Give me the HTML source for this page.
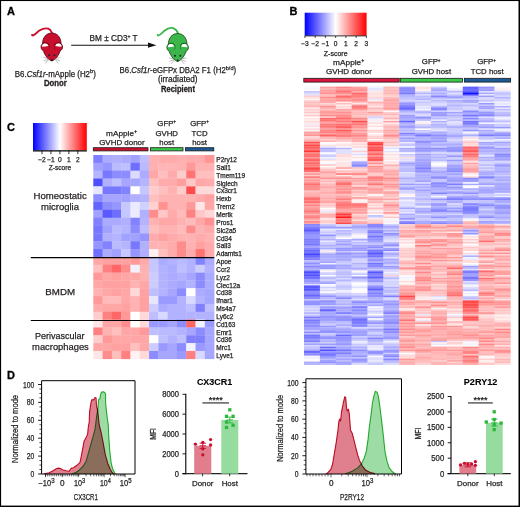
<!DOCTYPE html><html><head><meta charset="utf-8"><style>
html,body{margin:0;padding:0;background:#fff;}
svg{display:block;font-family:"Liberation Sans", sans-serif;}
</style></head><body>
<svg width="520" height="507" viewBox="0 0 520 507">
<rect width="520" height="507" fill="#fff"/>
<rect x="0" y="0" width="520" height="1.05" fill="#000"/><rect x="0" y="0" width="1.1" height="507" fill="#000"/><rect x="518.5" y="0" width="1.5" height="507" fill="#000"/><rect x="0" y="505.6" width="520" height="1.4" fill="#000"/>
<text x="7" y="15.2" font-size="11" text-anchor="start" font-weight="bold" fill="#000" stroke="#000" stroke-width="0.3" >A</text>
<text x="289.5" y="15.2" font-size="11" text-anchor="start" font-weight="bold" fill="#000" stroke="#000" stroke-width="0.3" >B</text>
<text x="7" y="130.6" font-size="11" text-anchor="start" font-weight="bold" fill="#000" stroke="#000" stroke-width="0.3" >C</text>
<text x="7" y="378.8" font-size="11" text-anchor="start" font-weight="bold" fill="#000" stroke="#000" stroke-width="0.3" >D</text>
<g transform="translate(51.8,33)"><path d="M0.3,0.3 C-0.5,-2 -1.5,-3.5 -3.5,-4.3 C-6,-5.3 -9,-4.5 -12.4,-2.4 C-15,-0.5 -17,1.8 -18.6,2.4 C-19.2,2.6 -19.6,2.2 -19.8,1.8" fill="none" stroke="#c8102e" stroke-width="1.8" stroke-linecap="round"/><path d="M0,0 C5.6,0 9.3,4.6 9.3,11 C9.3,14 8,16 6,17 L-6,17 C-8,16 -9.3,14 -9.3,11 C-9.3,4.6 -5.6,0 0,0 Z" fill="#c8102e" stroke="#4a000c" stroke-width="0.75"/><circle cx="-6.5" cy="14.0" r="4.3" fill="#c8102e" stroke="#4a000c" stroke-width="0.75"/><path d="M-9.75,13.80 A3.2,3.2 0 0 1 -3.45,12.90 Q-6.70,13.40 -9.75,13.80 Z" fill="#fff"/><circle cx="6.5" cy="14.0" r="4.3" fill="#c8102e" stroke="#4a000c" stroke-width="0.75"/><path d="M9.75,13.80 A3.2,3.2 0 0 0 3.45,12.90 Q6.70,13.40 9.75,13.80 Z" fill="#fff"/><path d="M-2.2,15.6 L-8.4,18.4 C-7.6,19.8 -7,21.2 -6.2,22.6 C-5.2,24.4 -4,25.6 -2.6,26.6 C-1.6,27.3 -0.8,27.9 0,27.9 C0.8,27.9 1.6,27.3 2.6,26.6 C4,25.6 5.2,24.4 6.2,22.6 C7,21.2 7.6,19.8 8.4,18.4 L2.2,15.6 Z" fill="#c8102e"/><rect x="-2.3" y="12" width="4.6" height="5" fill="#c8102e"/><path d="M-8.4,18.4 C-7.6,19.8 -7,21.2 -6.2,22.6 C-5.2,24.4 -4,25.6 -2.6,26.6 C-1.6,27.3 -0.8,27.9 0,27.9 C0.8,27.9 1.6,27.3 2.6,26.6 C4,25.6 5.2,24.4 6.2,22.6 C7,21.2 7.6,19.8 8.4,18.4" fill="none" stroke="#4a000c" stroke-width="0.75"/><circle cx="-2.7" cy="22.2" r="1.05" fill="#1c2a2a"/><circle cx="2.7" cy="22.2" r="1.05" fill="#1c2a2a"/><circle cx="0" cy="27" r="0.9" fill="#111"/><path d="M-3.4,25.6 L-8.6,24.4 M-3.5,26.3 L-8.2,27.8 M-3.6,26.9 L-6.6,30.4" stroke="#7a7a7a" stroke-width="0.5" fill="none"/><path d="M3.4,25.6 L8.6,24.4 M3.5,26.3 L8.2,27.8 M3.6,26.9 L6.6,30.4" stroke="#7a7a7a" stroke-width="0.5" fill="none"/></g>
<g transform="translate(177.65,33.5)"><path d="M0.4,0 C-0.3,-2.2 -1.8,-4.3 -4.5,-5.3 C-7.5,-6.2 -10.5,-5 -13.5,-2.5 C-15.5,-0.8 -17.5,1.5 -19.2,2 C-19.7,2.1 -20,1.8 -20.1,1.4" fill="none" stroke="#3cb54a" stroke-width="1.8" stroke-linecap="round"/><path d="M0,0 C5.6,0 9.3,4.6 9.3,11 C9.3,14 8,16 6,17 L-6,17 C-8,16 -9.3,14 -9.3,11 C-9.3,4.6 -5.6,0 0,0 Z" fill="#3cb54a" stroke="#0b3a10" stroke-width="0.75"/><circle cx="-6.5" cy="14.0" r="4.3" fill="#3cb54a" stroke="#0b3a10" stroke-width="0.75"/><path d="M-9.75,13.80 A3.2,3.2 0 0 1 -3.45,12.90 Q-6.70,13.40 -9.75,13.80 Z" fill="#fff"/><circle cx="6.5" cy="14.0" r="4.3" fill="#3cb54a" stroke="#0b3a10" stroke-width="0.75"/><path d="M9.75,13.80 A3.2,3.2 0 0 0 3.45,12.90 Q6.70,13.40 9.75,13.80 Z" fill="#fff"/><path d="M-2.2,15.6 L-8.4,18.4 C-7.6,19.8 -7,21.2 -6.2,22.6 C-5.2,24.4 -4,25.6 -2.6,26.6 C-1.6,27.3 -0.8,27.9 0,27.9 C0.8,27.9 1.6,27.3 2.6,26.6 C4,25.6 5.2,24.4 6.2,22.6 C7,21.2 7.6,19.8 8.4,18.4 L2.2,15.6 Z" fill="#3cb54a"/><rect x="-2.3" y="12" width="4.6" height="5" fill="#3cb54a"/><path d="M-8.4,18.4 C-7.6,19.8 -7,21.2 -6.2,22.6 C-5.2,24.4 -4,25.6 -2.6,26.6 C-1.6,27.3 -0.8,27.9 0,27.9 C0.8,27.9 1.6,27.3 2.6,26.6 C4,25.6 5.2,24.4 6.2,22.6 C7,21.2 7.6,19.8 8.4,18.4" fill="none" stroke="#0b3a10" stroke-width="0.75"/><circle cx="-2.7" cy="22.2" r="1.05" fill="#1c2a2a"/><circle cx="2.7" cy="22.2" r="1.05" fill="#1c2a2a"/><circle cx="0" cy="27" r="0.9" fill="#111"/><path d="M-3.4,25.6 L-8.6,24.4 M-3.5,26.3 L-8.2,27.8 M-3.6,26.9 L-6.6,30.4" stroke="#7a7a7a" stroke-width="0.5" fill="none"/><path d="M3.4,25.6 L8.6,24.4 M3.5,26.3 L8.2,27.8 M3.6,26.9 L6.6,30.4" stroke="#7a7a7a" stroke-width="0.5" fill="none"/></g>
<line x1="71.2" y1="45.2" x2="150" y2="45.2" stroke="#111" stroke-width="1.1"/>
<path d="M148,42.6 L156.4,45.2 L148,47.8 Z" fill="#111"/>
<text x="89.6" y="41" font-size="8.2" text-anchor="start" font-weight="normal" fill="#231f20" textLength="48" lengthAdjust="spacingAndGlyphs" stroke="#231f20" stroke-width="0.25" >BM ± CD3<tspan font-size="5" dy="-3">+</tspan><tspan dy="3"> T</tspan></text>
<text x="14.8" y="76.6" font-size="8.2" text-anchor="start" font-weight="normal" fill="#231f20" textLength="81" lengthAdjust="spacingAndGlyphs" stroke="#231f20" stroke-width="0.25" >B6.<tspan font-style="italic">Csf1r</tspan>-mApple (H2<tspan font-size="5.8" dy="-3.2">b</tspan><tspan dy="3.2">)</tspan></text>
<text x="43.9" y="85.9" font-size="8.2" text-anchor="start" font-weight="bold" fill="#231f20" textLength="22.9" lengthAdjust="spacingAndGlyphs" stroke="#231f20" stroke-width="0.3" >Donor</text>
<text x="119.6" y="73.2" font-size="8.2" text-anchor="start" font-weight="normal" fill="#231f20" textLength="116.5" lengthAdjust="spacingAndGlyphs" stroke="#231f20" stroke-width="0.25" >B6.<tspan font-style="italic">Csf1r</tspan>-eGFPx DBA2 F1 (H2<tspan font-size="5.8" dy="-3.2">b/d</tspan><tspan dy="3.2">)</tspan></text>
<text x="177.8" y="82.4" font-size="8.2" text-anchor="middle" font-weight="normal" fill="#231f20" stroke="#231f20" stroke-width="0.25" >(irradiated)</text>
<text x="161" y="91.8" font-size="8.2" text-anchor="start" font-weight="bold" fill="#231f20" textLength="34" lengthAdjust="spacingAndGlyphs" stroke="#231f20" stroke-width="0.3" >Recipient</text>
<defs><linearGradient id="cb" x1="0" x2="1" y1="0" y2="0"><stop offset="0" stop-color="#0000ff"/><stop offset="0.5" stop-color="#ffffff"/><stop offset="1" stop-color="#ff0000"/></linearGradient></defs>
<rect x="304.7" y="12.7" width="61.9" height="23" fill="url(#cb)"/>
<line x1="304.7" y1="35.9" x2="366.6" y2="35.9" stroke="#000" stroke-width="0.8"/>
<line x1="304.90" y1="35.9" x2="304.90" y2="38" stroke="#000" stroke-width="0.7"/>
<text x="304.90" y="45.6" font-size="6.6" text-anchor="middle" font-weight="normal" fill="#231f20" stroke="#231f20" stroke-width="0.25" >−3</text>
<line x1="315.15" y1="35.9" x2="315.15" y2="38" stroke="#000" stroke-width="0.7"/>
<text x="315.15" y="45.6" font-size="6.6" text-anchor="middle" font-weight="normal" fill="#231f20" stroke="#231f20" stroke-width="0.25" >−2</text>
<line x1="325.40" y1="35.9" x2="325.40" y2="38" stroke="#000" stroke-width="0.7"/>
<text x="325.40" y="45.6" font-size="6.6" text-anchor="middle" font-weight="normal" fill="#231f20" stroke="#231f20" stroke-width="0.25" >−1</text>
<line x1="335.65" y1="35.9" x2="335.65" y2="38" stroke="#000" stroke-width="0.7"/>
<text x="335.65" y="45.6" font-size="6.6" text-anchor="middle" font-weight="normal" fill="#231f20" stroke="#231f20" stroke-width="0.25" >0</text>
<line x1="345.90" y1="35.9" x2="345.90" y2="38" stroke="#000" stroke-width="0.7"/>
<text x="345.90" y="45.6" font-size="6.6" text-anchor="middle" font-weight="normal" fill="#231f20" stroke="#231f20" stroke-width="0.25" >1</text>
<line x1="356.15" y1="35.9" x2="356.15" y2="38" stroke="#000" stroke-width="0.7"/>
<text x="356.15" y="45.6" font-size="6.6" text-anchor="middle" font-weight="normal" fill="#231f20" stroke="#231f20" stroke-width="0.25" >2</text>
<line x1="366.40" y1="35.9" x2="366.40" y2="38" stroke="#000" stroke-width="0.7"/>
<text x="366.40" y="45.6" font-size="6.6" text-anchor="middle" font-weight="normal" fill="#231f20" stroke="#231f20" stroke-width="0.25" >3</text>
<text x="335.7" y="56" font-size="7" text-anchor="middle" font-weight="normal" fill="#231f20" stroke="#231f20" stroke-width="0.25" >Z-score</text>
<text x="333.1" y="65" font-size="7.8" text-anchor="start" font-weight="normal" fill="#231f20" textLength="31.2" lengthAdjust="spacingAndGlyphs" stroke="#231f20" stroke-width="0.25" >mApple<tspan font-size="5" dy="-2.8">+</tspan></text>
<text x="326" y="73.6" font-size="7.8" text-anchor="start" font-weight="normal" fill="#231f20" textLength="45.9" lengthAdjust="spacingAndGlyphs" stroke="#231f20" stroke-width="0.25" >GVHD donor</text>
<text x="431.2" y="64.4" font-size="7.8" text-anchor="middle" font-weight="normal" fill="#231f20" stroke="#231f20" stroke-width="0.25" >GFP<tspan font-size="4.6" dy="-2.8">+</tspan></text>
<text x="431.4" y="73.6" font-size="7.8" text-anchor="middle" font-weight="normal" fill="#231f20" stroke="#231f20" stroke-width="0.25" >GVHD host</text>
<text x="486.6" y="64.4" font-size="7.8" text-anchor="middle" font-weight="normal" fill="#231f20" stroke="#231f20" stroke-width="0.25" >GFP<tspan font-size="4.6" dy="-2.8">+</tspan></text>
<text x="487.2" y="73.6" font-size="7.8" text-anchor="middle" font-weight="normal" fill="#231f20" stroke="#231f20" stroke-width="0.25" >TCD host</text>
<rect x="303.8" y="78.3" width="95.40" height="3.8" fill="#dc1540" stroke="#1a1a1a" stroke-width="0.8"/>
<rect x="400.3" y="78.3" width="62.10" height="3.8" fill="#3cc84a" stroke="#1a1a1a" stroke-width="0.8"/>
<rect x="464.4" y="78.3" width="46.20" height="3.8" fill="#1b5a96" stroke="#1a1a1a" stroke-width="0.8"/>
<rect x="33" y="123" width="53.8" height="27.3" fill="url(#cb)"/>
<line x1="33" y1="150.9" x2="86.8" y2="150.9" stroke="#000" stroke-width="1.1"/>
<line x1="41.97" y1="150.5" x2="41.97" y2="154.2" stroke="#000" stroke-width="0.8"/>
<text x="41.97" y="161.6" font-size="6.6" text-anchor="middle" font-weight="normal" fill="#231f20" stroke="#231f20" stroke-width="0.25" >−2</text>
<line x1="50.93" y1="150.5" x2="50.93" y2="154.2" stroke="#000" stroke-width="0.8"/>
<text x="50.93" y="161.6" font-size="6.6" text-anchor="middle" font-weight="normal" fill="#231f20" stroke="#231f20" stroke-width="0.25" >−1</text>
<line x1="59.90" y1="150.5" x2="59.90" y2="154.2" stroke="#000" stroke-width="0.8"/>
<text x="59.90" y="161.6" font-size="6.6" text-anchor="middle" font-weight="normal" fill="#231f20" stroke="#231f20" stroke-width="0.25" >0</text>
<line x1="68.87" y1="150.5" x2="68.87" y2="154.2" stroke="#000" stroke-width="0.8"/>
<text x="68.87" y="161.6" font-size="6.6" text-anchor="middle" font-weight="normal" fill="#231f20" stroke="#231f20" stroke-width="0.25" >1</text>
<line x1="77.83" y1="150.5" x2="77.83" y2="154.2" stroke="#000" stroke-width="0.8"/>
<text x="77.83" y="161.6" font-size="6.6" text-anchor="middle" font-weight="normal" fill="#231f20" stroke="#231f20" stroke-width="0.25" >2</text>
<text x="59.9" y="170.2" font-size="6.6" text-anchor="middle" font-weight="normal" fill="#231f20" stroke="#231f20" stroke-width="0.25" >Z-score</text>
<text x="106.1" y="136.1" font-size="7.8" text-anchor="start" font-weight="normal" fill="#231f20" textLength="31" lengthAdjust="spacingAndGlyphs" stroke="#231f20" stroke-width="0.25" >mApple<tspan font-size="5" dy="-2.8">+</tspan></text>
<text x="99.2" y="144.8" font-size="7.8" text-anchor="start" font-weight="normal" fill="#231f20" textLength="45.5" lengthAdjust="spacingAndGlyphs" stroke="#231f20" stroke-width="0.25" >GVHD donor</text>
<text x="166.7" y="126" font-size="7.8" text-anchor="middle" font-weight="normal" fill="#231f20" stroke="#231f20" stroke-width="0.25" >GFP<tspan font-size="4.6" dy="-2.8">+</tspan></text>
<text x="166.7" y="135.8" font-size="7.8" text-anchor="middle" font-weight="normal" fill="#231f20" stroke="#231f20" stroke-width="0.25" >GVHD</text>
<text x="166.7" y="145.4" font-size="7.8" text-anchor="middle" font-weight="normal" fill="#231f20" stroke="#231f20" stroke-width="0.25" >host</text>
<text x="199.6" y="126" font-size="7.8" text-anchor="middle" font-weight="normal" fill="#231f20" stroke="#231f20" stroke-width="0.25" >GFP<tspan font-size="4.6" dy="-2.8">+</tspan></text>
<text x="199.6" y="135.8" font-size="7.8" text-anchor="middle" font-weight="normal" fill="#231f20" stroke="#231f20" stroke-width="0.25" >TCD</text>
<text x="199.6" y="145.4" font-size="7.8" text-anchor="middle" font-weight="normal" fill="#231f20" stroke="#231f20" stroke-width="0.25" >host</text>
<rect x="93.3" y="147.7" width="54.70" height="3.2" fill="#c8102e" stroke="#1a1a1a" stroke-width="0.8"/>
<rect x="150.5" y="147.7" width="32.50" height="3.2" fill="#3cc84a" stroke="#1a1a1a" stroke-width="0.8"/>
<rect x="185.5" y="147.7" width="28.30" height="3.2" fill="#1b5a96" stroke="#1a1a1a" stroke-width="0.8"/>
<g shape-rendering="auto"><rect x="93.30" y="155.00" width="9.59" height="8.14" fill="#8080ff"/><rect x="102.59" y="155.00" width="9.59" height="8.14" fill="#ababff"/><rect x="111.88" y="155.00" width="9.59" height="8.14" fill="#b0b0ff"/><rect x="121.18" y="155.00" width="9.59" height="8.14" fill="#ababff"/><rect x="130.47" y="155.00" width="9.59" height="8.14" fill="#a1a1ff"/><rect x="139.76" y="155.00" width="9.59" height="8.14" fill="#bfbfff"/><rect x="149.05" y="155.00" width="9.59" height="8.14" fill="#ffb0b0"/><rect x="158.35" y="155.00" width="9.59" height="8.14" fill="#ffabab"/><rect x="167.64" y="155.00" width="9.59" height="8.14" fill="#ffabab"/><rect x="176.93" y="155.00" width="9.59" height="8.14" fill="#ffb0b0"/><rect x="186.22" y="155.00" width="9.59" height="8.14" fill="#ffabab"/><rect x="195.52" y="155.00" width="9.59" height="8.14" fill="#ffabab"/><rect x="204.81" y="155.00" width="9.59" height="8.14" fill="#ff9696"/><rect x="93.30" y="162.84" width="9.59" height="8.14" fill="#a1a1ff"/><rect x="102.59" y="162.84" width="9.59" height="8.14" fill="#9696ff"/><rect x="111.88" y="162.84" width="9.59" height="8.14" fill="#babaff"/><rect x="121.18" y="162.84" width="9.59" height="8.14" fill="#bfbfff"/><rect x="130.47" y="162.84" width="9.59" height="8.14" fill="#6e6eff"/><rect x="139.76" y="162.84" width="9.59" height="8.14" fill="#babaff"/><rect x="149.05" y="162.84" width="9.59" height="8.14" fill="#ffb0b0"/><rect x="158.35" y="162.84" width="9.59" height="8.14" fill="#ffb5b5"/><rect x="167.64" y="162.84" width="9.59" height="8.14" fill="#ffb5b5"/><rect x="176.93" y="162.84" width="9.59" height="8.14" fill="#ffb2b2"/><rect x="186.22" y="162.84" width="9.59" height="8.14" fill="#ff9999"/><rect x="195.52" y="162.84" width="9.59" height="8.14" fill="#ffb2b2"/><rect x="204.81" y="162.84" width="9.59" height="8.14" fill="#ffb2b2"/><rect x="93.30" y="170.68" width="9.59" height="8.14" fill="#b5b5ff"/><rect x="102.59" y="170.68" width="9.59" height="8.14" fill="#7878ff"/><rect x="111.88" y="170.68" width="9.59" height="8.14" fill="#8c8cff"/><rect x="121.18" y="170.68" width="9.59" height="8.14" fill="#8c8cff"/><rect x="130.47" y="170.68" width="9.59" height="8.14" fill="#dbdbff"/><rect x="139.76" y="170.68" width="9.59" height="8.14" fill="#ababff"/><rect x="149.05" y="170.68" width="9.59" height="8.14" fill="#ffa6a6"/><rect x="158.35" y="170.68" width="9.59" height="8.14" fill="#ffbfbf"/><rect x="167.64" y="170.68" width="9.59" height="8.14" fill="#ffabab"/><rect x="176.93" y="170.68" width="9.59" height="8.14" fill="#ffcccc"/><rect x="186.22" y="170.68" width="9.59" height="8.14" fill="#ff7373"/><rect x="195.52" y="170.68" width="9.59" height="8.14" fill="#ffbfbf"/><rect x="204.81" y="170.68" width="9.59" height="8.14" fill="#ffbfbf"/><rect x="93.30" y="178.52" width="9.59" height="8.14" fill="#4f4fff"/><rect x="102.59" y="178.52" width="9.59" height="8.14" fill="#b0b0ff"/><rect x="111.88" y="178.52" width="9.59" height="8.14" fill="#bfbfff"/><rect x="121.18" y="178.52" width="9.59" height="8.14" fill="#a6a6ff"/><rect x="130.47" y="178.52" width="9.59" height="8.14" fill="#a6a6ff"/><rect x="139.76" y="178.52" width="9.59" height="8.14" fill="#b5b5ff"/><rect x="149.05" y="178.52" width="9.59" height="8.14" fill="#ffbfbf"/><rect x="158.35" y="178.52" width="9.59" height="8.14" fill="#ffabab"/><rect x="167.64" y="178.52" width="9.59" height="8.14" fill="#ffabab"/><rect x="176.93" y="178.52" width="9.59" height="8.14" fill="#ff9e9e"/><rect x="186.22" y="178.52" width="9.59" height="8.14" fill="#ffc7c7"/><rect x="195.52" y="178.52" width="9.59" height="8.14" fill="#ffa6a6"/><rect x="204.81" y="178.52" width="9.59" height="8.14" fill="#ffabab"/><rect x="93.30" y="186.35" width="9.59" height="8.14" fill="#e6e6ff"/><rect x="102.59" y="186.35" width="9.59" height="8.14" fill="#7878ff"/><rect x="111.88" y="186.35" width="9.59" height="8.14" fill="#7878ff"/><rect x="121.18" y="186.35" width="9.59" height="8.14" fill="#8282ff"/><rect x="130.47" y="186.35" width="9.59" height="8.14" fill="#ffffff"/><rect x="139.76" y="186.35" width="9.59" height="8.14" fill="#c7c7ff"/><rect x="149.05" y="186.35" width="9.59" height="8.14" fill="#ffcccc"/><rect x="158.35" y="186.35" width="9.59" height="8.14" fill="#ffbfbf"/><rect x="167.64" y="186.35" width="9.59" height="8.14" fill="#ffb2b2"/><rect x="176.93" y="186.35" width="9.59" height="8.14" fill="#ffcccc"/><rect x="186.22" y="186.35" width="9.59" height="8.14" fill="#ff4d4d"/><rect x="195.52" y="186.35" width="9.59" height="8.14" fill="#ffd9d9"/><rect x="204.81" y="186.35" width="9.59" height="8.14" fill="#ffd9d9"/><rect x="93.30" y="194.19" width="9.59" height="8.14" fill="#8c8cff"/><rect x="102.59" y="194.19" width="9.59" height="8.14" fill="#a6a6ff"/><rect x="111.88" y="194.19" width="9.59" height="8.14" fill="#a6a6ff"/><rect x="121.18" y="194.19" width="9.59" height="8.14" fill="#a1a1ff"/><rect x="130.47" y="194.19" width="9.59" height="8.14" fill="#b0b0ff"/><rect x="139.76" y="194.19" width="9.59" height="8.14" fill="#b5b5ff"/><rect x="149.05" y="194.19" width="9.59" height="8.14" fill="#ffbfbf"/><rect x="158.35" y="194.19" width="9.59" height="8.14" fill="#ffb2b2"/><rect x="167.64" y="194.19" width="9.59" height="8.14" fill="#ffb2b2"/><rect x="176.93" y="194.19" width="9.59" height="8.14" fill="#ffb2b2"/><rect x="186.22" y="194.19" width="9.59" height="8.14" fill="#ffb2b2"/><rect x="195.52" y="194.19" width="9.59" height="8.14" fill="#ffabab"/><rect x="204.81" y="194.19" width="9.59" height="8.14" fill="#ffa1a1"/><rect x="93.30" y="202.03" width="9.59" height="8.14" fill="#6363ff"/><rect x="102.59" y="202.03" width="9.59" height="8.14" fill="#8c8cff"/><rect x="111.88" y="202.03" width="9.59" height="8.14" fill="#9696ff"/><rect x="121.18" y="202.03" width="9.59" height="8.14" fill="#c7c7ff"/><rect x="130.47" y="202.03" width="9.59" height="8.14" fill="#ebebff"/><rect x="139.76" y="202.03" width="9.59" height="8.14" fill="#d1d1ff"/><rect x="149.05" y="202.03" width="9.59" height="8.14" fill="#ffd1d1"/><rect x="158.35" y="202.03" width="9.59" height="8.14" fill="#ff9191"/><rect x="167.64" y="202.03" width="9.59" height="8.14" fill="#ffb2b2"/><rect x="176.93" y="202.03" width="9.59" height="8.14" fill="#ffb2b2"/><rect x="186.22" y="202.03" width="9.59" height="8.14" fill="#ff9999"/><rect x="195.52" y="202.03" width="9.59" height="8.14" fill="#ffe6e6"/><rect x="204.81" y="202.03" width="9.59" height="8.14" fill="#ffa6a6"/><rect x="93.30" y="209.87" width="9.59" height="8.14" fill="#a1a1ff"/><rect x="102.59" y="209.87" width="9.59" height="8.14" fill="#5959ff"/><rect x="111.88" y="209.87" width="9.59" height="8.14" fill="#6e6eff"/><rect x="121.18" y="209.87" width="9.59" height="8.14" fill="#c7c7ff"/><rect x="130.47" y="209.87" width="9.59" height="8.14" fill="#ebebff"/><rect x="139.76" y="209.87" width="9.59" height="8.14" fill="#b0b0ff"/><rect x="149.05" y="209.87" width="9.59" height="8.14" fill="#ff8c8c"/><rect x="158.35" y="209.87" width="9.59" height="8.14" fill="#ffc7c7"/><rect x="167.64" y="209.87" width="9.59" height="8.14" fill="#ffabab"/><rect x="176.93" y="209.87" width="9.59" height="8.14" fill="#ffbaba"/><rect x="186.22" y="209.87" width="9.59" height="8.14" fill="#ff8282"/><rect x="195.52" y="209.87" width="9.59" height="8.14" fill="#ffc7c7"/><rect x="204.81" y="209.87" width="9.59" height="8.14" fill="#ffd6d6"/><rect x="93.30" y="217.71" width="9.59" height="8.14" fill="#8282ff"/><rect x="102.59" y="217.71" width="9.59" height="8.14" fill="#ababff"/><rect x="111.88" y="217.71" width="9.59" height="8.14" fill="#ababff"/><rect x="121.18" y="217.71" width="9.59" height="8.14" fill="#b0b0ff"/><rect x="130.47" y="217.71" width="9.59" height="8.14" fill="#8282ff"/><rect x="139.76" y="217.71" width="9.59" height="8.14" fill="#b5b5ff"/><rect x="149.05" y="217.71" width="9.59" height="8.14" fill="#ffb2b2"/><rect x="158.35" y="217.71" width="9.59" height="8.14" fill="#ffa6a6"/><rect x="167.64" y="217.71" width="9.59" height="8.14" fill="#ffa6a6"/><rect x="176.93" y="217.71" width="9.59" height="8.14" fill="#ffb2b2"/><rect x="186.22" y="217.71" width="9.59" height="8.14" fill="#ffbaba"/><rect x="195.52" y="217.71" width="9.59" height="8.14" fill="#ffa6a6"/><rect x="204.81" y="217.71" width="9.59" height="8.14" fill="#ff9191"/><rect x="93.30" y="225.55" width="9.59" height="8.14" fill="#7878ff"/><rect x="102.59" y="225.55" width="9.59" height="8.14" fill="#a1a1ff"/><rect x="111.88" y="225.55" width="9.59" height="8.14" fill="#babaff"/><rect x="121.18" y="225.55" width="9.59" height="8.14" fill="#b5b5ff"/><rect x="130.47" y="225.55" width="9.59" height="8.14" fill="#8c8cff"/><rect x="139.76" y="225.55" width="9.59" height="8.14" fill="#bfbfff"/><rect x="149.05" y="225.55" width="9.59" height="8.14" fill="#ffbfbf"/><rect x="158.35" y="225.55" width="9.59" height="8.14" fill="#ffb2b2"/><rect x="167.64" y="225.55" width="9.59" height="8.14" fill="#ffb2b2"/><rect x="176.93" y="225.55" width="9.59" height="8.14" fill="#ffbaba"/><rect x="186.22" y="225.55" width="9.59" height="8.14" fill="#ff8c8c"/><rect x="195.52" y="225.55" width="9.59" height="8.14" fill="#ffb2b2"/><rect x="204.81" y="225.55" width="9.59" height="8.14" fill="#ffabab"/><rect x="93.30" y="233.38" width="9.59" height="8.14" fill="#7878ff"/><rect x="102.59" y="233.38" width="9.59" height="8.14" fill="#b0b0ff"/><rect x="111.88" y="233.38" width="9.59" height="8.14" fill="#b5b5ff"/><rect x="121.18" y="233.38" width="9.59" height="8.14" fill="#a1a1ff"/><rect x="130.47" y="233.38" width="9.59" height="8.14" fill="#a1a1ff"/><rect x="139.76" y="233.38" width="9.59" height="8.14" fill="#9696ff"/><rect x="149.05" y="233.38" width="9.59" height="8.14" fill="#ffabab"/><rect x="158.35" y="233.38" width="9.59" height="8.14" fill="#ffa1a1"/><rect x="167.64" y="233.38" width="9.59" height="8.14" fill="#ffabab"/><rect x="176.93" y="233.38" width="9.59" height="8.14" fill="#ffb2b2"/><rect x="186.22" y="233.38" width="9.59" height="8.14" fill="#ffb2b2"/><rect x="195.52" y="233.38" width="9.59" height="8.14" fill="#ffabab"/><rect x="204.81" y="233.38" width="9.59" height="8.14" fill="#ffb2b2"/><rect x="93.30" y="241.22" width="9.59" height="8.14" fill="#9696ff"/><rect x="102.59" y="241.22" width="9.59" height="8.14" fill="#8282ff"/><rect x="111.88" y="241.22" width="9.59" height="8.14" fill="#babaff"/><rect x="121.18" y="241.22" width="9.59" height="8.14" fill="#b5b5ff"/><rect x="130.47" y="241.22" width="9.59" height="8.14" fill="#7878ff"/><rect x="139.76" y="241.22" width="9.59" height="8.14" fill="#b0b0ff"/><rect x="149.05" y="241.22" width="9.59" height="8.14" fill="#ffb2b2"/><rect x="158.35" y="241.22" width="9.59" height="8.14" fill="#ffb2b2"/><rect x="167.64" y="241.22" width="9.59" height="8.14" fill="#ffabab"/><rect x="176.93" y="241.22" width="9.59" height="8.14" fill="#ff8c8c"/><rect x="186.22" y="241.22" width="9.59" height="8.14" fill="#ffb2b2"/><rect x="195.52" y="241.22" width="9.59" height="8.14" fill="#ffa1a1"/><rect x="204.81" y="241.22" width="9.59" height="8.14" fill="#ffabab"/><rect x="93.30" y="249.06" width="9.59" height="8.14" fill="#6e6eff"/><rect x="102.59" y="249.06" width="9.59" height="8.14" fill="#ababff"/><rect x="111.88" y="249.06" width="9.59" height="8.14" fill="#a1a1ff"/><rect x="121.18" y="249.06" width="9.59" height="8.14" fill="#c7c7ff"/><rect x="130.47" y="249.06" width="9.59" height="8.14" fill="#9696ff"/><rect x="139.76" y="249.06" width="9.59" height="8.14" fill="#b0b0ff"/><rect x="149.05" y="249.06" width="9.59" height="8.14" fill="#fff0f0"/><rect x="158.35" y="249.06" width="9.59" height="8.14" fill="#ffbfbf"/><rect x="167.64" y="249.06" width="9.59" height="8.14" fill="#ffabab"/><rect x="176.93" y="249.06" width="9.59" height="8.14" fill="#ff8c8c"/><rect x="186.22" y="249.06" width="9.59" height="8.14" fill="#ffabab"/><rect x="195.52" y="249.06" width="9.59" height="8.14" fill="#ff7373"/><rect x="204.81" y="249.06" width="9.59" height="8.14" fill="#ffabab"/><rect x="93.30" y="256.90" width="9.59" height="8.14" fill="#ffa6a6"/><rect x="102.59" y="256.90" width="9.59" height="8.14" fill="#ffa1a1"/><rect x="111.88" y="256.90" width="9.59" height="8.14" fill="#ffa1a1"/><rect x="121.18" y="256.90" width="9.59" height="8.14" fill="#ffa1a1"/><rect x="130.47" y="256.90" width="9.59" height="8.14" fill="#ff9999"/><rect x="139.76" y="256.90" width="9.59" height="8.14" fill="#ffabab"/><rect x="149.05" y="256.90" width="9.59" height="8.14" fill="#c7c7ff"/><rect x="158.35" y="256.90" width="9.59" height="8.14" fill="#ababff"/><rect x="167.64" y="256.90" width="9.59" height="8.14" fill="#b2b2ff"/><rect x="176.93" y="256.90" width="9.59" height="8.14" fill="#babaff"/><rect x="186.22" y="256.90" width="9.59" height="8.14" fill="#b2b2ff"/><rect x="195.52" y="256.90" width="9.59" height="8.14" fill="#8282ff"/><rect x="204.81" y="256.90" width="9.59" height="8.14" fill="#ababff"/><rect x="93.30" y="264.74" width="9.59" height="8.14" fill="#ffbfbf"/><rect x="102.59" y="264.74" width="9.59" height="8.14" fill="#ff8080"/><rect x="111.88" y="264.74" width="9.59" height="8.14" fill="#ff6666"/><rect x="121.18" y="264.74" width="9.59" height="8.14" fill="#ff8c8c"/><rect x="130.47" y="264.74" width="9.59" height="8.14" fill="#f2f2ff"/><rect x="139.76" y="264.74" width="9.59" height="8.14" fill="#ffb2b2"/><rect x="149.05" y="264.74" width="9.59" height="8.14" fill="#c7c7ff"/><rect x="158.35" y="264.74" width="9.59" height="8.14" fill="#b2b2ff"/><rect x="167.64" y="264.74" width="9.59" height="8.14" fill="#ababff"/><rect x="176.93" y="264.74" width="9.59" height="8.14" fill="#bfbfff"/><rect x="186.22" y="264.74" width="9.59" height="8.14" fill="#b2b2ff"/><rect x="195.52" y="264.74" width="9.59" height="8.14" fill="#ccccff"/><rect x="204.81" y="264.74" width="9.59" height="8.14" fill="#b2b2ff"/><rect x="93.30" y="272.58" width="9.59" height="8.14" fill="#ff9999"/><rect x="102.59" y="272.58" width="9.59" height="8.14" fill="#ffa6a6"/><rect x="111.88" y="272.58" width="9.59" height="8.14" fill="#ffa1a1"/><rect x="121.18" y="272.58" width="9.59" height="8.14" fill="#ffa6a6"/><rect x="130.47" y="272.58" width="9.59" height="8.14" fill="#ffa6a6"/><rect x="139.76" y="272.58" width="9.59" height="8.14" fill="#ffb2b2"/><rect x="149.05" y="272.58" width="9.59" height="8.14" fill="#ccccff"/><rect x="158.35" y="272.58" width="9.59" height="8.14" fill="#b2b2ff"/><rect x="167.64" y="272.58" width="9.59" height="8.14" fill="#ababff"/><rect x="176.93" y="272.58" width="9.59" height="8.14" fill="#b2b2ff"/><rect x="186.22" y="272.58" width="9.59" height="8.14" fill="#a6a6ff"/><rect x="195.52" y="272.58" width="9.59" height="8.14" fill="#8c8cff"/><rect x="204.81" y="272.58" width="9.59" height="8.14" fill="#ababff"/><rect x="93.30" y="280.42" width="9.59" height="8.14" fill="#ffa6a6"/><rect x="102.59" y="280.42" width="9.59" height="8.14" fill="#ffa1a1"/><rect x="111.88" y="280.42" width="9.59" height="8.14" fill="#ffa1a1"/><rect x="121.18" y="280.42" width="9.59" height="8.14" fill="#ffa1a1"/><rect x="130.47" y="280.42" width="9.59" height="8.14" fill="#ffb2b2"/><rect x="139.76" y="280.42" width="9.59" height="8.14" fill="#ffa6a6"/><rect x="149.05" y="280.42" width="9.59" height="8.14" fill="#ccccff"/><rect x="158.35" y="280.42" width="9.59" height="8.14" fill="#b2b2ff"/><rect x="167.64" y="280.42" width="9.59" height="8.14" fill="#ababff"/><rect x="176.93" y="280.42" width="9.59" height="8.14" fill="#a6a6ff"/><rect x="186.22" y="280.42" width="9.59" height="8.14" fill="#b2b2ff"/><rect x="195.52" y="280.42" width="9.59" height="8.14" fill="#8c8cff"/><rect x="204.81" y="280.42" width="9.59" height="8.14" fill="#ababff"/><rect x="93.30" y="288.25" width="9.59" height="8.14" fill="#ffb2b2"/><rect x="102.59" y="288.25" width="9.59" height="8.14" fill="#ffa6a6"/><rect x="111.88" y="288.25" width="9.59" height="8.14" fill="#ffa1a1"/><rect x="121.18" y="288.25" width="9.59" height="8.14" fill="#ffa6a6"/><rect x="130.47" y="288.25" width="9.59" height="8.14" fill="#ffd9d9"/><rect x="139.76" y="288.25" width="9.59" height="8.14" fill="#ffa1a1"/><rect x="149.05" y="288.25" width="9.59" height="8.14" fill="#bfbfff"/><rect x="158.35" y="288.25" width="9.59" height="8.14" fill="#b2b2ff"/><rect x="167.64" y="288.25" width="9.59" height="8.14" fill="#a6a6ff"/><rect x="176.93" y="288.25" width="9.59" height="8.14" fill="#8c8cff"/><rect x="186.22" y="288.25" width="9.59" height="8.14" fill="#ffffff"/><rect x="195.52" y="288.25" width="9.59" height="8.14" fill="#ababff"/><rect x="204.81" y="288.25" width="9.59" height="8.14" fill="#a6a6ff"/><rect x="93.30" y="296.09" width="9.59" height="8.14" fill="#ff9999"/><rect x="102.59" y="296.09" width="9.59" height="8.14" fill="#ffbaba"/><rect x="111.88" y="296.09" width="9.59" height="8.14" fill="#ffbaba"/><rect x="121.18" y="296.09" width="9.59" height="8.14" fill="#ffa6a6"/><rect x="130.47" y="296.09" width="9.59" height="8.14" fill="#ffb2b2"/><rect x="139.76" y="296.09" width="9.59" height="8.14" fill="#ffa1a1"/><rect x="149.05" y="296.09" width="9.59" height="8.14" fill="#e6e6ff"/><rect x="158.35" y="296.09" width="9.59" height="8.14" fill="#9999ff"/><rect x="167.64" y="296.09" width="9.59" height="8.14" fill="#9999ff"/><rect x="176.93" y="296.09" width="9.59" height="8.14" fill="#b2b2ff"/><rect x="186.22" y="296.09" width="9.59" height="8.14" fill="#d9d9ff"/><rect x="195.52" y="296.09" width="9.59" height="8.14" fill="#b2b2ff"/><rect x="204.81" y="296.09" width="9.59" height="8.14" fill="#a6a6ff"/><rect x="93.30" y="303.93" width="9.59" height="8.14" fill="#ffabab"/><rect x="102.59" y="303.93" width="9.59" height="8.14" fill="#ffa6a6"/><rect x="111.88" y="303.93" width="9.59" height="8.14" fill="#ffa6a6"/><rect x="121.18" y="303.93" width="9.59" height="8.14" fill="#ffa1a1"/><rect x="130.47" y="303.93" width="9.59" height="8.14" fill="#ffb2b2"/><rect x="139.76" y="303.93" width="9.59" height="8.14" fill="#ffa1a1"/><rect x="149.05" y="303.93" width="9.59" height="8.14" fill="#ccccff"/><rect x="158.35" y="303.93" width="9.59" height="8.14" fill="#ababff"/><rect x="167.64" y="303.93" width="9.59" height="8.14" fill="#b2b2ff"/><rect x="176.93" y="303.93" width="9.59" height="8.14" fill="#b2b2ff"/><rect x="186.22" y="303.93" width="9.59" height="8.14" fill="#bfbfff"/><rect x="195.52" y="303.93" width="9.59" height="8.14" fill="#8080ff"/><rect x="204.81" y="303.93" width="9.59" height="8.14" fill="#bfbfff"/><rect x="93.30" y="311.77" width="9.59" height="8.14" fill="#ffcccc"/><rect x="102.59" y="311.77" width="9.59" height="8.14" fill="#ff8080"/><rect x="111.88" y="311.77" width="9.59" height="8.14" fill="#ff6666"/><rect x="121.18" y="311.77" width="9.59" height="8.14" fill="#ff9999"/><rect x="130.47" y="311.77" width="9.59" height="8.14" fill="#ffffff"/><rect x="139.76" y="311.77" width="9.59" height="8.14" fill="#ffd9d9"/><rect x="149.05" y="311.77" width="9.59" height="8.14" fill="#bfbfff"/><rect x="158.35" y="311.77" width="9.59" height="8.14" fill="#d9d9ff"/><rect x="167.64" y="311.77" width="9.59" height="8.14" fill="#b2b2ff"/><rect x="176.93" y="311.77" width="9.59" height="8.14" fill="#b2b2ff"/><rect x="186.22" y="311.77" width="9.59" height="8.14" fill="#b2b2ff"/><rect x="195.52" y="311.77" width="9.59" height="8.14" fill="#b2b2ff"/><rect x="204.81" y="311.77" width="9.59" height="8.14" fill="#b2b2ff"/><rect x="93.30" y="319.61" width="9.59" height="8.14" fill="#ffe6e6"/><rect x="102.59" y="319.61" width="9.59" height="8.14" fill="#ffa6a6"/><rect x="111.88" y="319.61" width="9.59" height="8.14" fill="#ffa6a6"/><rect x="121.18" y="319.61" width="9.59" height="8.14" fill="#ff8c8c"/><rect x="130.47" y="319.61" width="9.59" height="8.14" fill="#ffffff"/><rect x="139.76" y="319.61" width="9.59" height="8.14" fill="#ffd9d9"/><rect x="149.05" y="319.61" width="9.59" height="8.14" fill="#9999ff"/><rect x="158.35" y="319.61" width="9.59" height="8.14" fill="#9999ff"/><rect x="167.64" y="319.61" width="9.59" height="8.14" fill="#a6a6ff"/><rect x="176.93" y="319.61" width="9.59" height="8.14" fill="#8c8cff"/><rect x="186.22" y="319.61" width="9.59" height="8.14" fill="#ff6666"/><rect x="195.52" y="319.61" width="9.59" height="8.14" fill="#f2f2ff"/><rect x="204.81" y="319.61" width="9.59" height="8.14" fill="#9999ff"/><rect x="93.30" y="327.45" width="9.59" height="8.14" fill="#ff8080"/><rect x="102.59" y="327.45" width="9.59" height="8.14" fill="#ffb2b2"/><rect x="111.88" y="327.45" width="9.59" height="8.14" fill="#ffbfbf"/><rect x="121.18" y="327.45" width="9.59" height="8.14" fill="#ffa6a6"/><rect x="130.47" y="327.45" width="9.59" height="8.14" fill="#ffa6a6"/><rect x="139.76" y="327.45" width="9.59" height="8.14" fill="#ff9999"/><rect x="149.05" y="327.45" width="9.59" height="8.14" fill="#bfbfff"/><rect x="158.35" y="327.45" width="9.59" height="8.14" fill="#babaff"/><rect x="167.64" y="327.45" width="9.59" height="8.14" fill="#babaff"/><rect x="176.93" y="327.45" width="9.59" height="8.14" fill="#b2b2ff"/><rect x="186.22" y="327.45" width="9.59" height="8.14" fill="#a6a6ff"/><rect x="195.52" y="327.45" width="9.59" height="8.14" fill="#8c8cff"/><rect x="204.81" y="327.45" width="9.59" height="8.14" fill="#a6a6ff"/><rect x="93.30" y="335.28" width="9.59" height="8.14" fill="#ffcccc"/><rect x="102.59" y="335.28" width="9.59" height="8.14" fill="#ff9999"/><rect x="111.88" y="335.28" width="9.59" height="8.14" fill="#ffa6a6"/><rect x="121.18" y="335.28" width="9.59" height="8.14" fill="#ffa6a6"/><rect x="130.47" y="335.28" width="9.59" height="8.14" fill="#ffa6a6"/><rect x="139.76" y="335.28" width="9.59" height="8.14" fill="#ffa6a6"/><rect x="149.05" y="335.28" width="9.59" height="8.14" fill="#ffffff"/><rect x="158.35" y="335.28" width="9.59" height="8.14" fill="#bfbfff"/><rect x="167.64" y="335.28" width="9.59" height="8.14" fill="#b2b2ff"/><rect x="176.93" y="335.28" width="9.59" height="8.14" fill="#bfbfff"/><rect x="186.22" y="335.28" width="9.59" height="8.14" fill="#8080ff"/><rect x="195.52" y="335.28" width="9.59" height="8.14" fill="#8080ff"/><rect x="204.81" y="335.28" width="9.59" height="8.14" fill="#a6a6ff"/><rect x="93.30" y="343.12" width="9.59" height="8.14" fill="#ffa6a6"/><rect x="102.59" y="343.12" width="9.59" height="8.14" fill="#ffa6a6"/><rect x="111.88" y="343.12" width="9.59" height="8.14" fill="#ffa1a1"/><rect x="121.18" y="343.12" width="9.59" height="8.14" fill="#ffa1a1"/><rect x="130.47" y="343.12" width="9.59" height="8.14" fill="#ffbfbf"/><rect x="139.76" y="343.12" width="9.59" height="8.14" fill="#ffa6a6"/><rect x="149.05" y="343.12" width="9.59" height="8.14" fill="#ccccff"/><rect x="158.35" y="343.12" width="9.59" height="8.14" fill="#9999ff"/><rect x="167.64" y="343.12" width="9.59" height="8.14" fill="#a6a6ff"/><rect x="176.93" y="343.12" width="9.59" height="8.14" fill="#8c8cff"/><rect x="186.22" y="343.12" width="9.59" height="8.14" fill="#f2f2ff"/><rect x="195.52" y="343.12" width="9.59" height="8.14" fill="#9999ff"/><rect x="204.81" y="343.12" width="9.59" height="8.14" fill="#a6a6ff"/><rect x="93.30" y="350.96" width="9.59" height="8.14" fill="#ffe6e6"/><rect x="102.59" y="350.96" width="9.59" height="8.14" fill="#ff8c8c"/><rect x="111.88" y="350.96" width="9.59" height="8.14" fill="#ffbfbf"/><rect x="121.18" y="350.96" width="9.59" height="8.14" fill="#ff8080"/><rect x="130.47" y="350.96" width="9.59" height="8.14" fill="#fff2f2"/><rect x="139.76" y="350.96" width="9.59" height="8.14" fill="#ffd9d9"/><rect x="149.05" y="350.96" width="9.59" height="8.14" fill="#8c8cff"/><rect x="158.35" y="350.96" width="9.59" height="8.14" fill="#a6a6ff"/><rect x="167.64" y="350.96" width="9.59" height="8.14" fill="#a6a6ff"/><rect x="176.93" y="350.96" width="9.59" height="8.14" fill="#9999ff"/><rect x="186.22" y="350.96" width="9.59" height="8.14" fill="#ff8080"/><rect x="195.52" y="350.96" width="9.59" height="8.14" fill="#d9d9ff"/><rect x="204.81" y="350.96" width="9.59" height="8.14" fill="#a6a6ff"/><rect x="304.00" y="86.60" width="16.08" height="1.79" fill="#fffefe"/><rect x="319.88" y="86.60" width="16.08" height="1.79" fill="#ffa1a1"/><rect x="335.75" y="86.60" width="16.08" height="1.79" fill="#ff8989"/><rect x="351.63" y="86.60" width="16.08" height="1.79" fill="#ffa2a2"/><rect x="367.51" y="86.60" width="16.08" height="1.79" fill="#f1f1ff"/><rect x="383.38" y="86.60" width="16.08" height="1.79" fill="#ffb9b9"/><rect x="399.26" y="86.60" width="16.08" height="1.79" fill="#9898ff"/><rect x="415.14" y="86.60" width="16.08" height="1.79" fill="#ffe0e0"/><rect x="431.02" y="86.60" width="16.08" height="1.79" fill="#c8c8ff"/><rect x="446.89" y="86.60" width="16.08" height="1.79" fill="#fefeff"/><rect x="462.77" y="86.60" width="16.08" height="1.79" fill="#6060ff"/><rect x="478.65" y="86.60" width="16.08" height="1.79" fill="#9494ff"/><rect x="494.52" y="86.60" width="16.08" height="1.79" fill="#fff7f7"/><rect x="304.00" y="88.09" width="16.08" height="1.79" fill="#f6f6ff"/><rect x="319.88" y="88.09" width="16.08" height="1.79" fill="#ffb5b5"/><rect x="335.75" y="88.09" width="16.08" height="1.79" fill="#ff9d9d"/><rect x="351.63" y="88.09" width="16.08" height="1.79" fill="#ff9898"/><rect x="367.51" y="88.09" width="16.08" height="1.79" fill="#e2e2ff"/><rect x="383.38" y="88.09" width="16.08" height="1.79" fill="#ffbfbf"/><rect x="399.26" y="88.09" width="16.08" height="1.79" fill="#8585ff"/><rect x="415.14" y="88.09" width="16.08" height="1.79" fill="#ffe1e1"/><rect x="431.02" y="88.09" width="16.08" height="1.79" fill="#acacff"/><rect x="446.89" y="88.09" width="16.08" height="1.79" fill="#f2f2ff"/><rect x="462.77" y="88.09" width="16.08" height="1.79" fill="#5b5bff"/><rect x="478.65" y="88.09" width="16.08" height="1.79" fill="#9f9fff"/><rect x="494.52" y="88.09" width="16.08" height="1.79" fill="#ffefef"/><rect x="304.00" y="89.59" width="16.08" height="1.79" fill="#fffafa"/><rect x="319.88" y="89.59" width="16.08" height="1.79" fill="#ff9f9f"/><rect x="335.75" y="89.59" width="16.08" height="1.79" fill="#ff8787"/><rect x="351.63" y="89.59" width="16.08" height="1.79" fill="#ff8c8c"/><rect x="367.51" y="89.59" width="16.08" height="1.79" fill="#e9e9ff"/><rect x="383.38" y="89.59" width="16.08" height="1.79" fill="#ffb8b8"/><rect x="399.26" y="89.59" width="16.08" height="1.79" fill="#8a8aff"/><rect x="415.14" y="89.59" width="16.08" height="1.79" fill="#fff4f4"/><rect x="431.02" y="89.59" width="16.08" height="1.79" fill="#a5a5ff"/><rect x="446.89" y="89.59" width="16.08" height="1.79" fill="#e1e1ff"/><rect x="462.77" y="89.59" width="16.08" height="1.79" fill="#6b6bff"/><rect x="478.65" y="89.59" width="16.08" height="1.79" fill="#9b9bff"/><rect x="494.52" y="89.59" width="16.08" height="1.79" fill="#f0f0ff"/><rect x="304.00" y="91.08" width="16.08" height="1.79" fill="#c2c2ff"/><rect x="319.88" y="91.08" width="16.08" height="1.79" fill="#ff9f9f"/><rect x="335.75" y="91.08" width="16.08" height="1.79" fill="#ff6c6c"/><rect x="351.63" y="91.08" width="16.08" height="1.79" fill="#ffb0b0"/><rect x="367.51" y="91.08" width="16.08" height="1.79" fill="#ffe7e7"/><rect x="383.38" y="91.08" width="16.08" height="1.79" fill="#ffbcbc"/><rect x="399.26" y="91.08" width="16.08" height="1.79" fill="#9090ff"/><rect x="415.14" y="91.08" width="16.08" height="1.79" fill="#ddddff"/><rect x="431.02" y="91.08" width="16.08" height="1.79" fill="#c5c5ff"/><rect x="446.89" y="91.08" width="16.08" height="1.79" fill="#b5b5ff"/><rect x="462.77" y="91.08" width="16.08" height="1.79" fill="#5858ff"/><rect x="478.65" y="91.08" width="16.08" height="1.79" fill="#e1e1ff"/><rect x="494.52" y="91.08" width="16.08" height="1.79" fill="#dadaff"/><rect x="304.00" y="92.58" width="16.08" height="1.79" fill="#dbdbff"/><rect x="319.88" y="92.58" width="16.08" height="1.79" fill="#ff9191"/><rect x="335.75" y="92.58" width="16.08" height="1.79" fill="#ff9494"/><rect x="351.63" y="92.58" width="16.08" height="1.79" fill="#ff6d6d"/><rect x="367.51" y="92.58" width="16.08" height="1.79" fill="#ffe0e0"/><rect x="383.38" y="92.58" width="16.08" height="1.79" fill="#ffb6b6"/><rect x="399.26" y="92.58" width="16.08" height="1.79" fill="#7a7aff"/><rect x="415.14" y="92.58" width="16.08" height="1.79" fill="#b3b3ff"/><rect x="431.02" y="92.58" width="16.08" height="1.79" fill="#afafff"/><rect x="446.89" y="92.58" width="16.08" height="1.79" fill="#e1e1ff"/><rect x="462.77" y="92.58" width="16.08" height="1.79" fill="#1111ff"/><rect x="478.65" y="92.58" width="16.08" height="1.79" fill="#a9a9ff"/><rect x="494.52" y="92.58" width="16.08" height="1.79" fill="#bfbfff"/><rect x="304.00" y="94.07" width="16.08" height="1.79" fill="#dfdfff"/><rect x="319.88" y="94.07" width="16.08" height="1.79" fill="#ffbaba"/><rect x="335.75" y="94.07" width="16.08" height="1.79" fill="#ffadad"/><rect x="351.63" y="94.07" width="16.08" height="1.79" fill="#ff7373"/><rect x="367.51" y="94.07" width="16.08" height="1.79" fill="#ffe2e2"/><rect x="383.38" y="94.07" width="16.08" height="1.79" fill="#ffc4c4"/><rect x="399.26" y="94.07" width="16.08" height="1.79" fill="#a7a7ff"/><rect x="415.14" y="94.07" width="16.08" height="1.79" fill="#ddddff"/><rect x="431.02" y="94.07" width="16.08" height="1.79" fill="#bdbdff"/><rect x="446.89" y="94.07" width="16.08" height="1.79" fill="#cbcbff"/><rect x="462.77" y="94.07" width="16.08" height="1.79" fill="#4343ff"/><rect x="478.65" y="94.07" width="16.08" height="1.79" fill="#e7e7ff"/><rect x="494.52" y="94.07" width="16.08" height="1.79" fill="#c6c6ff"/><rect x="304.00" y="95.57" width="16.08" height="1.79" fill="#ffcfcf"/><rect x="319.88" y="95.57" width="16.08" height="1.79" fill="#ffb2b2"/><rect x="335.75" y="95.57" width="16.08" height="1.79" fill="#ff6b6b"/><rect x="351.63" y="95.57" width="16.08" height="1.79" fill="#ff7f7f"/><rect x="367.51" y="95.57" width="16.08" height="1.79" fill="#ffe1e1"/><rect x="383.38" y="95.57" width="16.08" height="1.79" fill="#ffd4d4"/><rect x="399.26" y="95.57" width="16.08" height="1.79" fill="#b8b8ff"/><rect x="415.14" y="95.57" width="16.08" height="1.79" fill="#bdbdff"/><rect x="431.02" y="95.57" width="16.08" height="1.79" fill="#8787ff"/><rect x="446.89" y="95.57" width="16.08" height="1.79" fill="#a8a8ff"/><rect x="462.77" y="95.57" width="16.08" height="1.79" fill="#b4b4ff"/><rect x="478.65" y="95.57" width="16.08" height="1.79" fill="#9e9eff"/><rect x="494.52" y="95.57" width="16.08" height="1.79" fill="#d9d9ff"/><rect x="304.00" y="97.06" width="16.08" height="1.79" fill="#ffdcdc"/><rect x="319.88" y="97.06" width="16.08" height="1.79" fill="#ff8b8b"/><rect x="335.75" y="97.06" width="16.08" height="1.79" fill="#ff7878"/><rect x="351.63" y="97.06" width="16.08" height="1.79" fill="#ff9090"/><rect x="367.51" y="97.06" width="16.08" height="1.79" fill="#ffd4d4"/><rect x="383.38" y="97.06" width="16.08" height="1.79" fill="#ffb9b9"/><rect x="399.26" y="97.06" width="16.08" height="1.79" fill="#bdbdff"/><rect x="415.14" y="97.06" width="16.08" height="1.79" fill="#c1c1ff"/><rect x="431.02" y="97.06" width="16.08" height="1.79" fill="#acacff"/><rect x="446.89" y="97.06" width="16.08" height="1.79" fill="#9a9aff"/><rect x="462.77" y="97.06" width="16.08" height="1.79" fill="#b2b2ff"/><rect x="478.65" y="97.06" width="16.08" height="1.79" fill="#d6d6ff"/><rect x="494.52" y="97.06" width="16.08" height="1.79" fill="#afafff"/><rect x="304.00" y="98.56" width="16.08" height="1.79" fill="#fff5f5"/><rect x="319.88" y="98.56" width="16.08" height="1.79" fill="#ffaeae"/><rect x="335.75" y="98.56" width="16.08" height="1.79" fill="#ffa4a4"/><rect x="351.63" y="98.56" width="16.08" height="1.79" fill="#ff8e8e"/><rect x="367.51" y="98.56" width="16.08" height="1.79" fill="#e5e5ff"/><rect x="383.38" y="98.56" width="16.08" height="1.79" fill="#ffaaaa"/><rect x="399.26" y="98.56" width="16.08" height="1.79" fill="#c4c4ff"/><rect x="415.14" y="98.56" width="16.08" height="1.79" fill="#b4b4ff"/><rect x="431.02" y="98.56" width="16.08" height="1.79" fill="#d1d1ff"/><rect x="446.89" y="98.56" width="16.08" height="1.79" fill="#dbdbff"/><rect x="462.77" y="98.56" width="16.08" height="1.79" fill="#c9c9ff"/><rect x="478.65" y="98.56" width="16.08" height="1.79" fill="#d8d8ff"/><rect x="494.52" y="98.56" width="16.08" height="1.79" fill="#d4d4ff"/><rect x="304.00" y="100.05" width="16.08" height="1.79" fill="#ffd3d3"/><rect x="319.88" y="100.05" width="16.08" height="1.79" fill="#ff9b9b"/><rect x="335.75" y="100.05" width="16.08" height="1.79" fill="#ff8585"/><rect x="351.63" y="100.05" width="16.08" height="1.79" fill="#ff8b8b"/><rect x="367.51" y="100.05" width="16.08" height="1.79" fill="#fff0f0"/><rect x="383.38" y="100.05" width="16.08" height="1.79" fill="#ffa1a1"/><rect x="399.26" y="100.05" width="16.08" height="1.79" fill="#d6d6ff"/><rect x="415.14" y="100.05" width="16.08" height="1.79" fill="#dadaff"/><rect x="431.02" y="100.05" width="16.08" height="1.79" fill="#b7b7ff"/><rect x="446.89" y="100.05" width="16.08" height="1.79" fill="#a8a8ff"/><rect x="462.77" y="100.05" width="16.08" height="1.79" fill="#9c9cff"/><rect x="478.65" y="100.05" width="16.08" height="1.79" fill="#bdbdff"/><rect x="494.52" y="100.05" width="16.08" height="1.79" fill="#d0d0ff"/><rect x="304.00" y="101.55" width="16.08" height="1.79" fill="#ffbcbc"/><rect x="319.88" y="101.55" width="16.08" height="1.79" fill="#ffabab"/><rect x="335.75" y="101.55" width="16.08" height="1.79" fill="#ffebeb"/><rect x="351.63" y="101.55" width="16.08" height="1.79" fill="#ffc1c1"/><rect x="367.51" y="101.55" width="16.08" height="1.79" fill="#ffb2b2"/><rect x="383.38" y="101.55" width="16.08" height="1.79" fill="#ffafaf"/><rect x="399.26" y="101.55" width="16.08" height="1.79" fill="#afafff"/><rect x="415.14" y="101.55" width="16.08" height="1.79" fill="#c7c7ff"/><rect x="431.02" y="101.55" width="16.08" height="1.79" fill="#d1d1ff"/><rect x="446.89" y="101.55" width="16.08" height="1.79" fill="#bdbdff"/><rect x="462.77" y="101.55" width="16.08" height="1.79" fill="#acacff"/><rect x="478.65" y="101.55" width="16.08" height="1.79" fill="#e8e8ff"/><rect x="494.52" y="101.55" width="16.08" height="1.79" fill="#f1f1ff"/><rect x="304.00" y="103.04" width="16.08" height="1.79" fill="#ffc8c8"/><rect x="319.88" y="103.04" width="16.08" height="1.79" fill="#ffd8d8"/><rect x="335.75" y="103.04" width="16.08" height="1.79" fill="#ffbbbb"/><rect x="351.63" y="103.04" width="16.08" height="1.79" fill="#ffe4e4"/><rect x="367.51" y="103.04" width="16.08" height="1.79" fill="#ffc3c3"/><rect x="383.38" y="103.04" width="16.08" height="1.79" fill="#ffa5a5"/><rect x="399.26" y="103.04" width="16.08" height="1.79" fill="#9595ff"/><rect x="415.14" y="103.04" width="16.08" height="1.79" fill="#d2d2ff"/><rect x="431.02" y="103.04" width="16.08" height="1.79" fill="#dadaff"/><rect x="446.89" y="103.04" width="16.08" height="1.79" fill="#cbcbff"/><rect x="462.77" y="103.04" width="16.08" height="1.79" fill="#d8d8ff"/><rect x="478.65" y="103.04" width="16.08" height="1.79" fill="#9797ff"/><rect x="494.52" y="103.04" width="16.08" height="1.79" fill="#e5e5ff"/><rect x="304.00" y="104.54" width="16.08" height="1.79" fill="#ffb7b7"/><rect x="319.88" y="104.54" width="16.08" height="1.79" fill="#ffbaba"/><rect x="335.75" y="104.54" width="16.08" height="1.79" fill="#ffeeee"/><rect x="351.63" y="104.54" width="16.08" height="1.79" fill="#ff9494"/><rect x="367.51" y="104.54" width="16.08" height="1.79" fill="#ffd4d4"/><rect x="383.38" y="104.54" width="16.08" height="1.79" fill="#ffa9a9"/><rect x="399.26" y="104.54" width="16.08" height="1.79" fill="#8c8cff"/><rect x="415.14" y="104.54" width="16.08" height="1.79" fill="#d4d4ff"/><rect x="431.02" y="104.54" width="16.08" height="1.79" fill="#dcdcff"/><rect x="446.89" y="104.54" width="16.08" height="1.79" fill="#b4b4ff"/><rect x="462.77" y="104.54" width="16.08" height="1.79" fill="#bbbbff"/><rect x="478.65" y="104.54" width="16.08" height="1.79" fill="#c7c7ff"/><rect x="494.52" y="104.54" width="16.08" height="1.79" fill="#ededff"/><rect x="304.00" y="106.03" width="16.08" height="1.79" fill="#ffbbbb"/><rect x="319.88" y="106.03" width="16.08" height="1.79" fill="#ff9191"/><rect x="335.75" y="106.03" width="16.08" height="1.79" fill="#ffd3d3"/><rect x="351.63" y="106.03" width="16.08" height="1.79" fill="#ff6f6f"/><rect x="367.51" y="106.03" width="16.08" height="1.79" fill="#ffe5e5"/><rect x="383.38" y="106.03" width="16.08" height="1.79" fill="#ffaeae"/><rect x="399.26" y="106.03" width="16.08" height="1.79" fill="#7b7bff"/><rect x="415.14" y="106.03" width="16.08" height="1.79" fill="#e9e9ff"/><rect x="431.02" y="106.03" width="16.08" height="1.79" fill="#b5b5ff"/><rect x="446.89" y="106.03" width="16.08" height="1.79" fill="#c5c5ff"/><rect x="462.77" y="106.03" width="16.08" height="1.79" fill="#cdcdff"/><rect x="478.65" y="106.03" width="16.08" height="1.79" fill="#a1a1ff"/><rect x="494.52" y="106.03" width="16.08" height="1.79" fill="#aeaeff"/><rect x="304.00" y="107.52" width="16.08" height="1.79" fill="#ffe5e5"/><rect x="319.88" y="107.52" width="16.08" height="1.79" fill="#ffb3b3"/><rect x="335.75" y="107.52" width="16.08" height="1.79" fill="#ffe2e2"/><rect x="351.63" y="107.52" width="16.08" height="1.79" fill="#ff8484"/><rect x="367.51" y="107.52" width="16.08" height="1.79" fill="#ffb5b5"/><rect x="383.38" y="107.52" width="16.08" height="1.79" fill="#ff9999"/><rect x="399.26" y="107.52" width="16.08" height="1.79" fill="#6565ff"/><rect x="415.14" y="107.52" width="16.08" height="1.79" fill="#dedeff"/><rect x="431.02" y="107.52" width="16.08" height="1.79" fill="#8787ff"/><rect x="446.89" y="107.52" width="16.08" height="1.79" fill="#c7c7ff"/><rect x="462.77" y="107.52" width="16.08" height="1.79" fill="#d8d8ff"/><rect x="478.65" y="107.52" width="16.08" height="1.79" fill="#a5a5ff"/><rect x="494.52" y="107.52" width="16.08" height="1.79" fill="#e4e4ff"/><rect x="304.00" y="109.02" width="16.08" height="1.79" fill="#ffd0d0"/><rect x="319.88" y="109.02" width="16.08" height="1.79" fill="#ffc1c1"/><rect x="335.75" y="109.02" width="16.08" height="1.79" fill="#ffa3a3"/><rect x="351.63" y="109.02" width="16.08" height="1.79" fill="#ff9b9b"/><rect x="367.51" y="109.02" width="16.08" height="1.79" fill="#ffcccc"/><rect x="383.38" y="109.02" width="16.08" height="1.79" fill="#ffabab"/><rect x="399.26" y="109.02" width="16.08" height="1.79" fill="#7b7bff"/><rect x="415.14" y="109.02" width="16.08" height="1.79" fill="#f7f7ff"/><rect x="431.02" y="109.02" width="16.08" height="1.79" fill="#8484ff"/><rect x="446.89" y="109.02" width="16.08" height="1.79" fill="#cacaff"/><rect x="462.77" y="109.02" width="16.08" height="1.79" fill="#d1d1ff"/><rect x="478.65" y="109.02" width="16.08" height="1.79" fill="#d0d0ff"/><rect x="494.52" y="109.02" width="16.08" height="1.79" fill="#bcbcff"/><rect x="304.00" y="110.51" width="16.08" height="1.79" fill="#ffdada"/><rect x="319.88" y="110.51" width="16.08" height="1.79" fill="#ffa0a0"/><rect x="335.75" y="110.51" width="16.08" height="1.79" fill="#ffadad"/><rect x="351.63" y="110.51" width="16.08" height="1.79" fill="#ffc5c5"/><rect x="367.51" y="110.51" width="16.08" height="1.79" fill="#ffcece"/><rect x="383.38" y="110.51" width="16.08" height="1.79" fill="#fff8f8"/><rect x="399.26" y="110.51" width="16.08" height="1.79" fill="#b4b4ff"/><rect x="415.14" y="110.51" width="16.08" height="1.79" fill="#bcbcff"/><rect x="431.02" y="110.51" width="16.08" height="1.79" fill="#cdcdff"/><rect x="446.89" y="110.51" width="16.08" height="1.79" fill="#dcdcff"/><rect x="462.77" y="110.51" width="16.08" height="1.79" fill="#8989ff"/><rect x="478.65" y="110.51" width="16.08" height="1.79" fill="#bcbcff"/><rect x="494.52" y="110.51" width="16.08" height="1.79" fill="#dadaff"/><rect x="304.00" y="112.01" width="16.08" height="1.79" fill="#ffc9c9"/><rect x="319.88" y="112.01" width="16.08" height="1.79" fill="#ff9999"/><rect x="335.75" y="112.01" width="16.08" height="1.79" fill="#ff9090"/><rect x="351.63" y="112.01" width="16.08" height="1.79" fill="#ffb9b9"/><rect x="367.51" y="112.01" width="16.08" height="1.79" fill="#ff9d9d"/><rect x="383.38" y="112.01" width="16.08" height="1.79" fill="#ffcccc"/><rect x="399.26" y="112.01" width="16.08" height="1.79" fill="#c3c3ff"/><rect x="415.14" y="112.01" width="16.08" height="1.79" fill="#b1b1ff"/><rect x="431.02" y="112.01" width="16.08" height="1.79" fill="#9b9bff"/><rect x="446.89" y="112.01" width="16.08" height="1.79" fill="#a3a3ff"/><rect x="462.77" y="112.01" width="16.08" height="1.79" fill="#a1a1ff"/><rect x="478.65" y="112.01" width="16.08" height="1.79" fill="#9898ff"/><rect x="494.52" y="112.01" width="16.08" height="1.79" fill="#bebeff"/><rect x="304.00" y="113.50" width="16.08" height="1.79" fill="#ffe9e9"/><rect x="319.88" y="113.50" width="16.08" height="1.79" fill="#ffa8a8"/><rect x="335.75" y="113.50" width="16.08" height="1.79" fill="#ffa3a3"/><rect x="351.63" y="113.50" width="16.08" height="1.79" fill="#ffb7b7"/><rect x="367.51" y="113.50" width="16.08" height="1.79" fill="#ffc1c1"/><rect x="383.38" y="113.50" width="16.08" height="1.79" fill="#ffb7b7"/><rect x="399.26" y="113.50" width="16.08" height="1.79" fill="#c9c9ff"/><rect x="415.14" y="113.50" width="16.08" height="1.79" fill="#d7d7ff"/><rect x="431.02" y="113.50" width="16.08" height="1.79" fill="#9b9bff"/><rect x="446.89" y="113.50" width="16.08" height="1.79" fill="#c3c3ff"/><rect x="462.77" y="113.50" width="16.08" height="1.79" fill="#a5a5ff"/><rect x="478.65" y="113.50" width="16.08" height="1.79" fill="#9393ff"/><rect x="494.52" y="113.50" width="16.08" height="1.79" fill="#b6b6ff"/><rect x="304.00" y="115.00" width="16.08" height="1.79" fill="#ffc8c8"/><rect x="319.88" y="115.00" width="16.08" height="1.79" fill="#ff8c8c"/><rect x="335.75" y="115.00" width="16.08" height="1.79" fill="#ff8888"/><rect x="351.63" y="115.00" width="16.08" height="1.79" fill="#ffc9c9"/><rect x="367.51" y="115.00" width="16.08" height="1.79" fill="#ffcaca"/><rect x="383.38" y="115.00" width="16.08" height="1.79" fill="#ffd2d2"/><rect x="399.26" y="115.00" width="16.08" height="1.79" fill="#9999ff"/><rect x="415.14" y="115.00" width="16.08" height="1.79" fill="#dfdfff"/><rect x="431.02" y="115.00" width="16.08" height="1.79" fill="#9a9aff"/><rect x="446.89" y="115.00" width="16.08" height="1.79" fill="#adadff"/><rect x="462.77" y="115.00" width="16.08" height="1.79" fill="#7070ff"/><rect x="478.65" y="115.00" width="16.08" height="1.79" fill="#8686ff"/><rect x="494.52" y="115.00" width="16.08" height="1.79" fill="#b0b0ff"/><rect x="304.00" y="116.49" width="16.08" height="1.79" fill="#fffafa"/><rect x="319.88" y="116.49" width="16.08" height="1.79" fill="#ffcbcb"/><rect x="335.75" y="116.49" width="16.08" height="1.79" fill="#ff8888"/><rect x="351.63" y="116.49" width="16.08" height="1.79" fill="#ffb5b5"/><rect x="367.51" y="116.49" width="16.08" height="1.79" fill="#d5d5ff"/><rect x="383.38" y="116.49" width="16.08" height="1.79" fill="#ffcccc"/><rect x="399.26" y="116.49" width="16.08" height="1.79" fill="#a2a2ff"/><rect x="415.14" y="116.49" width="16.08" height="1.79" fill="#9494ff"/><rect x="431.02" y="116.49" width="16.08" height="1.79" fill="#c9c9ff"/><rect x="446.89" y="116.49" width="16.08" height="1.79" fill="#c7c7ff"/><rect x="462.77" y="116.49" width="16.08" height="1.79" fill="#b8b8ff"/><rect x="478.65" y="116.49" width="16.08" height="1.79" fill="#dedeff"/><rect x="494.52" y="116.49" width="16.08" height="1.79" fill="#eaeaff"/><rect x="304.00" y="117.99" width="16.08" height="1.79" fill="#ffe3e3"/><rect x="319.88" y="117.99" width="16.08" height="1.79" fill="#ff6969"/><rect x="335.75" y="117.99" width="16.08" height="1.79" fill="#ff6a6a"/><rect x="351.63" y="117.99" width="16.08" height="1.79" fill="#ff8787"/><rect x="367.51" y="117.99" width="16.08" height="1.79" fill="#eaeaff"/><rect x="383.38" y="117.99" width="16.08" height="1.79" fill="#ffb1b1"/><rect x="399.26" y="117.99" width="16.08" height="1.79" fill="#ababff"/><rect x="415.14" y="117.99" width="16.08" height="1.79" fill="#a4a4ff"/><rect x="431.02" y="117.99" width="16.08" height="1.79" fill="#babaff"/><rect x="446.89" y="117.99" width="16.08" height="1.79" fill="#d2d2ff"/><rect x="462.77" y="117.99" width="16.08" height="1.79" fill="#8686ff"/><rect x="478.65" y="117.99" width="16.08" height="1.79" fill="#c0c0ff"/><rect x="494.52" y="117.99" width="16.08" height="1.79" fill="#f5f5ff"/><rect x="304.00" y="119.48" width="16.08" height="1.79" fill="#fff0f0"/><rect x="319.88" y="119.48" width="16.08" height="1.79" fill="#ff7272"/><rect x="335.75" y="119.48" width="16.08" height="1.79" fill="#ff8e8e"/><rect x="351.63" y="119.48" width="16.08" height="1.79" fill="#ff9999"/><rect x="367.51" y="119.48" width="16.08" height="1.79" fill="#ffecec"/><rect x="383.38" y="119.48" width="16.08" height="1.79" fill="#ffeaea"/><rect x="399.26" y="119.48" width="16.08" height="1.79" fill="#a3a3ff"/><rect x="415.14" y="119.48" width="16.08" height="1.79" fill="#c4c4ff"/><rect x="431.02" y="119.48" width="16.08" height="1.79" fill="#e9e9ff"/><rect x="446.89" y="119.48" width="16.08" height="1.79" fill="#bebeff"/><rect x="462.77" y="119.48" width="16.08" height="1.79" fill="#babaff"/><rect x="478.65" y="119.48" width="16.08" height="1.79" fill="#b6b6ff"/><rect x="494.52" y="119.48" width="16.08" height="1.79" fill="#d1d1ff"/><rect x="304.00" y="120.98" width="16.08" height="1.79" fill="#ffd8d8"/><rect x="319.88" y="120.98" width="16.08" height="1.79" fill="#ff9292"/><rect x="335.75" y="120.98" width="16.08" height="1.79" fill="#ff7979"/><rect x="351.63" y="120.98" width="16.08" height="1.79" fill="#ff4a4a"/><rect x="367.51" y="120.98" width="16.08" height="1.79" fill="#f1f1ff"/><rect x="383.38" y="120.98" width="16.08" height="1.79" fill="#ff9a9a"/><rect x="399.26" y="120.98" width="16.08" height="1.79" fill="#6565ff"/><rect x="415.14" y="120.98" width="16.08" height="1.79" fill="#f4f4ff"/><rect x="431.02" y="120.98" width="16.08" height="1.79" fill="#b1b1ff"/><rect x="446.89" y="120.98" width="16.08" height="1.79" fill="#e3e3ff"/><rect x="462.77" y="120.98" width="16.08" height="1.79" fill="#7070ff"/><rect x="478.65" y="120.98" width="16.08" height="1.79" fill="#a6a6ff"/><rect x="494.52" y="120.98" width="16.08" height="1.79" fill="#bfbfff"/><rect x="304.00" y="122.47" width="16.08" height="1.79" fill="#ffe9e9"/><rect x="319.88" y="122.47" width="16.08" height="1.79" fill="#ff9e9e"/><rect x="335.75" y="122.47" width="16.08" height="1.79" fill="#ff9a9a"/><rect x="351.63" y="122.47" width="16.08" height="1.79" fill="#ff8a8a"/><rect x="367.51" y="122.47" width="16.08" height="1.79" fill="#ffdbdb"/><rect x="383.38" y="122.47" width="16.08" height="1.79" fill="#ffe8e8"/><rect x="399.26" y="122.47" width="16.08" height="1.79" fill="#b1b1ff"/><rect x="415.14" y="122.47" width="16.08" height="1.79" fill="#ffeded"/><rect x="431.02" y="122.47" width="16.08" height="1.79" fill="#cfcfff"/><rect x="446.89" y="122.47" width="16.08" height="1.79" fill="#ddddff"/><rect x="462.77" y="122.47" width="16.08" height="1.79" fill="#7878ff"/><rect x="478.65" y="122.47" width="16.08" height="1.79" fill="#f7f7ff"/><rect x="494.52" y="122.47" width="16.08" height="1.79" fill="#ededff"/><rect x="304.00" y="123.97" width="16.08" height="1.79" fill="#eeeeff"/><rect x="319.88" y="123.97" width="16.08" height="1.79" fill="#ff7979"/><rect x="335.75" y="123.97" width="16.08" height="1.79" fill="#ff6e6e"/><rect x="351.63" y="123.97" width="16.08" height="1.79" fill="#ff7676"/><rect x="367.51" y="123.97" width="16.08" height="1.79" fill="#fff9f9"/><rect x="383.38" y="123.97" width="16.08" height="1.79" fill="#ffd4d4"/><rect x="399.26" y="123.97" width="16.08" height="1.79" fill="#babaff"/><rect x="415.14" y="123.97" width="16.08" height="1.79" fill="#d5d5ff"/><rect x="431.02" y="123.97" width="16.08" height="1.79" fill="#b2b2ff"/><rect x="446.89" y="123.97" width="16.08" height="1.79" fill="#dadaff"/><rect x="462.77" y="123.97" width="16.08" height="1.79" fill="#8d8dff"/><rect x="478.65" y="123.97" width="16.08" height="1.79" fill="#b3b3ff"/><rect x="494.52" y="123.97" width="16.08" height="1.79" fill="#ccccff"/><rect x="304.00" y="125.46" width="16.08" height="1.79" fill="#ffdddd"/><rect x="319.88" y="125.46" width="16.08" height="1.79" fill="#ff7979"/><rect x="335.75" y="125.46" width="16.08" height="1.79" fill="#ff6969"/><rect x="351.63" y="125.46" width="16.08" height="1.79" fill="#ff9a9a"/><rect x="367.51" y="125.46" width="16.08" height="1.79" fill="#ffdcdc"/><rect x="383.38" y="125.46" width="16.08" height="1.79" fill="#ffb8b8"/><rect x="399.26" y="125.46" width="16.08" height="1.79" fill="#9c9cff"/><rect x="415.14" y="125.46" width="16.08" height="1.79" fill="#c6c6ff"/><rect x="431.02" y="125.46" width="16.08" height="1.79" fill="#b9b9ff"/><rect x="446.89" y="125.46" width="16.08" height="1.79" fill="#b7b7ff"/><rect x="462.77" y="125.46" width="16.08" height="1.79" fill="#a3a3ff"/><rect x="478.65" y="125.46" width="16.08" height="1.79" fill="#adadff"/><rect x="494.52" y="125.46" width="16.08" height="1.79" fill="#cacaff"/><rect x="304.00" y="126.95" width="16.08" height="1.79" fill="#f8f8ff"/><rect x="319.88" y="126.95" width="16.08" height="1.79" fill="#ff8585"/><rect x="335.75" y="126.95" width="16.08" height="1.79" fill="#ff5f5f"/><rect x="351.63" y="126.95" width="16.08" height="1.79" fill="#ff9292"/><rect x="367.51" y="126.95" width="16.08" height="1.79" fill="#fff8f8"/><rect x="383.38" y="126.95" width="16.08" height="1.79" fill="#ffb8b8"/><rect x="399.26" y="126.95" width="16.08" height="1.79" fill="#a1a1ff"/><rect x="415.14" y="126.95" width="16.08" height="1.79" fill="#b4b4ff"/><rect x="431.02" y="126.95" width="16.08" height="1.79" fill="#c2c2ff"/><rect x="446.89" y="126.95" width="16.08" height="1.79" fill="#aeaeff"/><rect x="462.77" y="126.95" width="16.08" height="1.79" fill="#b7b7ff"/><rect x="478.65" y="126.95" width="16.08" height="1.79" fill="#9e9eff"/><rect x="494.52" y="126.95" width="16.08" height="1.79" fill="#9898ff"/><rect x="304.00" y="128.45" width="16.08" height="1.79" fill="#ffd8d8"/><rect x="319.88" y="128.45" width="16.08" height="1.79" fill="#ffa1a1"/><rect x="335.75" y="128.45" width="16.08" height="1.79" fill="#ff9c9c"/><rect x="351.63" y="128.45" width="16.08" height="1.79" fill="#ffb6b6"/><rect x="367.51" y="128.45" width="16.08" height="1.79" fill="#fff5f5"/><rect x="383.38" y="128.45" width="16.08" height="1.79" fill="#ffc2c2"/><rect x="399.26" y="128.45" width="16.08" height="1.79" fill="#c3c3ff"/><rect x="415.14" y="128.45" width="16.08" height="1.79" fill="#fffafa"/><rect x="431.02" y="128.45" width="16.08" height="1.79" fill="#dbdbff"/><rect x="446.89" y="128.45" width="16.08" height="1.79" fill="#ccccff"/><rect x="462.77" y="128.45" width="16.08" height="1.79" fill="#bfbfff"/><rect x="478.65" y="128.45" width="16.08" height="1.79" fill="#e2e2ff"/><rect x="494.52" y="128.45" width="16.08" height="1.79" fill="#ededff"/><rect x="304.00" y="129.94" width="16.08" height="1.79" fill="#fff4f4"/><rect x="319.88" y="129.94" width="16.08" height="1.79" fill="#ff8282"/><rect x="335.75" y="129.94" width="16.08" height="1.79" fill="#ff5757"/><rect x="351.63" y="129.94" width="16.08" height="1.79" fill="#ff9292"/><rect x="367.51" y="129.94" width="16.08" height="1.79" fill="#ffcfcf"/><rect x="383.38" y="129.94" width="16.08" height="1.79" fill="#ffa6a6"/><rect x="399.26" y="129.94" width="16.08" height="1.79" fill="#b8b8ff"/><rect x="415.14" y="129.94" width="16.08" height="1.79" fill="#c7c7ff"/><rect x="431.02" y="129.94" width="16.08" height="1.79" fill="#e6e6ff"/><rect x="446.89" y="129.94" width="16.08" height="1.79" fill="#cbcbff"/><rect x="462.77" y="129.94" width="16.08" height="1.79" fill="#9494ff"/><rect x="478.65" y="129.94" width="16.08" height="1.79" fill="#a7a7ff"/><rect x="494.52" y="129.94" width="16.08" height="1.79" fill="#f4f4ff"/><rect x="304.00" y="131.44" width="16.08" height="1.79" fill="#ffa5a5"/><rect x="319.88" y="131.44" width="16.08" height="1.79" fill="#ff7d7d"/><rect x="335.75" y="131.44" width="16.08" height="1.79" fill="#ff8484"/><rect x="351.63" y="131.44" width="16.08" height="1.79" fill="#ffb5b5"/><rect x="367.51" y="131.44" width="16.08" height="1.79" fill="#ffd9d9"/><rect x="383.38" y="131.44" width="16.08" height="1.79" fill="#ffb0b0"/><rect x="399.26" y="131.44" width="16.08" height="1.79" fill="#c1c1ff"/><rect x="415.14" y="131.44" width="16.08" height="1.79" fill="#c7c7ff"/><rect x="431.02" y="131.44" width="16.08" height="1.79" fill="#ababff"/><rect x="446.89" y="131.44" width="16.08" height="1.79" fill="#c8c8ff"/><rect x="462.77" y="131.44" width="16.08" height="1.79" fill="#f5f5ff"/><rect x="478.65" y="131.44" width="16.08" height="1.79" fill="#bbbbff"/><rect x="494.52" y="131.44" width="16.08" height="1.79" fill="#b8b8ff"/><rect x="304.00" y="132.93" width="16.08" height="1.79" fill="#ffa8a8"/><rect x="319.88" y="132.93" width="16.08" height="1.79" fill="#ffa5a5"/><rect x="335.75" y="132.93" width="16.08" height="1.79" fill="#ff8f8f"/><rect x="351.63" y="132.93" width="16.08" height="1.79" fill="#ff9c9c"/><rect x="367.51" y="132.93" width="16.08" height="1.79" fill="#fffafa"/><rect x="383.38" y="132.93" width="16.08" height="1.79" fill="#ffbebe"/><rect x="399.26" y="132.93" width="16.08" height="1.79" fill="#8080ff"/><rect x="415.14" y="132.93" width="16.08" height="1.79" fill="#a8a8ff"/><rect x="431.02" y="132.93" width="16.08" height="1.79" fill="#b4b4ff"/><rect x="446.89" y="132.93" width="16.08" height="1.79" fill="#c1c1ff"/><rect x="462.77" y="132.93" width="16.08" height="1.79" fill="#e7e7ff"/><rect x="478.65" y="132.93" width="16.08" height="1.79" fill="#b1b1ff"/><rect x="494.52" y="132.93" width="16.08" height="1.79" fill="#9999ff"/><rect x="304.00" y="134.43" width="16.08" height="1.79" fill="#ff9191"/><rect x="319.88" y="134.43" width="16.08" height="1.79" fill="#ff5f5f"/><rect x="335.75" y="134.43" width="16.08" height="1.79" fill="#ff7a7a"/><rect x="351.63" y="134.43" width="16.08" height="1.79" fill="#ff8585"/><rect x="367.51" y="134.43" width="16.08" height="1.79" fill="#ffe7e7"/><rect x="383.38" y="134.43" width="16.08" height="1.79" fill="#ff8b8b"/><rect x="399.26" y="134.43" width="16.08" height="1.79" fill="#a2a2ff"/><rect x="415.14" y="134.43" width="16.08" height="1.79" fill="#7474ff"/><rect x="431.02" y="134.43" width="16.08" height="1.79" fill="#8d8dff"/><rect x="446.89" y="134.43" width="16.08" height="1.79" fill="#a8a8ff"/><rect x="462.77" y="134.43" width="16.08" height="1.79" fill="#aaaaff"/><rect x="478.65" y="134.43" width="16.08" height="1.79" fill="#7676ff"/><rect x="494.52" y="134.43" width="16.08" height="1.79" fill="#8585ff"/><rect x="304.00" y="135.92" width="16.08" height="1.79" fill="#ffd7d7"/><rect x="319.88" y="135.92" width="16.08" height="1.79" fill="#ff9494"/><rect x="335.75" y="135.92" width="16.08" height="1.79" fill="#ff8282"/><rect x="351.63" y="135.92" width="16.08" height="1.79" fill="#ff9494"/><rect x="367.51" y="135.92" width="16.08" height="1.79" fill="#ffd2d2"/><rect x="383.38" y="135.92" width="16.08" height="1.79" fill="#ff9c9c"/><rect x="399.26" y="135.92" width="16.08" height="1.79" fill="#c6c6ff"/><rect x="415.14" y="135.92" width="16.08" height="1.79" fill="#a0a0ff"/><rect x="431.02" y="135.92" width="16.08" height="1.79" fill="#a3a3ff"/><rect x="446.89" y="135.92" width="16.08" height="1.79" fill="#a5a5ff"/><rect x="462.77" y="135.92" width="16.08" height="1.79" fill="#d8d8ff"/><rect x="478.65" y="135.92" width="16.08" height="1.79" fill="#b9b9ff"/><rect x="494.52" y="135.92" width="16.08" height="1.79" fill="#bbbbff"/><rect x="304.00" y="137.42" width="16.08" height="1.79" fill="#ffcdcd"/><rect x="319.88" y="137.42" width="16.08" height="1.79" fill="#ffb9b9"/><rect x="335.75" y="137.42" width="16.08" height="1.79" fill="#ffadad"/><rect x="351.63" y="137.42" width="16.08" height="1.79" fill="#ffa4a4"/><rect x="367.51" y="137.42" width="16.08" height="1.79" fill="#ffcccc"/><rect x="383.38" y="137.42" width="16.08" height="1.79" fill="#ffbaba"/><rect x="399.26" y="137.42" width="16.08" height="1.79" fill="#9d9dff"/><rect x="415.14" y="137.42" width="16.08" height="1.79" fill="#aeaeff"/><rect x="431.02" y="137.42" width="16.08" height="1.79" fill="#9a9aff"/><rect x="446.89" y="137.42" width="16.08" height="1.79" fill="#c4c4ff"/><rect x="462.77" y="137.42" width="16.08" height="1.79" fill="#ffe0e0"/><rect x="478.65" y="137.42" width="16.08" height="1.79" fill="#c2c2ff"/><rect x="494.52" y="137.42" width="16.08" height="1.79" fill="#a8a8ff"/><rect x="304.00" y="138.91" width="16.08" height="1.79" fill="#ffbebe"/><rect x="319.88" y="138.91" width="16.08" height="1.79" fill="#ffd1d1"/><rect x="335.75" y="138.91" width="16.08" height="1.79" fill="#ffbbbb"/><rect x="351.63" y="138.91" width="16.08" height="1.79" fill="#ffafaf"/><rect x="367.51" y="138.91" width="16.08" height="1.79" fill="#fff5f5"/><rect x="383.38" y="138.91" width="16.08" height="1.79" fill="#ffd1d1"/><rect x="399.26" y="138.91" width="16.08" height="1.79" fill="#b9b9ff"/><rect x="415.14" y="138.91" width="16.08" height="1.79" fill="#bcbcff"/><rect x="431.02" y="138.91" width="16.08" height="1.79" fill="#b2b2ff"/><rect x="446.89" y="138.91" width="16.08" height="1.79" fill="#d8d8ff"/><rect x="462.77" y="138.91" width="16.08" height="1.79" fill="#fff7f7"/><rect x="478.65" y="138.91" width="16.08" height="1.79" fill="#d6d6ff"/><rect x="494.52" y="138.91" width="16.08" height="1.79" fill="#f1f1ff"/><rect x="304.00" y="140.41" width="16.08" height="1.79" fill="#ffa3a3"/><rect x="319.88" y="140.41" width="16.08" height="1.79" fill="#ffabab"/><rect x="335.75" y="140.41" width="16.08" height="1.79" fill="#ffc5c5"/><rect x="351.63" y="140.41" width="16.08" height="1.79" fill="#ffa4a4"/><rect x="367.51" y="140.41" width="16.08" height="1.79" fill="#ffd2d2"/><rect x="383.38" y="140.41" width="16.08" height="1.79" fill="#ffcdcd"/><rect x="399.26" y="140.41" width="16.08" height="1.79" fill="#a7a7ff"/><rect x="415.14" y="140.41" width="16.08" height="1.79" fill="#9292ff"/><rect x="431.02" y="140.41" width="16.08" height="1.79" fill="#9292ff"/><rect x="446.89" y="140.41" width="16.08" height="1.79" fill="#cdcdff"/><rect x="462.77" y="140.41" width="16.08" height="1.79" fill="#ffd8d8"/><rect x="478.65" y="140.41" width="16.08" height="1.79" fill="#f2f2ff"/><rect x="494.52" y="140.41" width="16.08" height="1.79" fill="#d6d6ff"/><rect x="304.00" y="141.90" width="16.08" height="1.79" fill="#ff5555"/><rect x="319.88" y="141.90" width="16.08" height="1.79" fill="#fbfbff"/><rect x="335.75" y="141.90" width="16.08" height="1.79" fill="#fffbfb"/><rect x="351.63" y="141.90" width="16.08" height="1.79" fill="#ffe7e7"/><rect x="367.51" y="141.90" width="16.08" height="1.79" fill="#ff5353"/><rect x="383.38" y="141.90" width="16.08" height="1.79" fill="#ffbebe"/><rect x="399.26" y="141.90" width="16.08" height="1.79" fill="#eeeeff"/><rect x="415.14" y="141.90" width="16.08" height="1.79" fill="#9292ff"/><rect x="431.02" y="141.90" width="16.08" height="1.79" fill="#bfbfff"/><rect x="446.89" y="141.90" width="16.08" height="1.79" fill="#c1c1ff"/><rect x="462.77" y="141.90" width="16.08" height="1.79" fill="#ffc4c4"/><rect x="478.65" y="141.90" width="16.08" height="1.79" fill="#a2a2ff"/><rect x="494.52" y="141.90" width="16.08" height="1.79" fill="#a1a1ff"/><rect x="304.00" y="143.40" width="16.08" height="1.79" fill="#ff7676"/><rect x="319.88" y="143.40" width="16.08" height="1.79" fill="#fffafa"/><rect x="335.75" y="143.40" width="16.08" height="1.79" fill="#ffe7e7"/><rect x="351.63" y="143.40" width="16.08" height="1.79" fill="#ffdada"/><rect x="367.51" y="143.40" width="16.08" height="1.79" fill="#ff3434"/><rect x="383.38" y="143.40" width="16.08" height="1.79" fill="#ffd7d7"/><rect x="399.26" y="143.40" width="16.08" height="1.79" fill="#c6c6ff"/><rect x="415.14" y="143.40" width="16.08" height="1.79" fill="#aaaaff"/><rect x="431.02" y="143.40" width="16.08" height="1.79" fill="#adadff"/><rect x="446.89" y="143.40" width="16.08" height="1.79" fill="#a8a8ff"/><rect x="462.77" y="143.40" width="16.08" height="1.79" fill="#ffdada"/><rect x="478.65" y="143.40" width="16.08" height="1.79" fill="#ababff"/><rect x="494.52" y="143.40" width="16.08" height="1.79" fill="#babaff"/><rect x="304.00" y="144.89" width="16.08" height="1.79" fill="#ff4c4c"/><rect x="319.88" y="144.89" width="16.08" height="1.79" fill="#ffe0e0"/><rect x="335.75" y="144.89" width="16.08" height="1.79" fill="#ffe2e2"/><rect x="351.63" y="144.89" width="16.08" height="1.79" fill="#ffeaea"/><rect x="367.51" y="144.89" width="16.08" height="1.79" fill="#ff7979"/><rect x="383.38" y="144.89" width="16.08" height="1.79" fill="#ffc6c6"/><rect x="399.26" y="144.89" width="16.08" height="1.79" fill="#c7c7ff"/><rect x="415.14" y="144.89" width="16.08" height="1.79" fill="#b1b1ff"/><rect x="431.02" y="144.89" width="16.08" height="1.79" fill="#b3b3ff"/><rect x="446.89" y="144.89" width="16.08" height="1.79" fill="#bbbbff"/><rect x="462.77" y="144.89" width="16.08" height="1.79" fill="#ffe1e1"/><rect x="478.65" y="144.89" width="16.08" height="1.79" fill="#cbcbff"/><rect x="494.52" y="144.89" width="16.08" height="1.79" fill="#bcbcff"/><rect x="304.00" y="146.38" width="16.08" height="1.79" fill="#ff5e5e"/><rect x="319.88" y="146.38" width="16.08" height="1.79" fill="#e0e0ff"/><rect x="335.75" y="146.38" width="16.08" height="1.79" fill="#f4f4ff"/><rect x="351.63" y="146.38" width="16.08" height="1.79" fill="#ffd7d7"/><rect x="367.51" y="146.38" width="16.08" height="1.79" fill="#ff5858"/><rect x="383.38" y="146.38" width="16.08" height="1.79" fill="#f0f0ff"/><rect x="399.26" y="146.38" width="16.08" height="1.79" fill="#f6f6ff"/><rect x="415.14" y="146.38" width="16.08" height="1.79" fill="#aeaeff"/><rect x="431.02" y="146.38" width="16.08" height="1.79" fill="#cbcbff"/><rect x="446.89" y="146.38" width="16.08" height="1.79" fill="#a1a1ff"/><rect x="462.77" y="146.38" width="16.08" height="1.79" fill="#ff7070"/><rect x="478.65" y="146.38" width="16.08" height="1.79" fill="#9797ff"/><rect x="494.52" y="146.38" width="16.08" height="1.79" fill="#d3d3ff"/><rect x="304.00" y="147.88" width="16.08" height="1.79" fill="#ff6d6d"/><rect x="319.88" y="147.88" width="16.08" height="1.79" fill="#a9a9ff"/><rect x="335.75" y="147.88" width="16.08" height="1.79" fill="#b3b3ff"/><rect x="351.63" y="147.88" width="16.08" height="1.79" fill="#fff8f8"/><rect x="367.51" y="147.88" width="16.08" height="1.79" fill="#ff5e5e"/><rect x="383.38" y="147.88" width="16.08" height="1.79" fill="#e0e0ff"/><rect x="399.26" y="147.88" width="16.08" height="1.79" fill="#a7a7ff"/><rect x="415.14" y="147.88" width="16.08" height="1.79" fill="#9292ff"/><rect x="431.02" y="147.88" width="16.08" height="1.79" fill="#8b8bff"/><rect x="446.89" y="147.88" width="16.08" height="1.79" fill="#9595ff"/><rect x="462.77" y="147.88" width="16.08" height="1.79" fill="#ff7272"/><rect x="478.65" y="147.88" width="16.08" height="1.79" fill="#a0a0ff"/><rect x="494.52" y="147.88" width="16.08" height="1.79" fill="#9b9bff"/><rect x="304.00" y="149.37" width="16.08" height="1.79" fill="#ff6565"/><rect x="319.88" y="149.37" width="16.08" height="1.79" fill="#c0c0ff"/><rect x="335.75" y="149.37" width="16.08" height="1.79" fill="#e3e3ff"/><rect x="351.63" y="149.37" width="16.08" height="1.79" fill="#efefff"/><rect x="367.51" y="149.37" width="16.08" height="1.79" fill="#ff4040"/><rect x="383.38" y="149.37" width="16.08" height="1.79" fill="#fcfcff"/><rect x="399.26" y="149.37" width="16.08" height="1.79" fill="#b7b7ff"/><rect x="415.14" y="149.37" width="16.08" height="1.79" fill="#9696ff"/><rect x="431.02" y="149.37" width="16.08" height="1.79" fill="#9e9eff"/><rect x="446.89" y="149.37" width="16.08" height="1.79" fill="#8d8dff"/><rect x="462.77" y="149.37" width="16.08" height="1.79" fill="#ff6767"/><rect x="478.65" y="149.37" width="16.08" height="1.79" fill="#b3b3ff"/><rect x="494.52" y="149.37" width="16.08" height="1.79" fill="#aaaaff"/><rect x="304.00" y="150.87" width="16.08" height="1.79" fill="#ff3434"/><rect x="319.88" y="150.87" width="16.08" height="1.79" fill="#c3c3ff"/><rect x="335.75" y="150.87" width="16.08" height="1.79" fill="#dfdfff"/><rect x="351.63" y="150.87" width="16.08" height="1.79" fill="#ffcdcd"/><rect x="367.51" y="150.87" width="16.08" height="1.79" fill="#ff8585"/><rect x="383.38" y="150.87" width="16.08" height="1.79" fill="#e0e0ff"/><rect x="399.26" y="150.87" width="16.08" height="1.79" fill="#bbbbff"/><rect x="415.14" y="150.87" width="16.08" height="1.79" fill="#a2a2ff"/><rect x="431.02" y="150.87" width="16.08" height="1.79" fill="#b4b4ff"/><rect x="446.89" y="150.87" width="16.08" height="1.79" fill="#9a9aff"/><rect x="462.77" y="150.87" width="16.08" height="1.79" fill="#ff5757"/><rect x="478.65" y="150.87" width="16.08" height="1.79" fill="#acacff"/><rect x="494.52" y="150.87" width="16.08" height="1.79" fill="#aeaeff"/><rect x="304.00" y="152.36" width="16.08" height="1.79" fill="#ff9090"/><rect x="319.88" y="152.36" width="16.08" height="1.79" fill="#fefeff"/><rect x="335.75" y="152.36" width="16.08" height="1.79" fill="#dfdfff"/><rect x="351.63" y="152.36" width="16.08" height="1.79" fill="#f5f5ff"/><rect x="367.51" y="152.36" width="16.08" height="1.79" fill="#ff7e7e"/><rect x="383.38" y="152.36" width="16.08" height="1.79" fill="#fff4f4"/><rect x="399.26" y="152.36" width="16.08" height="1.79" fill="#fefeff"/><rect x="415.14" y="152.36" width="16.08" height="1.79" fill="#cdcdff"/><rect x="431.02" y="152.36" width="16.08" height="1.79" fill="#dedeff"/><rect x="446.89" y="152.36" width="16.08" height="1.79" fill="#d5d5ff"/><rect x="462.77" y="152.36" width="16.08" height="1.79" fill="#ff8d8d"/><rect x="478.65" y="152.36" width="16.08" height="1.79" fill="#bbbbff"/><rect x="494.52" y="152.36" width="16.08" height="1.79" fill="#b1b1ff"/><rect x="304.00" y="153.86" width="16.08" height="1.79" fill="#ff6b6b"/><rect x="319.88" y="153.86" width="16.08" height="1.79" fill="#dedeff"/><rect x="335.75" y="153.86" width="16.08" height="1.79" fill="#ffdddd"/><rect x="351.63" y="153.86" width="16.08" height="1.79" fill="#dbdbff"/><rect x="367.51" y="153.86" width="16.08" height="1.79" fill="#ff6060"/><rect x="383.38" y="153.86" width="16.08" height="1.79" fill="#ffdfdf"/><rect x="399.26" y="153.86" width="16.08" height="1.79" fill="#c8c8ff"/><rect x="415.14" y="153.86" width="16.08" height="1.79" fill="#a3a3ff"/><rect x="431.02" y="153.86" width="16.08" height="1.79" fill="#b6b6ff"/><rect x="446.89" y="153.86" width="16.08" height="1.79" fill="#ccccff"/><rect x="462.77" y="153.86" width="16.08" height="1.79" fill="#ff6767"/><rect x="478.65" y="153.86" width="16.08" height="1.79" fill="#ccccff"/><rect x="494.52" y="153.86" width="16.08" height="1.79" fill="#8585ff"/><rect x="304.00" y="155.35" width="16.08" height="1.79" fill="#ff6666"/><rect x="319.88" y="155.35" width="16.08" height="1.79" fill="#c1c1ff"/><rect x="335.75" y="155.35" width="16.08" height="1.79" fill="#ffd5d5"/><rect x="351.63" y="155.35" width="16.08" height="1.79" fill="#fff9f9"/><rect x="367.51" y="155.35" width="16.08" height="1.79" fill="#ff9797"/><rect x="383.38" y="155.35" width="16.08" height="1.79" fill="#fff0f0"/><rect x="399.26" y="155.35" width="16.08" height="1.79" fill="#d6d6ff"/><rect x="415.14" y="155.35" width="16.08" height="1.79" fill="#afafff"/><rect x="431.02" y="155.35" width="16.08" height="1.79" fill="#c7c7ff"/><rect x="446.89" y="155.35" width="16.08" height="1.79" fill="#9494ff"/><rect x="462.77" y="155.35" width="16.08" height="1.79" fill="#ff7777"/><rect x="478.65" y="155.35" width="16.08" height="1.79" fill="#dedeff"/><rect x="494.52" y="155.35" width="16.08" height="1.79" fill="#8d8dff"/><rect x="304.00" y="156.85" width="16.08" height="1.79" fill="#ff9c9c"/><rect x="319.88" y="156.85" width="16.08" height="1.79" fill="#f3f3ff"/><rect x="335.75" y="156.85" width="16.08" height="1.79" fill="#ffecec"/><rect x="351.63" y="156.85" width="16.08" height="1.79" fill="#ffdddd"/><rect x="367.51" y="156.85" width="16.08" height="1.79" fill="#ff6a6a"/><rect x="383.38" y="156.85" width="16.08" height="1.79" fill="#ffeeee"/><rect x="399.26" y="156.85" width="16.08" height="1.79" fill="#ffdede"/><rect x="415.14" y="156.85" width="16.08" height="1.79" fill="#b5b5ff"/><rect x="431.02" y="156.85" width="16.08" height="1.79" fill="#b2b2ff"/><rect x="446.89" y="156.85" width="16.08" height="1.79" fill="#cacaff"/><rect x="462.77" y="156.85" width="16.08" height="1.79" fill="#ff9b9b"/><rect x="478.65" y="156.85" width="16.08" height="1.79" fill="#ababff"/><rect x="494.52" y="156.85" width="16.08" height="1.79" fill="#a8a8ff"/><rect x="304.00" y="158.34" width="16.08" height="1.79" fill="#ff6a6a"/><rect x="319.88" y="158.34" width="16.08" height="1.79" fill="#e1e1ff"/><rect x="335.75" y="158.34" width="16.08" height="1.79" fill="#ffe6e6"/><rect x="351.63" y="158.34" width="16.08" height="1.79" fill="#fffafa"/><rect x="367.51" y="158.34" width="16.08" height="1.79" fill="#ff5959"/><rect x="383.38" y="158.34" width="16.08" height="1.79" fill="#ffe4e4"/><rect x="399.26" y="158.34" width="16.08" height="1.79" fill="#e0e0ff"/><rect x="415.14" y="158.34" width="16.08" height="1.79" fill="#a8a8ff"/><rect x="431.02" y="158.34" width="16.08" height="1.79" fill="#c4c4ff"/><rect x="446.89" y="158.34" width="16.08" height="1.79" fill="#cbcbff"/><rect x="462.77" y="158.34" width="16.08" height="1.79" fill="#ff9d9d"/><rect x="478.65" y="158.34" width="16.08" height="1.79" fill="#c0c0ff"/><rect x="494.52" y="158.34" width="16.08" height="1.79" fill="#9f9fff"/><rect x="304.00" y="159.84" width="16.08" height="1.79" fill="#ff6363"/><rect x="319.88" y="159.84" width="16.08" height="1.79" fill="#ffe1e1"/><rect x="335.75" y="159.84" width="16.08" height="1.79" fill="#ffecec"/><rect x="351.63" y="159.84" width="16.08" height="1.79" fill="#fff3f3"/><rect x="367.51" y="159.84" width="16.08" height="1.79" fill="#ff6161"/><rect x="383.38" y="159.84" width="16.08" height="1.79" fill="#fbfbff"/><rect x="399.26" y="159.84" width="16.08" height="1.79" fill="#e5e5ff"/><rect x="415.14" y="159.84" width="16.08" height="1.79" fill="#a4a4ff"/><rect x="431.02" y="159.84" width="16.08" height="1.79" fill="#b9b9ff"/><rect x="446.89" y="159.84" width="16.08" height="1.79" fill="#9b9bff"/><rect x="462.77" y="159.84" width="16.08" height="1.79" fill="#ffc0c0"/><rect x="478.65" y="159.84" width="16.08" height="1.79" fill="#b2b2ff"/><rect x="494.52" y="159.84" width="16.08" height="1.79" fill="#b7b7ff"/><rect x="304.00" y="161.33" width="16.08" height="1.79" fill="#ff8181"/><rect x="319.88" y="161.33" width="16.08" height="1.79" fill="#ffffff"/><rect x="335.75" y="161.33" width="16.08" height="1.79" fill="#ffecec"/><rect x="351.63" y="161.33" width="16.08" height="1.79" fill="#aaaaff"/><rect x="367.51" y="161.33" width="16.08" height="1.79" fill="#ffc0c0"/><rect x="383.38" y="161.33" width="16.08" height="1.79" fill="#ffe1e1"/><rect x="399.26" y="161.33" width="16.08" height="1.79" fill="#c6c6ff"/><rect x="415.14" y="161.33" width="16.08" height="1.79" fill="#a5a5ff"/><rect x="431.02" y="161.33" width="16.08" height="1.79" fill="#e9e9ff"/><rect x="446.89" y="161.33" width="16.08" height="1.79" fill="#c0c0ff"/><rect x="462.77" y="161.33" width="16.08" height="1.79" fill="#ffe0e0"/><rect x="478.65" y="161.33" width="16.08" height="1.79" fill="#d9d9ff"/><rect x="494.52" y="161.33" width="16.08" height="1.79" fill="#dbdbff"/><rect x="304.00" y="162.83" width="16.08" height="1.79" fill="#ff6565"/><rect x="319.88" y="162.83" width="16.08" height="1.79" fill="#f6f6ff"/><rect x="335.75" y="162.83" width="16.08" height="1.79" fill="#ffe1e1"/><rect x="351.63" y="162.83" width="16.08" height="1.79" fill="#a5a5ff"/><rect x="367.51" y="162.83" width="16.08" height="1.79" fill="#ff8d8d"/><rect x="383.38" y="162.83" width="16.08" height="1.79" fill="#ffeeee"/><rect x="399.26" y="162.83" width="16.08" height="1.79" fill="#9d9dff"/><rect x="415.14" y="162.83" width="16.08" height="1.79" fill="#a1a1ff"/><rect x="431.02" y="162.83" width="16.08" height="1.79" fill="#fefeff"/><rect x="446.89" y="162.83" width="16.08" height="1.79" fill="#c8c8ff"/><rect x="462.77" y="162.83" width="16.08" height="1.79" fill="#ff9f9f"/><rect x="478.65" y="162.83" width="16.08" height="1.79" fill="#d9d9ff"/><rect x="494.52" y="162.83" width="16.08" height="1.79" fill="#c0c0ff"/><rect x="304.00" y="164.32" width="16.08" height="1.79" fill="#ff7979"/><rect x="319.88" y="164.32" width="16.08" height="1.79" fill="#ffc4c4"/><rect x="335.75" y="164.32" width="16.08" height="1.79" fill="#ffe6e6"/><rect x="351.63" y="164.32" width="16.08" height="1.79" fill="#8585ff"/><rect x="367.51" y="164.32" width="16.08" height="1.79" fill="#ffd3d3"/><rect x="383.38" y="164.32" width="16.08" height="1.79" fill="#ffb0b0"/><rect x="399.26" y="164.32" width="16.08" height="1.79" fill="#acacff"/><rect x="415.14" y="164.32" width="16.08" height="1.79" fill="#9393ff"/><rect x="431.02" y="164.32" width="16.08" height="1.79" fill="#fff8f8"/><rect x="446.89" y="164.32" width="16.08" height="1.79" fill="#a7a7ff"/><rect x="462.77" y="164.32" width="16.08" height="1.79" fill="#ffc5c5"/><rect x="478.65" y="164.32" width="16.08" height="1.79" fill="#b6b6ff"/><rect x="494.52" y="164.32" width="16.08" height="1.79" fill="#9696ff"/><rect x="304.00" y="165.82" width="16.08" height="1.79" fill="#ff8787"/><rect x="319.88" y="165.82" width="16.08" height="1.79" fill="#fffafa"/><rect x="335.75" y="165.82" width="16.08" height="1.79" fill="#ffdfdf"/><rect x="351.63" y="165.82" width="16.08" height="1.79" fill="#9e9eff"/><rect x="367.51" y="165.82" width="16.08" height="1.79" fill="#ff8e8e"/><rect x="383.38" y="165.82" width="16.08" height="1.79" fill="#ffcaca"/><rect x="399.26" y="165.82" width="16.08" height="1.79" fill="#c4c4ff"/><rect x="415.14" y="165.82" width="16.08" height="1.79" fill="#a2a2ff"/><rect x="431.02" y="165.82" width="16.08" height="1.79" fill="#eaeaff"/><rect x="446.89" y="165.82" width="16.08" height="1.79" fill="#a3a3ff"/><rect x="462.77" y="165.82" width="16.08" height="1.79" fill="#ffb6b6"/><rect x="478.65" y="165.82" width="16.08" height="1.79" fill="#dedeff"/><rect x="494.52" y="165.82" width="16.08" height="1.79" fill="#a7a7ff"/><rect x="304.00" y="167.31" width="16.08" height="1.79" fill="#ff4444"/><rect x="319.88" y="167.31" width="16.08" height="1.79" fill="#ffdede"/><rect x="335.75" y="167.31" width="16.08" height="1.79" fill="#ff9d9d"/><rect x="351.63" y="167.31" width="16.08" height="1.79" fill="#ffc4c4"/><rect x="367.51" y="167.31" width="16.08" height="1.79" fill="#ff9f9f"/><rect x="383.38" y="167.31" width="16.08" height="1.79" fill="#ffd4d4"/><rect x="399.26" y="167.31" width="16.08" height="1.79" fill="#bbbbff"/><rect x="415.14" y="167.31" width="16.08" height="1.79" fill="#7878ff"/><rect x="431.02" y="167.31" width="16.08" height="1.79" fill="#b9b9ff"/><rect x="446.89" y="167.31" width="16.08" height="1.79" fill="#9999ff"/><rect x="462.77" y="167.31" width="16.08" height="1.79" fill="#ffabab"/><rect x="478.65" y="167.31" width="16.08" height="1.79" fill="#b9b9ff"/><rect x="494.52" y="167.31" width="16.08" height="1.79" fill="#b3b3ff"/><rect x="304.00" y="168.80" width="16.08" height="1.79" fill="#ff5858"/><rect x="319.88" y="168.80" width="16.08" height="1.79" fill="#ffc4c4"/><rect x="335.75" y="168.80" width="16.08" height="1.79" fill="#ffefef"/><rect x="351.63" y="168.80" width="16.08" height="1.79" fill="#ffd9d9"/><rect x="367.51" y="168.80" width="16.08" height="1.79" fill="#ffa9a9"/><rect x="383.38" y="168.80" width="16.08" height="1.79" fill="#ffc2c2"/><rect x="399.26" y="168.80" width="16.08" height="1.79" fill="#bcbcff"/><rect x="415.14" y="168.80" width="16.08" height="1.79" fill="#9b9bff"/><rect x="431.02" y="168.80" width="16.08" height="1.79" fill="#cacaff"/><rect x="446.89" y="168.80" width="16.08" height="1.79" fill="#9696ff"/><rect x="462.77" y="168.80" width="16.08" height="1.79" fill="#ff9b9b"/><rect x="478.65" y="168.80" width="16.08" height="1.79" fill="#d9d9ff"/><rect x="494.52" y="168.80" width="16.08" height="1.79" fill="#b7b7ff"/><rect x="304.00" y="170.30" width="16.08" height="1.79" fill="#ff5858"/><rect x="319.88" y="170.30" width="16.08" height="1.79" fill="#ffb8b8"/><rect x="335.75" y="170.30" width="16.08" height="1.79" fill="#ffbebe"/><rect x="351.63" y="170.30" width="16.08" height="1.79" fill="#ffc7c7"/><rect x="367.51" y="170.30" width="16.08" height="1.79" fill="#ff9999"/><rect x="383.38" y="170.30" width="16.08" height="1.79" fill="#ffa5a5"/><rect x="399.26" y="170.30" width="16.08" height="1.79" fill="#afafff"/><rect x="415.14" y="170.30" width="16.08" height="1.79" fill="#8a8aff"/><rect x="431.02" y="170.30" width="16.08" height="1.79" fill="#adadff"/><rect x="446.89" y="170.30" width="16.08" height="1.79" fill="#8181ff"/><rect x="462.77" y="170.30" width="16.08" height="1.79" fill="#ff9999"/><rect x="478.65" y="170.30" width="16.08" height="1.79" fill="#bbbbff"/><rect x="494.52" y="170.30" width="16.08" height="1.79" fill="#aaaaff"/><rect x="304.00" y="171.79" width="16.08" height="1.79" fill="#ffbfbf"/><rect x="319.88" y="171.79" width="16.08" height="1.79" fill="#ff9c9c"/><rect x="335.75" y="171.79" width="16.08" height="1.79" fill="#ffcbcb"/><rect x="351.63" y="171.79" width="16.08" height="1.79" fill="#ffbaba"/><rect x="367.51" y="171.79" width="16.08" height="1.79" fill="#ffb7b7"/><rect x="383.38" y="171.79" width="16.08" height="1.79" fill="#ffb4b4"/><rect x="399.26" y="171.79" width="16.08" height="1.79" fill="#e3e3ff"/><rect x="415.14" y="171.79" width="16.08" height="1.79" fill="#adadff"/><rect x="431.02" y="171.79" width="16.08" height="1.79" fill="#a4a4ff"/><rect x="446.89" y="171.79" width="16.08" height="1.79" fill="#b7b7ff"/><rect x="462.77" y="171.79" width="16.08" height="1.79" fill="#ffbebe"/><rect x="478.65" y="171.79" width="16.08" height="1.79" fill="#acacff"/><rect x="494.52" y="171.79" width="16.08" height="1.79" fill="#b3b3ff"/><rect x="304.00" y="173.29" width="16.08" height="1.79" fill="#ff9090"/><rect x="319.88" y="173.29" width="16.08" height="1.79" fill="#ffbdbd"/><rect x="335.75" y="173.29" width="16.08" height="1.79" fill="#ff7070"/><rect x="351.63" y="173.29" width="16.08" height="1.79" fill="#ff7676"/><rect x="367.51" y="173.29" width="16.08" height="1.79" fill="#ffcbcb"/><rect x="383.38" y="173.29" width="16.08" height="1.79" fill="#ffa3a3"/><rect x="399.26" y="173.29" width="16.08" height="1.79" fill="#d1d1ff"/><rect x="415.14" y="173.29" width="16.08" height="1.79" fill="#b6b6ff"/><rect x="431.02" y="173.29" width="16.08" height="1.79" fill="#b0b0ff"/><rect x="446.89" y="173.29" width="16.08" height="1.79" fill="#9d9dff"/><rect x="462.77" y="173.29" width="16.08" height="1.79" fill="#ffebeb"/><rect x="478.65" y="173.29" width="16.08" height="1.79" fill="#a5a5ff"/><rect x="494.52" y="173.29" width="16.08" height="1.79" fill="#b8b8ff"/><rect x="304.00" y="174.78" width="16.08" height="1.79" fill="#ffc9c9"/><rect x="319.88" y="174.78" width="16.08" height="1.79" fill="#ffc1c1"/><rect x="335.75" y="174.78" width="16.08" height="1.79" fill="#ffe8e8"/><rect x="351.63" y="174.78" width="16.08" height="1.79" fill="#ffc6c6"/><rect x="367.51" y="174.78" width="16.08" height="1.79" fill="#ffc9c9"/><rect x="383.38" y="174.78" width="16.08" height="1.79" fill="#ffb7b7"/><rect x="399.26" y="174.78" width="16.08" height="1.79" fill="#d8d8ff"/><rect x="415.14" y="174.78" width="16.08" height="1.79" fill="#aeaeff"/><rect x="431.02" y="174.78" width="16.08" height="1.79" fill="#b8b8ff"/><rect x="446.89" y="174.78" width="16.08" height="1.79" fill="#bfbfff"/><rect x="462.77" y="174.78" width="16.08" height="1.79" fill="#fdfdff"/><rect x="478.65" y="174.78" width="16.08" height="1.79" fill="#c1c1ff"/><rect x="494.52" y="174.78" width="16.08" height="1.79" fill="#d0d0ff"/><rect x="304.00" y="176.28" width="16.08" height="1.79" fill="#ff7474"/><rect x="319.88" y="176.28" width="16.08" height="1.79" fill="#ffb3b3"/><rect x="335.75" y="176.28" width="16.08" height="1.79" fill="#ffacac"/><rect x="351.63" y="176.28" width="16.08" height="1.79" fill="#ffd6d6"/><rect x="367.51" y="176.28" width="16.08" height="1.79" fill="#ff7d7d"/><rect x="383.38" y="176.28" width="16.08" height="1.79" fill="#ffb2b2"/><rect x="399.26" y="176.28" width="16.08" height="1.79" fill="#c9c9ff"/><rect x="415.14" y="176.28" width="16.08" height="1.79" fill="#aeaeff"/><rect x="431.02" y="176.28" width="16.08" height="1.79" fill="#8888ff"/><rect x="446.89" y="176.28" width="16.08" height="1.79" fill="#adadff"/><rect x="462.77" y="176.28" width="16.08" height="1.79" fill="#ffd7d7"/><rect x="478.65" y="176.28" width="16.08" height="1.79" fill="#7e7eff"/><rect x="494.52" y="176.28" width="16.08" height="1.79" fill="#a9a9ff"/><rect x="304.00" y="177.77" width="16.08" height="1.79" fill="#ffb0b0"/><rect x="319.88" y="177.77" width="16.08" height="1.79" fill="#ff9393"/><rect x="335.75" y="177.77" width="16.08" height="1.79" fill="#ff9292"/><rect x="351.63" y="177.77" width="16.08" height="1.79" fill="#ff9a9a"/><rect x="367.51" y="177.77" width="16.08" height="1.79" fill="#ff8181"/><rect x="383.38" y="177.77" width="16.08" height="1.79" fill="#ff8989"/><rect x="399.26" y="177.77" width="16.08" height="1.79" fill="#ababff"/><rect x="415.14" y="177.77" width="16.08" height="1.79" fill="#b5b5ff"/><rect x="431.02" y="177.77" width="16.08" height="1.79" fill="#9b9bff"/><rect x="446.89" y="177.77" width="16.08" height="1.79" fill="#a5a5ff"/><rect x="462.77" y="177.77" width="16.08" height="1.79" fill="#8686ff"/><rect x="478.65" y="177.77" width="16.08" height="1.79" fill="#a1a1ff"/><rect x="494.52" y="177.77" width="16.08" height="1.79" fill="#babaff"/><rect x="304.00" y="179.27" width="16.08" height="1.79" fill="#ff9797"/><rect x="319.88" y="179.27" width="16.08" height="1.79" fill="#ffc4c4"/><rect x="335.75" y="179.27" width="16.08" height="1.79" fill="#ffb0b0"/><rect x="351.63" y="179.27" width="16.08" height="1.79" fill="#ffa9a9"/><rect x="367.51" y="179.27" width="16.08" height="1.79" fill="#ff8080"/><rect x="383.38" y="179.27" width="16.08" height="1.79" fill="#ffa4a4"/><rect x="399.26" y="179.27" width="16.08" height="1.79" fill="#c4c4ff"/><rect x="415.14" y="179.27" width="16.08" height="1.79" fill="#acacff"/><rect x="431.02" y="179.27" width="16.08" height="1.79" fill="#c8c8ff"/><rect x="446.89" y="179.27" width="16.08" height="1.79" fill="#9898ff"/><rect x="462.77" y="179.27" width="16.08" height="1.79" fill="#9595ff"/><rect x="478.65" y="179.27" width="16.08" height="1.79" fill="#bfbfff"/><rect x="494.52" y="179.27" width="16.08" height="1.79" fill="#a1a1ff"/><rect x="304.00" y="180.76" width="16.08" height="1.79" fill="#ffa8a8"/><rect x="319.88" y="180.76" width="16.08" height="1.79" fill="#ffbbbb"/><rect x="335.75" y="180.76" width="16.08" height="1.79" fill="#ff9d9d"/><rect x="351.63" y="180.76" width="16.08" height="1.79" fill="#ffafaf"/><rect x="367.51" y="180.76" width="16.08" height="1.79" fill="#ffb5b5"/><rect x="383.38" y="180.76" width="16.08" height="1.79" fill="#ffadad"/><rect x="399.26" y="180.76" width="16.08" height="1.79" fill="#c6c6ff"/><rect x="415.14" y="180.76" width="16.08" height="1.79" fill="#a2a2ff"/><rect x="431.02" y="180.76" width="16.08" height="1.79" fill="#c6c6ff"/><rect x="446.89" y="180.76" width="16.08" height="1.79" fill="#a4a4ff"/><rect x="462.77" y="180.76" width="16.08" height="1.79" fill="#a2a2ff"/><rect x="478.65" y="180.76" width="16.08" height="1.79" fill="#c6c6ff"/><rect x="494.52" y="180.76" width="16.08" height="1.79" fill="#c4c4ff"/><rect x="304.00" y="182.26" width="16.08" height="1.79" fill="#ff8c8c"/><rect x="319.88" y="182.26" width="16.08" height="1.79" fill="#ffcdcd"/><rect x="335.75" y="182.26" width="16.08" height="1.79" fill="#ff7373"/><rect x="351.63" y="182.26" width="16.08" height="1.79" fill="#ffb9b9"/><rect x="367.51" y="182.26" width="16.08" height="1.79" fill="#ff9696"/><rect x="383.38" y="182.26" width="16.08" height="1.79" fill="#ffbcbc"/><rect x="399.26" y="182.26" width="16.08" height="1.79" fill="#ccccff"/><rect x="415.14" y="182.26" width="16.08" height="1.79" fill="#dcdcff"/><rect x="431.02" y="182.26" width="16.08" height="1.79" fill="#8787ff"/><rect x="446.89" y="182.26" width="16.08" height="1.79" fill="#b2b2ff"/><rect x="462.77" y="182.26" width="16.08" height="1.79" fill="#f8f8ff"/><rect x="478.65" y="182.26" width="16.08" height="1.79" fill="#adadff"/><rect x="494.52" y="182.26" width="16.08" height="1.79" fill="#aeaeff"/><rect x="304.00" y="183.75" width="16.08" height="1.79" fill="#ff6f6f"/><rect x="319.88" y="183.75" width="16.08" height="1.79" fill="#ffb9b9"/><rect x="335.75" y="183.75" width="16.08" height="1.79" fill="#ff6c6c"/><rect x="351.63" y="183.75" width="16.08" height="1.79" fill="#ffadad"/><rect x="367.51" y="183.75" width="16.08" height="1.79" fill="#ff7373"/><rect x="383.38" y="183.75" width="16.08" height="1.79" fill="#ff9696"/><rect x="399.26" y="183.75" width="16.08" height="1.79" fill="#9a9aff"/><rect x="415.14" y="183.75" width="16.08" height="1.79" fill="#a4a4ff"/><rect x="431.02" y="183.75" width="16.08" height="1.79" fill="#9999ff"/><rect x="446.89" y="183.75" width="16.08" height="1.79" fill="#7b7bff"/><rect x="462.77" y="183.75" width="16.08" height="1.79" fill="#a7a7ff"/><rect x="478.65" y="183.75" width="16.08" height="1.79" fill="#a2a2ff"/><rect x="494.52" y="183.75" width="16.08" height="1.79" fill="#a6a6ff"/><rect x="304.00" y="185.25" width="16.08" height="1.79" fill="#ff8585"/><rect x="319.88" y="185.25" width="16.08" height="1.79" fill="#ffb3b3"/><rect x="335.75" y="185.25" width="16.08" height="1.79" fill="#ff9696"/><rect x="351.63" y="185.25" width="16.08" height="1.79" fill="#ffdede"/><rect x="367.51" y="185.25" width="16.08" height="1.79" fill="#ffb6b6"/><rect x="383.38" y="185.25" width="16.08" height="1.79" fill="#ff9e9e"/><rect x="399.26" y="185.25" width="16.08" height="1.79" fill="#ccccff"/><rect x="415.14" y="185.25" width="16.08" height="1.79" fill="#c2c2ff"/><rect x="431.02" y="185.25" width="16.08" height="1.79" fill="#8b8bff"/><rect x="446.89" y="185.25" width="16.08" height="1.79" fill="#c0c0ff"/><rect x="462.77" y="185.25" width="16.08" height="1.79" fill="#fafaff"/><rect x="478.65" y="185.25" width="16.08" height="1.79" fill="#e4e4ff"/><rect x="494.52" y="185.25" width="16.08" height="1.79" fill="#a9a9ff"/><rect x="304.00" y="186.74" width="16.08" height="1.79" fill="#ff9090"/><rect x="319.88" y="186.74" width="16.08" height="1.79" fill="#ffa5a5"/><rect x="335.75" y="186.74" width="16.08" height="1.79" fill="#ffa6a6"/><rect x="351.63" y="186.74" width="16.08" height="1.79" fill="#ff9393"/><rect x="367.51" y="186.74" width="16.08" height="1.79" fill="#ffbaba"/><rect x="383.38" y="186.74" width="16.08" height="1.79" fill="#ffa5a5"/><rect x="399.26" y="186.74" width="16.08" height="1.79" fill="#acacff"/><rect x="415.14" y="186.74" width="16.08" height="1.79" fill="#adadff"/><rect x="431.02" y="186.74" width="16.08" height="1.79" fill="#a9a9ff"/><rect x="446.89" y="186.74" width="16.08" height="1.79" fill="#9696ff"/><rect x="462.77" y="186.74" width="16.08" height="1.79" fill="#fffefe"/><rect x="478.65" y="186.74" width="16.08" height="1.79" fill="#b0b0ff"/><rect x="494.52" y="186.74" width="16.08" height="1.79" fill="#ababff"/><rect x="304.00" y="188.23" width="16.08" height="1.79" fill="#ff8282"/><rect x="319.88" y="188.23" width="16.08" height="1.79" fill="#ffb7b7"/><rect x="335.75" y="188.23" width="16.08" height="1.79" fill="#ff8c8c"/><rect x="351.63" y="188.23" width="16.08" height="1.79" fill="#ff9898"/><rect x="367.51" y="188.23" width="16.08" height="1.79" fill="#ff9898"/><rect x="383.38" y="188.23" width="16.08" height="1.79" fill="#ffb7b7"/><rect x="399.26" y="188.23" width="16.08" height="1.79" fill="#9292ff"/><rect x="415.14" y="188.23" width="16.08" height="1.79" fill="#bdbdff"/><rect x="431.02" y="188.23" width="16.08" height="1.79" fill="#aaaaff"/><rect x="446.89" y="188.23" width="16.08" height="1.79" fill="#a3a3ff"/><rect x="462.77" y="188.23" width="16.08" height="1.79" fill="#aaaaff"/><rect x="478.65" y="188.23" width="16.08" height="1.79" fill="#a9a9ff"/><rect x="494.52" y="188.23" width="16.08" height="1.79" fill="#9b9bff"/><rect x="304.00" y="189.73" width="16.08" height="1.79" fill="#ffb5b5"/><rect x="319.88" y="189.73" width="16.08" height="1.79" fill="#ffbfbf"/><rect x="335.75" y="189.73" width="16.08" height="1.79" fill="#ffa6a6"/><rect x="351.63" y="189.73" width="16.08" height="1.79" fill="#ffcaca"/><rect x="367.51" y="189.73" width="16.08" height="1.79" fill="#ffa6a6"/><rect x="383.38" y="189.73" width="16.08" height="1.79" fill="#ffdada"/><rect x="399.26" y="189.73" width="16.08" height="1.79" fill="#dadaff"/><rect x="415.14" y="189.73" width="16.08" height="1.79" fill="#9e9eff"/><rect x="431.02" y="189.73" width="16.08" height="1.79" fill="#babaff"/><rect x="446.89" y="189.73" width="16.08" height="1.79" fill="#cfcfff"/><rect x="462.77" y="189.73" width="16.08" height="1.79" fill="#c4c4ff"/><rect x="478.65" y="189.73" width="16.08" height="1.79" fill="#a4a4ff"/><rect x="494.52" y="189.73" width="16.08" height="1.79" fill="#b4b4ff"/><rect x="304.00" y="191.22" width="16.08" height="1.79" fill="#ffbaba"/><rect x="319.88" y="191.22" width="16.08" height="1.79" fill="#ffb0b0"/><rect x="335.75" y="191.22" width="16.08" height="1.79" fill="#ff8787"/><rect x="351.63" y="191.22" width="16.08" height="1.79" fill="#ffadad"/><rect x="367.51" y="191.22" width="16.08" height="1.79" fill="#ffa2a2"/><rect x="383.38" y="191.22" width="16.08" height="1.79" fill="#ffa2a2"/><rect x="399.26" y="191.22" width="16.08" height="1.79" fill="#cdcdff"/><rect x="415.14" y="191.22" width="16.08" height="1.79" fill="#b6b6ff"/><rect x="431.02" y="191.22" width="16.08" height="1.79" fill="#b0b0ff"/><rect x="446.89" y="191.22" width="16.08" height="1.79" fill="#9e9eff"/><rect x="462.77" y="191.22" width="16.08" height="1.79" fill="#b0b0ff"/><rect x="478.65" y="191.22" width="16.08" height="1.79" fill="#9e9eff"/><rect x="494.52" y="191.22" width="16.08" height="1.79" fill="#9d9dff"/><rect x="304.00" y="192.72" width="16.08" height="1.79" fill="#ffb2b2"/><rect x="319.88" y="192.72" width="16.08" height="1.79" fill="#ffafaf"/><rect x="335.75" y="192.72" width="16.08" height="1.79" fill="#ff9c9c"/><rect x="351.63" y="192.72" width="16.08" height="1.79" fill="#ffc9c9"/><rect x="367.51" y="192.72" width="16.08" height="1.79" fill="#ffb5b5"/><rect x="383.38" y="192.72" width="16.08" height="1.79" fill="#ffaaaa"/><rect x="399.26" y="192.72" width="16.08" height="1.79" fill="#e4e4ff"/><rect x="415.14" y="192.72" width="16.08" height="1.79" fill="#c6c6ff"/><rect x="431.02" y="192.72" width="16.08" height="1.79" fill="#8080ff"/><rect x="446.89" y="192.72" width="16.08" height="1.79" fill="#a4a4ff"/><rect x="462.77" y="192.72" width="16.08" height="1.79" fill="#9090ff"/><rect x="478.65" y="192.72" width="16.08" height="1.79" fill="#bcbcff"/><rect x="494.52" y="192.72" width="16.08" height="1.79" fill="#ebebff"/><rect x="304.00" y="194.21" width="16.08" height="1.79" fill="#ffaaaa"/><rect x="319.88" y="194.21" width="16.08" height="1.79" fill="#ffbbbb"/><rect x="335.75" y="194.21" width="16.08" height="1.79" fill="#ffbfbf"/><rect x="351.63" y="194.21" width="16.08" height="1.79" fill="#ffc7c7"/><rect x="367.51" y="194.21" width="16.08" height="1.79" fill="#fefeff"/><rect x="383.38" y="194.21" width="16.08" height="1.79" fill="#ffc1c1"/><rect x="399.26" y="194.21" width="16.08" height="1.79" fill="#fff1f1"/><rect x="415.14" y="194.21" width="16.08" height="1.79" fill="#b9b9ff"/><rect x="431.02" y="194.21" width="16.08" height="1.79" fill="#c6c6ff"/><rect x="446.89" y="194.21" width="16.08" height="1.79" fill="#d3d3ff"/><rect x="462.77" y="194.21" width="16.08" height="1.79" fill="#c8c8ff"/><rect x="478.65" y="194.21" width="16.08" height="1.79" fill="#cacaff"/><rect x="494.52" y="194.21" width="16.08" height="1.79" fill="#c8c8ff"/><rect x="304.00" y="195.71" width="16.08" height="1.79" fill="#ffaaaa"/><rect x="319.88" y="195.71" width="16.08" height="1.79" fill="#ffbebe"/><rect x="335.75" y="195.71" width="16.08" height="1.79" fill="#ffa6a6"/><rect x="351.63" y="195.71" width="16.08" height="1.79" fill="#ffe1e1"/><rect x="367.51" y="195.71" width="16.08" height="1.79" fill="#ffd0d0"/><rect x="383.38" y="195.71" width="16.08" height="1.79" fill="#ffc3c3"/><rect x="399.26" y="195.71" width="16.08" height="1.79" fill="#fff9f9"/><rect x="415.14" y="195.71" width="16.08" height="1.79" fill="#cfcfff"/><rect x="431.02" y="195.71" width="16.08" height="1.79" fill="#f8f8ff"/><rect x="446.89" y="195.71" width="16.08" height="1.79" fill="#b0b0ff"/><rect x="462.77" y="195.71" width="16.08" height="1.79" fill="#a8a8ff"/><rect x="478.65" y="195.71" width="16.08" height="1.79" fill="#d4d4ff"/><rect x="494.52" y="195.71" width="16.08" height="1.79" fill="#eeeeff"/><rect x="304.00" y="197.20" width="16.08" height="1.79" fill="#ff7070"/><rect x="319.88" y="197.20" width="16.08" height="1.79" fill="#ffa7a7"/><rect x="335.75" y="197.20" width="16.08" height="1.79" fill="#ff9c9c"/><rect x="351.63" y="197.20" width="16.08" height="1.79" fill="#ff9595"/><rect x="367.51" y="197.20" width="16.08" height="1.79" fill="#ffb9b9"/><rect x="383.38" y="197.20" width="16.08" height="1.79" fill="#ffcccc"/><rect x="399.26" y="197.20" width="16.08" height="1.79" fill="#c5c5ff"/><rect x="415.14" y="197.20" width="16.08" height="1.79" fill="#c0c0ff"/><rect x="431.02" y="197.20" width="16.08" height="1.79" fill="#ceceff"/><rect x="446.89" y="197.20" width="16.08" height="1.79" fill="#8c8cff"/><rect x="462.77" y="197.20" width="16.08" height="1.79" fill="#9898ff"/><rect x="478.65" y="197.20" width="16.08" height="1.79" fill="#9f9fff"/><rect x="494.52" y="197.20" width="16.08" height="1.79" fill="#9797ff"/><rect x="304.00" y="198.70" width="16.08" height="1.79" fill="#ff7070"/><rect x="319.88" y="198.70" width="16.08" height="1.79" fill="#ffb8b8"/><rect x="335.75" y="198.70" width="16.08" height="1.79" fill="#ff7a7a"/><rect x="351.63" y="198.70" width="16.08" height="1.79" fill="#ffe1e1"/><rect x="367.51" y="198.70" width="16.08" height="1.79" fill="#ff9d9d"/><rect x="383.38" y="198.70" width="16.08" height="1.79" fill="#ffa2a2"/><rect x="399.26" y="198.70" width="16.08" height="1.79" fill="#dbdbff"/><rect x="415.14" y="198.70" width="16.08" height="1.79" fill="#b5b5ff"/><rect x="431.02" y="198.70" width="16.08" height="1.79" fill="#9494ff"/><rect x="446.89" y="198.70" width="16.08" height="1.79" fill="#7c7cff"/><rect x="462.77" y="198.70" width="16.08" height="1.79" fill="#8e8eff"/><rect x="478.65" y="198.70" width="16.08" height="1.79" fill="#8888ff"/><rect x="494.52" y="198.70" width="16.08" height="1.79" fill="#8686ff"/><rect x="304.00" y="200.19" width="16.08" height="1.79" fill="#ff7f7f"/><rect x="319.88" y="200.19" width="16.08" height="1.79" fill="#ffa7a7"/><rect x="335.75" y="200.19" width="16.08" height="1.79" fill="#ffa4a4"/><rect x="351.63" y="200.19" width="16.08" height="1.79" fill="#fff6f6"/><rect x="367.51" y="200.19" width="16.08" height="1.79" fill="#ffc1c1"/><rect x="383.38" y="200.19" width="16.08" height="1.79" fill="#ffdede"/><rect x="399.26" y="200.19" width="16.08" height="1.79" fill="#efefff"/><rect x="415.14" y="200.19" width="16.08" height="1.79" fill="#c9c9ff"/><rect x="431.02" y="200.19" width="16.08" height="1.79" fill="#bebeff"/><rect x="446.89" y="200.19" width="16.08" height="1.79" fill="#b0b0ff"/><rect x="462.77" y="200.19" width="16.08" height="1.79" fill="#c9c9ff"/><rect x="478.65" y="200.19" width="16.08" height="1.79" fill="#c6c6ff"/><rect x="494.52" y="200.19" width="16.08" height="1.79" fill="#a6a6ff"/><rect x="304.00" y="201.69" width="16.08" height="1.79" fill="#ff6a6a"/><rect x="319.88" y="201.69" width="16.08" height="1.79" fill="#ffa5a5"/><rect x="335.75" y="201.69" width="16.08" height="1.79" fill="#ff8282"/><rect x="351.63" y="201.69" width="16.08" height="1.79" fill="#ffe8e8"/><rect x="367.51" y="201.69" width="16.08" height="1.79" fill="#ffb0b0"/><rect x="383.38" y="201.69" width="16.08" height="1.79" fill="#ffbaba"/><rect x="399.26" y="201.69" width="16.08" height="1.79" fill="#d9d9ff"/><rect x="415.14" y="201.69" width="16.08" height="1.79" fill="#d6d6ff"/><rect x="431.02" y="201.69" width="16.08" height="1.79" fill="#cdcdff"/><rect x="446.89" y="201.69" width="16.08" height="1.79" fill="#aaaaff"/><rect x="462.77" y="201.69" width="16.08" height="1.79" fill="#ceceff"/><rect x="478.65" y="201.69" width="16.08" height="1.79" fill="#c1c1ff"/><rect x="494.52" y="201.69" width="16.08" height="1.79" fill="#adadff"/><rect x="304.00" y="203.18" width="16.08" height="1.79" fill="#ffa3a3"/><rect x="319.88" y="203.18" width="16.08" height="1.79" fill="#ffcaca"/><rect x="335.75" y="203.18" width="16.08" height="1.79" fill="#ff7474"/><rect x="351.63" y="203.18" width="16.08" height="1.79" fill="#ff7979"/><rect x="367.51" y="203.18" width="16.08" height="1.79" fill="#ffe1e1"/><rect x="383.38" y="203.18" width="16.08" height="1.79" fill="#ffb5b5"/><rect x="399.26" y="203.18" width="16.08" height="1.79" fill="#dcdcff"/><rect x="415.14" y="203.18" width="16.08" height="1.79" fill="#afafff"/><rect x="431.02" y="203.18" width="16.08" height="1.79" fill="#9292ff"/><rect x="446.89" y="203.18" width="16.08" height="1.79" fill="#dbdbff"/><rect x="462.77" y="203.18" width="16.08" height="1.79" fill="#7d7dff"/><rect x="478.65" y="203.18" width="16.08" height="1.79" fill="#a4a4ff"/><rect x="494.52" y="203.18" width="16.08" height="1.79" fill="#c2c2ff"/><rect x="304.00" y="204.68" width="16.08" height="1.79" fill="#ff8383"/><rect x="319.88" y="204.68" width="16.08" height="1.79" fill="#ffc9c9"/><rect x="335.75" y="204.68" width="16.08" height="1.79" fill="#ff7575"/><rect x="351.63" y="204.68" width="16.08" height="1.79" fill="#ff7676"/><rect x="367.51" y="204.68" width="16.08" height="1.79" fill="#ffd6d6"/><rect x="383.38" y="204.68" width="16.08" height="1.79" fill="#ff8a8a"/><rect x="399.26" y="204.68" width="16.08" height="1.79" fill="#e5e5ff"/><rect x="415.14" y="204.68" width="16.08" height="1.79" fill="#c7c7ff"/><rect x="431.02" y="204.68" width="16.08" height="1.79" fill="#9f9fff"/><rect x="446.89" y="204.68" width="16.08" height="1.79" fill="#c6c6ff"/><rect x="462.77" y="204.68" width="16.08" height="1.79" fill="#a4a4ff"/><rect x="478.65" y="204.68" width="16.08" height="1.79" fill="#8686ff"/><rect x="494.52" y="204.68" width="16.08" height="1.79" fill="#9595ff"/><rect x="304.00" y="206.17" width="16.08" height="1.79" fill="#ffa2a2"/><rect x="319.88" y="206.17" width="16.08" height="1.79" fill="#ffcfcf"/><rect x="335.75" y="206.17" width="16.08" height="1.79" fill="#ff7979"/><rect x="351.63" y="206.17" width="16.08" height="1.79" fill="#ff7a7a"/><rect x="367.51" y="206.17" width="16.08" height="1.79" fill="#ffe2e2"/><rect x="383.38" y="206.17" width="16.08" height="1.79" fill="#ffa9a9"/><rect x="399.26" y="206.17" width="16.08" height="1.79" fill="#d0d0ff"/><rect x="415.14" y="206.17" width="16.08" height="1.79" fill="#f0f0ff"/><rect x="431.02" y="206.17" width="16.08" height="1.79" fill="#b1b1ff"/><rect x="446.89" y="206.17" width="16.08" height="1.79" fill="#c8c8ff"/><rect x="462.77" y="206.17" width="16.08" height="1.79" fill="#7f7fff"/><rect x="478.65" y="206.17" width="16.08" height="1.79" fill="#aeaeff"/><rect x="494.52" y="206.17" width="16.08" height="1.79" fill="#8c8cff"/><rect x="304.00" y="207.66" width="16.08" height="1.79" fill="#ff9b9b"/><rect x="319.88" y="207.66" width="16.08" height="1.79" fill="#ffffff"/><rect x="335.75" y="207.66" width="16.08" height="1.79" fill="#ff9292"/><rect x="351.63" y="207.66" width="16.08" height="1.79" fill="#ffa9a9"/><rect x="367.51" y="207.66" width="16.08" height="1.79" fill="#ffbbbb"/><rect x="383.38" y="207.66" width="16.08" height="1.79" fill="#ffbfbf"/><rect x="399.26" y="207.66" width="16.08" height="1.79" fill="#a6a6ff"/><rect x="415.14" y="207.66" width="16.08" height="1.79" fill="#aeaeff"/><rect x="431.02" y="207.66" width="16.08" height="1.79" fill="#a2a2ff"/><rect x="446.89" y="207.66" width="16.08" height="1.79" fill="#9d9dff"/><rect x="462.77" y="207.66" width="16.08" height="1.79" fill="#7777ff"/><rect x="478.65" y="207.66" width="16.08" height="1.79" fill="#c4c4ff"/><rect x="494.52" y="207.66" width="16.08" height="1.79" fill="#9999ff"/><rect x="304.00" y="209.16" width="16.08" height="1.79" fill="#ff8a8a"/><rect x="319.88" y="209.16" width="16.08" height="1.79" fill="#ffefef"/><rect x="335.75" y="209.16" width="16.08" height="1.79" fill="#ff9e9e"/><rect x="351.63" y="209.16" width="16.08" height="1.79" fill="#ff9898"/><rect x="367.51" y="209.16" width="16.08" height="1.79" fill="#ffdddd"/><rect x="383.38" y="209.16" width="16.08" height="1.79" fill="#ffb5b5"/><rect x="399.26" y="209.16" width="16.08" height="1.79" fill="#ddddff"/><rect x="415.14" y="209.16" width="16.08" height="1.79" fill="#b2b2ff"/><rect x="431.02" y="209.16" width="16.08" height="1.79" fill="#8383ff"/><rect x="446.89" y="209.16" width="16.08" height="1.79" fill="#b4b4ff"/><rect x="462.77" y="209.16" width="16.08" height="1.79" fill="#6f6fff"/><rect x="478.65" y="209.16" width="16.08" height="1.79" fill="#ceceff"/><rect x="494.52" y="209.16" width="16.08" height="1.79" fill="#a8a8ff"/><rect x="304.00" y="210.65" width="16.08" height="1.79" fill="#ff7777"/><rect x="319.88" y="210.65" width="16.08" height="1.79" fill="#e8e8ff"/><rect x="335.75" y="210.65" width="16.08" height="1.79" fill="#ffaeae"/><rect x="351.63" y="210.65" width="16.08" height="1.79" fill="#ffb4b4"/><rect x="367.51" y="210.65" width="16.08" height="1.79" fill="#f6f6ff"/><rect x="383.38" y="210.65" width="16.08" height="1.79" fill="#ffd7d7"/><rect x="399.26" y="210.65" width="16.08" height="1.79" fill="#d2d2ff"/><rect x="415.14" y="210.65" width="16.08" height="1.79" fill="#a4a4ff"/><rect x="431.02" y="210.65" width="16.08" height="1.79" fill="#8a8aff"/><rect x="446.89" y="210.65" width="16.08" height="1.79" fill="#9292ff"/><rect x="462.77" y="210.65" width="16.08" height="1.79" fill="#8a8aff"/><rect x="478.65" y="210.65" width="16.08" height="1.79" fill="#aeaeff"/><rect x="494.52" y="210.65" width="16.08" height="1.79" fill="#a9a9ff"/><rect x="304.00" y="212.15" width="16.08" height="1.79" fill="#ff8686"/><rect x="319.88" y="212.15" width="16.08" height="1.79" fill="#ffdcdc"/><rect x="335.75" y="212.15" width="16.08" height="1.79" fill="#ff8080"/><rect x="351.63" y="212.15" width="16.08" height="1.79" fill="#ff9292"/><rect x="367.51" y="212.15" width="16.08" height="1.79" fill="#ffd1d1"/><rect x="383.38" y="212.15" width="16.08" height="1.79" fill="#ff8a8a"/><rect x="399.26" y="212.15" width="16.08" height="1.79" fill="#e5e5ff"/><rect x="415.14" y="212.15" width="16.08" height="1.79" fill="#a8a8ff"/><rect x="431.02" y="212.15" width="16.08" height="1.79" fill="#b8b8ff"/><rect x="446.89" y="212.15" width="16.08" height="1.79" fill="#b4b4ff"/><rect x="462.77" y="212.15" width="16.08" height="1.79" fill="#7c7cff"/><rect x="478.65" y="212.15" width="16.08" height="1.79" fill="#b1b1ff"/><rect x="494.52" y="212.15" width="16.08" height="1.79" fill="#9393ff"/><rect x="304.00" y="213.64" width="16.08" height="1.79" fill="#ffb3b3"/><rect x="319.88" y="213.64" width="16.08" height="1.79" fill="#ffadad"/><rect x="335.75" y="213.64" width="16.08" height="1.79" fill="#ff3c3c"/><rect x="351.63" y="213.64" width="16.08" height="1.79" fill="#ffd2d2"/><rect x="367.51" y="213.64" width="16.08" height="1.79" fill="#fcfcff"/><rect x="383.38" y="213.64" width="16.08" height="1.79" fill="#ffdada"/><rect x="399.26" y="213.64" width="16.08" height="1.79" fill="#acacff"/><rect x="415.14" y="213.64" width="16.08" height="1.79" fill="#dfdfff"/><rect x="431.02" y="213.64" width="16.08" height="1.79" fill="#cacaff"/><rect x="446.89" y="213.64" width="16.08" height="1.79" fill="#d7d7ff"/><rect x="462.77" y="213.64" width="16.08" height="1.79" fill="#babaff"/><rect x="478.65" y="213.64" width="16.08" height="1.79" fill="#c4c4ff"/><rect x="494.52" y="213.64" width="16.08" height="1.79" fill="#b5b5ff"/><rect x="304.00" y="215.14" width="16.08" height="1.79" fill="#ff8686"/><rect x="319.88" y="215.14" width="16.08" height="1.79" fill="#ffa7a7"/><rect x="335.75" y="215.14" width="16.08" height="1.79" fill="#ff5c5c"/><rect x="351.63" y="215.14" width="16.08" height="1.79" fill="#ffc9c9"/><rect x="367.51" y="215.14" width="16.08" height="1.79" fill="#babaff"/><rect x="383.38" y="215.14" width="16.08" height="1.79" fill="#ffeeee"/><rect x="399.26" y="215.14" width="16.08" height="1.79" fill="#bdbdff"/><rect x="415.14" y="215.14" width="16.08" height="1.79" fill="#b7b7ff"/><rect x="431.02" y="215.14" width="16.08" height="1.79" fill="#b5b5ff"/><rect x="446.89" y="215.14" width="16.08" height="1.79" fill="#a4a4ff"/><rect x="462.77" y="215.14" width="16.08" height="1.79" fill="#bcbcff"/><rect x="478.65" y="215.14" width="16.08" height="1.79" fill="#a7a7ff"/><rect x="494.52" y="215.14" width="16.08" height="1.79" fill="#b7b7ff"/><rect x="304.00" y="216.63" width="16.08" height="1.79" fill="#ff8080"/><rect x="319.88" y="216.63" width="16.08" height="1.79" fill="#ffbcbc"/><rect x="335.75" y="216.63" width="16.08" height="1.79" fill="#ff1616"/><rect x="351.63" y="216.63" width="16.08" height="1.79" fill="#ffb5b5"/><rect x="367.51" y="216.63" width="16.08" height="1.79" fill="#dcdcff"/><rect x="383.38" y="216.63" width="16.08" height="1.79" fill="#ffc4c4"/><rect x="399.26" y="216.63" width="16.08" height="1.79" fill="#bdbdff"/><rect x="415.14" y="216.63" width="16.08" height="1.79" fill="#babaff"/><rect x="431.02" y="216.63" width="16.08" height="1.79" fill="#9292ff"/><rect x="446.89" y="216.63" width="16.08" height="1.79" fill="#b1b1ff"/><rect x="462.77" y="216.63" width="16.08" height="1.79" fill="#c6c6ff"/><rect x="478.65" y="216.63" width="16.08" height="1.79" fill="#8888ff"/><rect x="494.52" y="216.63" width="16.08" height="1.79" fill="#aaaaff"/><rect x="304.00" y="218.13" width="16.08" height="1.79" fill="#ff9797"/><rect x="319.88" y="218.13" width="16.08" height="1.79" fill="#ffe5e5"/><rect x="335.75" y="218.13" width="16.08" height="1.79" fill="#ff8181"/><rect x="351.63" y="218.13" width="16.08" height="1.79" fill="#ffb8b8"/><rect x="367.51" y="218.13" width="16.08" height="1.79" fill="#ffebeb"/><rect x="383.38" y="218.13" width="16.08" height="1.79" fill="#fff8f8"/><rect x="399.26" y="218.13" width="16.08" height="1.79" fill="#8c8cff"/><rect x="415.14" y="218.13" width="16.08" height="1.79" fill="#ccccff"/><rect x="431.02" y="218.13" width="16.08" height="1.79" fill="#bebeff"/><rect x="446.89" y="218.13" width="16.08" height="1.79" fill="#c2c2ff"/><rect x="462.77" y="218.13" width="16.08" height="1.79" fill="#eeeeff"/><rect x="478.65" y="218.13" width="16.08" height="1.79" fill="#c9c9ff"/><rect x="494.52" y="218.13" width="16.08" height="1.79" fill="#b2b2ff"/><rect x="304.00" y="219.62" width="16.08" height="1.79" fill="#ffbbbb"/><rect x="319.88" y="219.62" width="16.08" height="1.79" fill="#ffd9d9"/><rect x="335.75" y="219.62" width="16.08" height="1.79" fill="#ff7474"/><rect x="351.63" y="219.62" width="16.08" height="1.79" fill="#ffdfdf"/><rect x="367.51" y="219.62" width="16.08" height="1.79" fill="#ffd0d0"/><rect x="383.38" y="219.62" width="16.08" height="1.79" fill="#f2f2ff"/><rect x="399.26" y="219.62" width="16.08" height="1.79" fill="#d4d4ff"/><rect x="415.14" y="219.62" width="16.08" height="1.79" fill="#c6c6ff"/><rect x="431.02" y="219.62" width="16.08" height="1.79" fill="#d7d7ff"/><rect x="446.89" y="219.62" width="16.08" height="1.79" fill="#c2c2ff"/><rect x="462.77" y="219.62" width="16.08" height="1.79" fill="#fff9f9"/><rect x="478.65" y="219.62" width="16.08" height="1.79" fill="#d3d3ff"/><rect x="494.52" y="219.62" width="16.08" height="1.79" fill="#cfcfff"/><rect x="304.00" y="221.12" width="16.08" height="1.79" fill="#ff8181"/><rect x="319.88" y="221.12" width="16.08" height="1.79" fill="#ffc4c4"/><rect x="335.75" y="221.12" width="16.08" height="1.79" fill="#ff8181"/><rect x="351.63" y="221.12" width="16.08" height="1.79" fill="#ffacac"/><rect x="367.51" y="221.12" width="16.08" height="1.79" fill="#ffd3d3"/><rect x="383.38" y="221.12" width="16.08" height="1.79" fill="#ffefef"/><rect x="399.26" y="221.12" width="16.08" height="1.79" fill="#8585ff"/><rect x="415.14" y="221.12" width="16.08" height="1.79" fill="#a6a6ff"/><rect x="431.02" y="221.12" width="16.08" height="1.79" fill="#9999ff"/><rect x="446.89" y="221.12" width="16.08" height="1.79" fill="#a2a2ff"/><rect x="462.77" y="221.12" width="16.08" height="1.79" fill="#ffbbbb"/><rect x="478.65" y="221.12" width="16.08" height="1.79" fill="#9696ff"/><rect x="494.52" y="221.12" width="16.08" height="1.79" fill="#a1a1ff"/><rect x="304.00" y="222.61" width="16.08" height="1.79" fill="#ffa8a8"/><rect x="319.88" y="222.61" width="16.08" height="1.79" fill="#ffdfdf"/><rect x="335.75" y="222.61" width="16.08" height="1.79" fill="#ff4949"/><rect x="351.63" y="222.61" width="16.08" height="1.79" fill="#ffa4a4"/><rect x="367.51" y="222.61" width="16.08" height="1.79" fill="#ffb6b6"/><rect x="383.38" y="222.61" width="16.08" height="1.79" fill="#f6f6ff"/><rect x="399.26" y="222.61" width="16.08" height="1.79" fill="#7979ff"/><rect x="415.14" y="222.61" width="16.08" height="1.79" fill="#a7a7ff"/><rect x="431.02" y="222.61" width="16.08" height="1.79" fill="#8989ff"/><rect x="446.89" y="222.61" width="16.08" height="1.79" fill="#9c9cff"/><rect x="462.77" y="222.61" width="16.08" height="1.79" fill="#ffb1b1"/><rect x="478.65" y="222.61" width="16.08" height="1.79" fill="#b0b0ff"/><rect x="494.52" y="222.61" width="16.08" height="1.79" fill="#babaff"/><rect x="304.00" y="224.11" width="16.08" height="1.79" fill="#7b7bff"/><rect x="319.88" y="224.11" width="16.08" height="1.79" fill="#c8c8ff"/><rect x="335.75" y="224.11" width="16.08" height="1.79" fill="#ddddff"/><rect x="351.63" y="224.11" width="16.08" height="1.79" fill="#c1c1ff"/><rect x="367.51" y="224.11" width="16.08" height="1.79" fill="#7d7dff"/><rect x="383.38" y="224.11" width="16.08" height="1.79" fill="#cdcdff"/><rect x="399.26" y="224.11" width="16.08" height="1.79" fill="#ffd4d4"/><rect x="415.14" y="224.11" width="16.08" height="1.79" fill="#ffa5a5"/><rect x="431.02" y="224.11" width="16.08" height="1.79" fill="#ffc7c7"/><rect x="446.89" y="224.11" width="16.08" height="1.79" fill="#ffb7b7"/><rect x="462.77" y="224.11" width="16.08" height="1.79" fill="#ffc7c7"/><rect x="478.65" y="224.11" width="16.08" height="1.79" fill="#ffbcbc"/><rect x="494.52" y="224.11" width="16.08" height="1.79" fill="#ffe3e3"/><rect x="304.00" y="225.60" width="16.08" height="1.79" fill="#9292ff"/><rect x="319.88" y="225.60" width="16.08" height="1.79" fill="#afafff"/><rect x="335.75" y="225.60" width="16.08" height="1.79" fill="#cdcdff"/><rect x="351.63" y="225.60" width="16.08" height="1.79" fill="#a2a2ff"/><rect x="367.51" y="225.60" width="16.08" height="1.79" fill="#8686ff"/><rect x="383.38" y="225.60" width="16.08" height="1.79" fill="#a8a8ff"/><rect x="399.26" y="225.60" width="16.08" height="1.79" fill="#ffc9c9"/><rect x="415.14" y="225.60" width="16.08" height="1.79" fill="#ff8181"/><rect x="431.02" y="225.60" width="16.08" height="1.79" fill="#ffb3b3"/><rect x="446.89" y="225.60" width="16.08" height="1.79" fill="#ff8484"/><rect x="462.77" y="225.60" width="16.08" height="1.79" fill="#ffa9a9"/><rect x="478.65" y="225.60" width="16.08" height="1.79" fill="#ff9191"/><rect x="494.52" y="225.60" width="16.08" height="1.79" fill="#ffa2a2"/><rect x="304.00" y="227.09" width="16.08" height="1.79" fill="#7272ff"/><rect x="319.88" y="227.09" width="16.08" height="1.79" fill="#9a9aff"/><rect x="335.75" y="227.09" width="16.08" height="1.79" fill="#9393ff"/><rect x="351.63" y="227.09" width="16.08" height="1.79" fill="#a6a6ff"/><rect x="367.51" y="227.09" width="16.08" height="1.79" fill="#9191ff"/><rect x="383.38" y="227.09" width="16.08" height="1.79" fill="#a7a7ff"/><rect x="399.26" y="227.09" width="16.08" height="1.79" fill="#ffbaba"/><rect x="415.14" y="227.09" width="16.08" height="1.79" fill="#ff9393"/><rect x="431.02" y="227.09" width="16.08" height="1.79" fill="#ff9898"/><rect x="446.89" y="227.09" width="16.08" height="1.79" fill="#ffb9b9"/><rect x="462.77" y="227.09" width="16.08" height="1.79" fill="#ffa0a0"/><rect x="478.65" y="227.09" width="16.08" height="1.79" fill="#ff9898"/><rect x="494.52" y="227.09" width="16.08" height="1.79" fill="#ffb2b2"/><rect x="304.00" y="228.59" width="16.08" height="1.79" fill="#6c6cff"/><rect x="319.88" y="228.59" width="16.08" height="1.79" fill="#e7e7ff"/><rect x="335.75" y="228.59" width="16.08" height="1.79" fill="#ebebff"/><rect x="351.63" y="228.59" width="16.08" height="1.79" fill="#c7c7ff"/><rect x="367.51" y="228.59" width="16.08" height="1.79" fill="#b5b5ff"/><rect x="383.38" y="228.59" width="16.08" height="1.79" fill="#ceceff"/><rect x="399.26" y="228.59" width="16.08" height="1.79" fill="#ffd5d5"/><rect x="415.14" y="228.59" width="16.08" height="1.79" fill="#ffcece"/><rect x="431.02" y="228.59" width="16.08" height="1.79" fill="#ffcbcb"/><rect x="446.89" y="228.59" width="16.08" height="1.79" fill="#ffbcbc"/><rect x="462.77" y="228.59" width="16.08" height="1.79" fill="#c3c3ff"/><rect x="478.65" y="228.59" width="16.08" height="1.79" fill="#ffb7b7"/><rect x="494.52" y="228.59" width="16.08" height="1.79" fill="#ffd9d9"/><rect x="304.00" y="230.08" width="16.08" height="1.79" fill="#5050ff"/><rect x="319.88" y="230.08" width="16.08" height="1.79" fill="#dbdbff"/><rect x="335.75" y="230.08" width="16.08" height="1.79" fill="#b0b0ff"/><rect x="351.63" y="230.08" width="16.08" height="1.79" fill="#c8c8ff"/><rect x="367.51" y="230.08" width="16.08" height="1.79" fill="#8585ff"/><rect x="383.38" y="230.08" width="16.08" height="1.79" fill="#a4a4ff"/><rect x="399.26" y="230.08" width="16.08" height="1.79" fill="#ffa2a2"/><rect x="415.14" y="230.08" width="16.08" height="1.79" fill="#ff9191"/><rect x="431.02" y="230.08" width="16.08" height="1.79" fill="#ffa3a3"/><rect x="446.89" y="230.08" width="16.08" height="1.79" fill="#ff9c9c"/><rect x="462.77" y="230.08" width="16.08" height="1.79" fill="#9090ff"/><rect x="478.65" y="230.08" width="16.08" height="1.79" fill="#ffadad"/><rect x="494.52" y="230.08" width="16.08" height="1.79" fill="#ffaeae"/><rect x="304.00" y="231.58" width="16.08" height="1.79" fill="#8a8aff"/><rect x="319.88" y="231.58" width="16.08" height="1.79" fill="#c9c9ff"/><rect x="335.75" y="231.58" width="16.08" height="1.79" fill="#cacaff"/><rect x="351.63" y="231.58" width="16.08" height="1.79" fill="#d0d0ff"/><rect x="367.51" y="231.58" width="16.08" height="1.79" fill="#7b7bff"/><rect x="383.38" y="231.58" width="16.08" height="1.79" fill="#cbcbff"/><rect x="399.26" y="231.58" width="16.08" height="1.79" fill="#ffb1b1"/><rect x="415.14" y="231.58" width="16.08" height="1.79" fill="#ffafaf"/><rect x="431.02" y="231.58" width="16.08" height="1.79" fill="#ffd3d3"/><rect x="446.89" y="231.58" width="16.08" height="1.79" fill="#ffe9e9"/><rect x="462.77" y="231.58" width="16.08" height="1.79" fill="#c2c2ff"/><rect x="478.65" y="231.58" width="16.08" height="1.79" fill="#ff9999"/><rect x="494.52" y="231.58" width="16.08" height="1.79" fill="#ffacac"/><rect x="304.00" y="233.07" width="16.08" height="1.79" fill="#8585ff"/><rect x="319.88" y="233.07" width="16.08" height="1.79" fill="#d7d7ff"/><rect x="335.75" y="233.07" width="16.08" height="1.79" fill="#b7b7ff"/><rect x="351.63" y="233.07" width="16.08" height="1.79" fill="#e2e2ff"/><rect x="367.51" y="233.07" width="16.08" height="1.79" fill="#9d9dff"/><rect x="383.38" y="233.07" width="16.08" height="1.79" fill="#8787ff"/><rect x="399.26" y="233.07" width="16.08" height="1.79" fill="#ffbcbc"/><rect x="415.14" y="233.07" width="16.08" height="1.79" fill="#ffb7b7"/><rect x="431.02" y="233.07" width="16.08" height="1.79" fill="#ffa9a9"/><rect x="446.89" y="233.07" width="16.08" height="1.79" fill="#ff8e8e"/><rect x="462.77" y="233.07" width="16.08" height="1.79" fill="#9191ff"/><rect x="478.65" y="233.07" width="16.08" height="1.79" fill="#ffc4c4"/><rect x="494.52" y="233.07" width="16.08" height="1.79" fill="#ff7f7f"/><rect x="304.00" y="234.57" width="16.08" height="1.79" fill="#9999ff"/><rect x="319.88" y="234.57" width="16.08" height="1.79" fill="#9393ff"/><rect x="335.75" y="234.57" width="16.08" height="1.79" fill="#d0d0ff"/><rect x="351.63" y="234.57" width="16.08" height="1.79" fill="#fff3f3"/><rect x="367.51" y="234.57" width="16.08" height="1.79" fill="#9797ff"/><rect x="383.38" y="234.57" width="16.08" height="1.79" fill="#a9a9ff"/><rect x="399.26" y="234.57" width="16.08" height="1.79" fill="#ffa8a8"/><rect x="415.14" y="234.57" width="16.08" height="1.79" fill="#ffb1b1"/><rect x="431.02" y="234.57" width="16.08" height="1.79" fill="#ffb3b3"/><rect x="446.89" y="234.57" width="16.08" height="1.79" fill="#ff9999"/><rect x="462.77" y="234.57" width="16.08" height="1.79" fill="#fcfcff"/><rect x="478.65" y="234.57" width="16.08" height="1.79" fill="#ffbdbd"/><rect x="494.52" y="234.57" width="16.08" height="1.79" fill="#ff9292"/><rect x="304.00" y="236.06" width="16.08" height="1.79" fill="#9292ff"/><rect x="319.88" y="236.06" width="16.08" height="1.79" fill="#bebeff"/><rect x="335.75" y="236.06" width="16.08" height="1.79" fill="#e6e6ff"/><rect x="351.63" y="236.06" width="16.08" height="1.79" fill="#fffbfb"/><rect x="367.51" y="236.06" width="16.08" height="1.79" fill="#7070ff"/><rect x="383.38" y="236.06" width="16.08" height="1.79" fill="#c0c0ff"/><rect x="399.26" y="236.06" width="16.08" height="1.79" fill="#ff9595"/><rect x="415.14" y="236.06" width="16.08" height="1.79" fill="#ffc3c3"/><rect x="431.02" y="236.06" width="16.08" height="1.79" fill="#ffc9c9"/><rect x="446.89" y="236.06" width="16.08" height="1.79" fill="#ffa0a0"/><rect x="462.77" y="236.06" width="16.08" height="1.79" fill="#ffdfdf"/><rect x="478.65" y="236.06" width="16.08" height="1.79" fill="#ffa1a1"/><rect x="494.52" y="236.06" width="16.08" height="1.79" fill="#ffc7c7"/><rect x="304.00" y="237.56" width="16.08" height="1.79" fill="#9595ff"/><rect x="319.88" y="237.56" width="16.08" height="1.79" fill="#cacaff"/><rect x="335.75" y="237.56" width="16.08" height="1.79" fill="#fffbfb"/><rect x="351.63" y="237.56" width="16.08" height="1.79" fill="#e4e4ff"/><rect x="367.51" y="237.56" width="16.08" height="1.79" fill="#9a9aff"/><rect x="383.38" y="237.56" width="16.08" height="1.79" fill="#d2d2ff"/><rect x="399.26" y="237.56" width="16.08" height="1.79" fill="#ffe5e5"/><rect x="415.14" y="237.56" width="16.08" height="1.79" fill="#ffd3d3"/><rect x="431.02" y="237.56" width="16.08" height="1.79" fill="#ffd9d9"/><rect x="446.89" y="237.56" width="16.08" height="1.79" fill="#ffcdcd"/><rect x="462.77" y="237.56" width="16.08" height="1.79" fill="#fff2f2"/><rect x="478.65" y="237.56" width="16.08" height="1.79" fill="#ffacac"/><rect x="494.52" y="237.56" width="16.08" height="1.79" fill="#ffc6c6"/><rect x="304.00" y="239.05" width="16.08" height="1.79" fill="#7979ff"/><rect x="319.88" y="239.05" width="16.08" height="1.79" fill="#aeaeff"/><rect x="335.75" y="239.05" width="16.08" height="1.79" fill="#b8b8ff"/><rect x="351.63" y="239.05" width="16.08" height="1.79" fill="#a1a1ff"/><rect x="367.51" y="239.05" width="16.08" height="1.79" fill="#8c8cff"/><rect x="383.38" y="239.05" width="16.08" height="1.79" fill="#dadaff"/><rect x="399.26" y="239.05" width="16.08" height="1.79" fill="#ffd2d2"/><rect x="415.14" y="239.05" width="16.08" height="1.79" fill="#ffa3a3"/><rect x="431.02" y="239.05" width="16.08" height="1.79" fill="#ff9191"/><rect x="446.89" y="239.05" width="16.08" height="1.79" fill="#ffa7a7"/><rect x="462.77" y="239.05" width="16.08" height="1.79" fill="#ffc9c9"/><rect x="478.65" y="239.05" width="16.08" height="1.79" fill="#ffadad"/><rect x="494.52" y="239.05" width="16.08" height="1.79" fill="#ffa0a0"/><rect x="304.00" y="240.55" width="16.08" height="1.79" fill="#8282ff"/><rect x="319.88" y="240.55" width="16.08" height="1.79" fill="#eaeaff"/><rect x="335.75" y="240.55" width="16.08" height="1.79" fill="#a8a8ff"/><rect x="351.63" y="240.55" width="16.08" height="1.79" fill="#ddddff"/><rect x="367.51" y="240.55" width="16.08" height="1.79" fill="#a0a0ff"/><rect x="383.38" y="240.55" width="16.08" height="1.79" fill="#e3e3ff"/><rect x="399.26" y="240.55" width="16.08" height="1.79" fill="#fff3f3"/><rect x="415.14" y="240.55" width="16.08" height="1.79" fill="#ff9494"/><rect x="431.02" y="240.55" width="16.08" height="1.79" fill="#ff8f8f"/><rect x="446.89" y="240.55" width="16.08" height="1.79" fill="#ffafaf"/><rect x="462.77" y="240.55" width="16.08" height="1.79" fill="#ffefef"/><rect x="478.65" y="240.55" width="16.08" height="1.79" fill="#ff6d6d"/><rect x="494.52" y="240.55" width="16.08" height="1.79" fill="#ffb5b5"/><rect x="304.00" y="242.04" width="16.08" height="1.79" fill="#8585ff"/><rect x="319.88" y="242.04" width="16.08" height="1.79" fill="#ceceff"/><rect x="335.75" y="242.04" width="16.08" height="1.79" fill="#bfbfff"/><rect x="351.63" y="242.04" width="16.08" height="1.79" fill="#bcbcff"/><rect x="367.51" y="242.04" width="16.08" height="1.79" fill="#b5b5ff"/><rect x="383.38" y="242.04" width="16.08" height="1.79" fill="#bebeff"/><rect x="399.26" y="242.04" width="16.08" height="1.79" fill="#ffd4d4"/><rect x="415.14" y="242.04" width="16.08" height="1.79" fill="#ff8d8d"/><rect x="431.02" y="242.04" width="16.08" height="1.79" fill="#ffc0c0"/><rect x="446.89" y="242.04" width="16.08" height="1.79" fill="#ff9696"/><rect x="462.77" y="242.04" width="16.08" height="1.79" fill="#ffc6c6"/><rect x="478.65" y="242.04" width="16.08" height="1.79" fill="#ffbaba"/><rect x="494.52" y="242.04" width="16.08" height="1.79" fill="#ffcece"/><rect x="304.00" y="243.54" width="16.08" height="1.79" fill="#7474ff"/><rect x="319.88" y="243.54" width="16.08" height="1.79" fill="#c9c9ff"/><rect x="335.75" y="243.54" width="16.08" height="1.79" fill="#9a9aff"/><rect x="351.63" y="243.54" width="16.08" height="1.79" fill="#cacaff"/><rect x="367.51" y="243.54" width="16.08" height="1.79" fill="#c4c4ff"/><rect x="383.38" y="243.54" width="16.08" height="1.79" fill="#9f9fff"/><rect x="399.26" y="243.54" width="16.08" height="1.79" fill="#fff9f9"/><rect x="415.14" y="243.54" width="16.08" height="1.79" fill="#ffcdcd"/><rect x="431.02" y="243.54" width="16.08" height="1.79" fill="#ff9696"/><rect x="446.89" y="243.54" width="16.08" height="1.79" fill="#ffc2c2"/><rect x="462.77" y="243.54" width="16.08" height="1.79" fill="#f9f9ff"/><rect x="478.65" y="243.54" width="16.08" height="1.79" fill="#ffbfbf"/><rect x="494.52" y="243.54" width="16.08" height="1.79" fill="#ffb5b5"/><rect x="304.00" y="245.03" width="16.08" height="1.79" fill="#9191ff"/><rect x="319.88" y="245.03" width="16.08" height="1.79" fill="#acacff"/><rect x="335.75" y="245.03" width="16.08" height="1.79" fill="#b9b9ff"/><rect x="351.63" y="245.03" width="16.08" height="1.79" fill="#9f9fff"/><rect x="367.51" y="245.03" width="16.08" height="1.79" fill="#9f9fff"/><rect x="383.38" y="245.03" width="16.08" height="1.79" fill="#9090ff"/><rect x="399.26" y="245.03" width="16.08" height="1.79" fill="#fff4f4"/><rect x="415.14" y="245.03" width="16.08" height="1.79" fill="#ff7676"/><rect x="431.02" y="245.03" width="16.08" height="1.79" fill="#ff9c9c"/><rect x="446.89" y="245.03" width="16.08" height="1.79" fill="#ffc4c4"/><rect x="462.77" y="245.03" width="16.08" height="1.79" fill="#fff1f1"/><rect x="478.65" y="245.03" width="16.08" height="1.79" fill="#ffcbcb"/><rect x="494.52" y="245.03" width="16.08" height="1.79" fill="#ffd9d9"/><rect x="304.00" y="246.52" width="16.08" height="1.79" fill="#a5a5ff"/><rect x="319.88" y="246.52" width="16.08" height="1.79" fill="#c4c4ff"/><rect x="335.75" y="246.52" width="16.08" height="1.79" fill="#babaff"/><rect x="351.63" y="246.52" width="16.08" height="1.79" fill="#a9a9ff"/><rect x="367.51" y="246.52" width="16.08" height="1.79" fill="#8c8cff"/><rect x="383.38" y="246.52" width="16.08" height="1.79" fill="#d7d7ff"/><rect x="399.26" y="246.52" width="16.08" height="1.79" fill="#ffeaea"/><rect x="415.14" y="246.52" width="16.08" height="1.79" fill="#ffb6b6"/><rect x="431.02" y="246.52" width="16.08" height="1.79" fill="#ffcdcd"/><rect x="446.89" y="246.52" width="16.08" height="1.79" fill="#ffcbcb"/><rect x="462.77" y="246.52" width="16.08" height="1.79" fill="#ffc9c9"/><rect x="478.65" y="246.52" width="16.08" height="1.79" fill="#ffd3d3"/><rect x="494.52" y="246.52" width="16.08" height="1.79" fill="#ffbdbd"/><rect x="304.00" y="248.02" width="16.08" height="1.79" fill="#8686ff"/><rect x="319.88" y="248.02" width="16.08" height="1.79" fill="#aaaaff"/><rect x="335.75" y="248.02" width="16.08" height="1.79" fill="#9494ff"/><rect x="351.63" y="248.02" width="16.08" height="1.79" fill="#9a9aff"/><rect x="367.51" y="248.02" width="16.08" height="1.79" fill="#b9b9ff"/><rect x="383.38" y="248.02" width="16.08" height="1.79" fill="#a0a0ff"/><rect x="399.26" y="248.02" width="16.08" height="1.79" fill="#ffd2d2"/><rect x="415.14" y="248.02" width="16.08" height="1.79" fill="#ffb9b9"/><rect x="431.02" y="248.02" width="16.08" height="1.79" fill="#ff9c9c"/><rect x="446.89" y="248.02" width="16.08" height="1.79" fill="#ff9e9e"/><rect x="462.77" y="248.02" width="16.08" height="1.79" fill="#ffdada"/><rect x="478.65" y="248.02" width="16.08" height="1.79" fill="#ffc7c7"/><rect x="494.52" y="248.02" width="16.08" height="1.79" fill="#ffa4a4"/><rect x="304.00" y="249.51" width="16.08" height="1.79" fill="#6c6cff"/><rect x="319.88" y="249.51" width="16.08" height="1.79" fill="#eaeaff"/><rect x="335.75" y="249.51" width="16.08" height="1.79" fill="#9b9bff"/><rect x="351.63" y="249.51" width="16.08" height="1.79" fill="#9d9dff"/><rect x="367.51" y="249.51" width="16.08" height="1.79" fill="#7a7aff"/><rect x="383.38" y="249.51" width="16.08" height="1.79" fill="#8383ff"/><rect x="399.26" y="249.51" width="16.08" height="1.79" fill="#ffc9c9"/><rect x="415.14" y="249.51" width="16.08" height="1.79" fill="#ffb5b5"/><rect x="431.02" y="249.51" width="16.08" height="1.79" fill="#ffbfbf"/><rect x="446.89" y="249.51" width="16.08" height="1.79" fill="#ffb6b6"/><rect x="462.77" y="249.51" width="16.08" height="1.79" fill="#ffd1d1"/><rect x="478.65" y="249.51" width="16.08" height="1.79" fill="#ffa9a9"/><rect x="494.52" y="249.51" width="16.08" height="1.79" fill="#ff8787"/><rect x="304.00" y="251.01" width="16.08" height="1.79" fill="#7474ff"/><rect x="319.88" y="251.01" width="16.08" height="1.79" fill="#ffeaea"/><rect x="335.75" y="251.01" width="16.08" height="1.79" fill="#c9c9ff"/><rect x="351.63" y="251.01" width="16.08" height="1.79" fill="#d5d5ff"/><rect x="367.51" y="251.01" width="16.08" height="1.79" fill="#7d7dff"/><rect x="383.38" y="251.01" width="16.08" height="1.79" fill="#dedeff"/><rect x="399.26" y="251.01" width="16.08" height="1.79" fill="#ffd5d5"/><rect x="415.14" y="251.01" width="16.08" height="1.79" fill="#ffa7a7"/><rect x="431.02" y="251.01" width="16.08" height="1.79" fill="#ffb4b4"/><rect x="446.89" y="251.01" width="16.08" height="1.79" fill="#ffa9a9"/><rect x="462.77" y="251.01" width="16.08" height="1.79" fill="#fcfcff"/><rect x="478.65" y="251.01" width="16.08" height="1.79" fill="#ffc8c8"/><rect x="494.52" y="251.01" width="16.08" height="1.79" fill="#ffd3d3"/><rect x="304.00" y="252.50" width="16.08" height="1.79" fill="#6262ff"/><rect x="319.88" y="252.50" width="16.08" height="1.79" fill="#c1c1ff"/><rect x="335.75" y="252.50" width="16.08" height="1.79" fill="#9191ff"/><rect x="351.63" y="252.50" width="16.08" height="1.79" fill="#9b9bff"/><rect x="367.51" y="252.50" width="16.08" height="1.79" fill="#5757ff"/><rect x="383.38" y="252.50" width="16.08" height="1.79" fill="#ababff"/><rect x="399.26" y="252.50" width="16.08" height="1.79" fill="#ffcaca"/><rect x="415.14" y="252.50" width="16.08" height="1.79" fill="#ffa2a2"/><rect x="431.02" y="252.50" width="16.08" height="1.79" fill="#ffabab"/><rect x="446.89" y="252.50" width="16.08" height="1.79" fill="#ffa3a3"/><rect x="462.77" y="252.50" width="16.08" height="1.79" fill="#ffe0e0"/><rect x="478.65" y="252.50" width="16.08" height="1.79" fill="#ff9595"/><rect x="494.52" y="252.50" width="16.08" height="1.79" fill="#ff9292"/><rect x="304.00" y="254.00" width="16.08" height="1.79" fill="#4242ff"/><rect x="319.88" y="254.00" width="16.08" height="1.79" fill="#a3a3ff"/><rect x="335.75" y="254.00" width="16.08" height="1.79" fill="#9e9eff"/><rect x="351.63" y="254.00" width="16.08" height="1.79" fill="#b1b1ff"/><rect x="367.51" y="254.00" width="16.08" height="1.79" fill="#7474ff"/><rect x="383.38" y="254.00" width="16.08" height="1.79" fill="#acacff"/><rect x="399.26" y="254.00" width="16.08" height="1.79" fill="#ffcece"/><rect x="415.14" y="254.00" width="16.08" height="1.79" fill="#ffb5b5"/><rect x="431.02" y="254.00" width="16.08" height="1.79" fill="#ff9a9a"/><rect x="446.89" y="254.00" width="16.08" height="1.79" fill="#ffb7b7"/><rect x="462.77" y="254.00" width="16.08" height="1.79" fill="#e8e8ff"/><rect x="478.65" y="254.00" width="16.08" height="1.79" fill="#ffcccc"/><rect x="494.52" y="254.00" width="16.08" height="1.79" fill="#ffd3d3"/><rect x="304.00" y="255.49" width="16.08" height="1.79" fill="#6c6cff"/><rect x="319.88" y="255.49" width="16.08" height="1.79" fill="#adadff"/><rect x="335.75" y="255.49" width="16.08" height="1.79" fill="#a5a5ff"/><rect x="351.63" y="255.49" width="16.08" height="1.79" fill="#a0a0ff"/><rect x="367.51" y="255.49" width="16.08" height="1.79" fill="#7171ff"/><rect x="383.38" y="255.49" width="16.08" height="1.79" fill="#c3c3ff"/><rect x="399.26" y="255.49" width="16.08" height="1.79" fill="#ffc7c7"/><rect x="415.14" y="255.49" width="16.08" height="1.79" fill="#ff8f8f"/><rect x="431.02" y="255.49" width="16.08" height="1.79" fill="#ffa1a1"/><rect x="446.89" y="255.49" width="16.08" height="1.79" fill="#ffcbcb"/><rect x="462.77" y="255.49" width="16.08" height="1.79" fill="#afafff"/><rect x="478.65" y="255.49" width="16.08" height="1.79" fill="#ff8c8c"/><rect x="494.52" y="255.49" width="16.08" height="1.79" fill="#ffa6a6"/><rect x="304.00" y="256.99" width="16.08" height="1.79" fill="#7d7dff"/><rect x="319.88" y="256.99" width="16.08" height="1.79" fill="#afafff"/><rect x="335.75" y="256.99" width="16.08" height="1.79" fill="#acacff"/><rect x="351.63" y="256.99" width="16.08" height="1.79" fill="#adadff"/><rect x="367.51" y="256.99" width="16.08" height="1.79" fill="#a1a1ff"/><rect x="383.38" y="256.99" width="16.08" height="1.79" fill="#e3e3ff"/><rect x="399.26" y="256.99" width="16.08" height="1.79" fill="#ffd0d0"/><rect x="415.14" y="256.99" width="16.08" height="1.79" fill="#ff9191"/><rect x="431.02" y="256.99" width="16.08" height="1.79" fill="#ff9393"/><rect x="446.89" y="256.99" width="16.08" height="1.79" fill="#ff9595"/><rect x="462.77" y="256.99" width="16.08" height="1.79" fill="#f3f3ff"/><rect x="478.65" y="256.99" width="16.08" height="1.79" fill="#ffb5b5"/><rect x="494.52" y="256.99" width="16.08" height="1.79" fill="#ffb5b5"/><rect x="304.00" y="258.48" width="16.08" height="1.79" fill="#7f7fff"/><rect x="319.88" y="258.48" width="16.08" height="1.79" fill="#b3b3ff"/><rect x="335.75" y="258.48" width="16.08" height="1.79" fill="#a7a7ff"/><rect x="351.63" y="258.48" width="16.08" height="1.79" fill="#d6d6ff"/><rect x="367.51" y="258.48" width="16.08" height="1.79" fill="#9999ff"/><rect x="383.38" y="258.48" width="16.08" height="1.79" fill="#ababff"/><rect x="399.26" y="258.48" width="16.08" height="1.79" fill="#ffe8e8"/><rect x="415.14" y="258.48" width="16.08" height="1.79" fill="#ffa9a9"/><rect x="431.02" y="258.48" width="16.08" height="1.79" fill="#ffbdbd"/><rect x="446.89" y="258.48" width="16.08" height="1.79" fill="#ffcaca"/><rect x="462.77" y="258.48" width="16.08" height="1.79" fill="#eaeaff"/><rect x="478.65" y="258.48" width="16.08" height="1.79" fill="#ffe2e2"/><rect x="494.52" y="258.48" width="16.08" height="1.79" fill="#ffa9a9"/><rect x="304.00" y="259.98" width="16.08" height="1.79" fill="#c2c2ff"/><rect x="319.88" y="259.98" width="16.08" height="1.79" fill="#b3b3ff"/><rect x="335.75" y="259.98" width="16.08" height="1.79" fill="#b0b0ff"/><rect x="351.63" y="259.98" width="16.08" height="1.79" fill="#d1d1ff"/><rect x="367.51" y="259.98" width="16.08" height="1.79" fill="#9090ff"/><rect x="383.38" y="259.98" width="16.08" height="1.79" fill="#b7b7ff"/><rect x="399.26" y="259.98" width="16.08" height="1.79" fill="#ffc8c8"/><rect x="415.14" y="259.98" width="16.08" height="1.79" fill="#ffb3b3"/><rect x="431.02" y="259.98" width="16.08" height="1.79" fill="#ff9595"/><rect x="446.89" y="259.98" width="16.08" height="1.79" fill="#ff9f9f"/><rect x="462.77" y="259.98" width="16.08" height="1.79" fill="#ffdbdb"/><rect x="478.65" y="259.98" width="16.08" height="1.79" fill="#ffbaba"/><rect x="494.52" y="259.98" width="16.08" height="1.79" fill="#ffb3b3"/><rect x="304.00" y="261.47" width="16.08" height="1.79" fill="#ababff"/><rect x="319.88" y="261.47" width="16.08" height="1.79" fill="#a1a1ff"/><rect x="335.75" y="261.47" width="16.08" height="1.79" fill="#c9c9ff"/><rect x="351.63" y="261.47" width="16.08" height="1.79" fill="#d4d4ff"/><rect x="367.51" y="261.47" width="16.08" height="1.79" fill="#b4b4ff"/><rect x="383.38" y="261.47" width="16.08" height="1.79" fill="#ababff"/><rect x="399.26" y="261.47" width="16.08" height="1.79" fill="#ffb4b4"/><rect x="415.14" y="261.47" width="16.08" height="1.79" fill="#ffc0c0"/><rect x="431.02" y="261.47" width="16.08" height="1.79" fill="#ffcdcd"/><rect x="446.89" y="261.47" width="16.08" height="1.79" fill="#ffd9d9"/><rect x="462.77" y="261.47" width="16.08" height="1.79" fill="#ffdcdc"/><rect x="478.65" y="261.47" width="16.08" height="1.79" fill="#ff9c9c"/><rect x="494.52" y="261.47" width="16.08" height="1.79" fill="#ffcaca"/><rect x="304.00" y="262.97" width="16.08" height="1.79" fill="#8f8fff"/><rect x="319.88" y="262.97" width="16.08" height="1.79" fill="#efefff"/><rect x="335.75" y="262.97" width="16.08" height="1.79" fill="#d1d1ff"/><rect x="351.63" y="262.97" width="16.08" height="1.79" fill="#b1b1ff"/><rect x="367.51" y="262.97" width="16.08" height="1.79" fill="#7171ff"/><rect x="383.38" y="262.97" width="16.08" height="1.79" fill="#aeaeff"/><rect x="399.26" y="262.97" width="16.08" height="1.79" fill="#ffb1b1"/><rect x="415.14" y="262.97" width="16.08" height="1.79" fill="#ff8989"/><rect x="431.02" y="262.97" width="16.08" height="1.79" fill="#ffc2c2"/><rect x="446.89" y="262.97" width="16.08" height="1.79" fill="#ffcaca"/><rect x="462.77" y="262.97" width="16.08" height="1.79" fill="#fefeff"/><rect x="478.65" y="262.97" width="16.08" height="1.79" fill="#ffe3e3"/><rect x="494.52" y="262.97" width="16.08" height="1.79" fill="#ffaaaa"/><rect x="304.00" y="264.46" width="16.08" height="1.79" fill="#b0b0ff"/><rect x="319.88" y="264.46" width="16.08" height="1.79" fill="#9e9eff"/><rect x="335.75" y="264.46" width="16.08" height="1.79" fill="#a6a6ff"/><rect x="351.63" y="264.46" width="16.08" height="1.79" fill="#c6c6ff"/><rect x="367.51" y="264.46" width="16.08" height="1.79" fill="#8b8bff"/><rect x="383.38" y="264.46" width="16.08" height="1.79" fill="#d0d0ff"/><rect x="399.26" y="264.46" width="16.08" height="1.79" fill="#ffcdcd"/><rect x="415.14" y="264.46" width="16.08" height="1.79" fill="#ffcccc"/><rect x="431.02" y="264.46" width="16.08" height="1.79" fill="#ffb4b4"/><rect x="446.89" y="264.46" width="16.08" height="1.79" fill="#ffafaf"/><rect x="462.77" y="264.46" width="16.08" height="1.79" fill="#e6e6ff"/><rect x="478.65" y="264.46" width="16.08" height="1.79" fill="#ff9b9b"/><rect x="494.52" y="264.46" width="16.08" height="1.79" fill="#ffb6b6"/><rect x="304.00" y="265.95" width="16.08" height="1.79" fill="#8383ff"/><rect x="319.88" y="265.95" width="16.08" height="1.79" fill="#9a9aff"/><rect x="335.75" y="265.95" width="16.08" height="1.79" fill="#aeaeff"/><rect x="351.63" y="265.95" width="16.08" height="1.79" fill="#ccccff"/><rect x="367.51" y="265.95" width="16.08" height="1.79" fill="#8b8bff"/><rect x="383.38" y="265.95" width="16.08" height="1.79" fill="#9797ff"/><rect x="399.26" y="265.95" width="16.08" height="1.79" fill="#ffd2d2"/><rect x="415.14" y="265.95" width="16.08" height="1.79" fill="#ff9494"/><rect x="431.02" y="265.95" width="16.08" height="1.79" fill="#ffa2a2"/><rect x="446.89" y="265.95" width="16.08" height="1.79" fill="#ffa5a5"/><rect x="462.77" y="265.95" width="16.08" height="1.79" fill="#9d9dff"/><rect x="478.65" y="265.95" width="16.08" height="1.79" fill="#ff9e9e"/><rect x="494.52" y="265.95" width="16.08" height="1.79" fill="#ff9595"/><rect x="304.00" y="267.45" width="16.08" height="1.79" fill="#a4a4ff"/><rect x="319.88" y="267.45" width="16.08" height="1.79" fill="#9292ff"/><rect x="335.75" y="267.45" width="16.08" height="1.79" fill="#a4a4ff"/><rect x="351.63" y="267.45" width="16.08" height="1.79" fill="#a9a9ff"/><rect x="367.51" y="267.45" width="16.08" height="1.79" fill="#adadff"/><rect x="383.38" y="267.45" width="16.08" height="1.79" fill="#a9a9ff"/><rect x="399.26" y="267.45" width="16.08" height="1.79" fill="#ff8888"/><rect x="415.14" y="267.45" width="16.08" height="1.79" fill="#ff8b8b"/><rect x="431.02" y="267.45" width="16.08" height="1.79" fill="#ffc0c0"/><rect x="446.89" y="267.45" width="16.08" height="1.79" fill="#ff6464"/><rect x="462.77" y="267.45" width="16.08" height="1.79" fill="#bdbdff"/><rect x="478.65" y="267.45" width="16.08" height="1.79" fill="#ffa8a8"/><rect x="494.52" y="267.45" width="16.08" height="1.79" fill="#ffc5c5"/><rect x="304.00" y="268.94" width="16.08" height="1.79" fill="#b5b5ff"/><rect x="319.88" y="268.94" width="16.08" height="1.79" fill="#ddddff"/><rect x="335.75" y="268.94" width="16.08" height="1.79" fill="#c7c7ff"/><rect x="351.63" y="268.94" width="16.08" height="1.79" fill="#bcbcff"/><rect x="367.51" y="268.94" width="16.08" height="1.79" fill="#ceceff"/><rect x="383.38" y="268.94" width="16.08" height="1.79" fill="#cfcfff"/><rect x="399.26" y="268.94" width="16.08" height="1.79" fill="#ffbebe"/><rect x="415.14" y="268.94" width="16.08" height="1.79" fill="#ffa3a3"/><rect x="431.02" y="268.94" width="16.08" height="1.79" fill="#ffaeae"/><rect x="446.89" y="268.94" width="16.08" height="1.79" fill="#ffb5b5"/><rect x="462.77" y="268.94" width="16.08" height="1.79" fill="#dedeff"/><rect x="478.65" y="268.94" width="16.08" height="1.79" fill="#ffdede"/><rect x="494.52" y="268.94" width="16.08" height="1.79" fill="#ffc9c9"/><rect x="304.00" y="270.44" width="16.08" height="1.79" fill="#6969ff"/><rect x="319.88" y="270.44" width="16.08" height="1.79" fill="#fffafa"/><rect x="335.75" y="270.44" width="16.08" height="1.79" fill="#c9c9ff"/><rect x="351.63" y="270.44" width="16.08" height="1.79" fill="#fff7f7"/><rect x="367.51" y="270.44" width="16.08" height="1.79" fill="#8282ff"/><rect x="383.38" y="270.44" width="16.08" height="1.79" fill="#d9d9ff"/><rect x="399.26" y="270.44" width="16.08" height="1.79" fill="#ffe2e2"/><rect x="415.14" y="270.44" width="16.08" height="1.79" fill="#ffb3b3"/><rect x="431.02" y="270.44" width="16.08" height="1.79" fill="#ffbbbb"/><rect x="446.89" y="270.44" width="16.08" height="1.79" fill="#ffa8a8"/><rect x="462.77" y="270.44" width="16.08" height="1.79" fill="#7d7dff"/><rect x="478.65" y="270.44" width="16.08" height="1.79" fill="#ff6767"/><rect x="494.52" y="270.44" width="16.08" height="1.79" fill="#ffa3a3"/><rect x="304.00" y="271.93" width="16.08" height="1.79" fill="#4b4bff"/><rect x="319.88" y="271.93" width="16.08" height="1.79" fill="#dadaff"/><rect x="335.75" y="271.93" width="16.08" height="1.79" fill="#bcbcff"/><rect x="351.63" y="271.93" width="16.08" height="1.79" fill="#ececff"/><rect x="367.51" y="271.93" width="16.08" height="1.79" fill="#5454ff"/><rect x="383.38" y="271.93" width="16.08" height="1.79" fill="#f0f0ff"/><rect x="399.26" y="271.93" width="16.08" height="1.79" fill="#ffdada"/><rect x="415.14" y="271.93" width="16.08" height="1.79" fill="#ff8686"/><rect x="431.02" y="271.93" width="16.08" height="1.79" fill="#ffd8d8"/><rect x="446.89" y="271.93" width="16.08" height="1.79" fill="#ff9c9c"/><rect x="462.77" y="271.93" width="16.08" height="1.79" fill="#7b7bff"/><rect x="478.65" y="271.93" width="16.08" height="1.79" fill="#ff9898"/><rect x="494.52" y="271.93" width="16.08" height="1.79" fill="#ff9c9c"/><rect x="304.00" y="273.43" width="16.08" height="1.79" fill="#6666ff"/><rect x="319.88" y="273.43" width="16.08" height="1.79" fill="#c8c8ff"/><rect x="335.75" y="273.43" width="16.08" height="1.79" fill="#babaff"/><rect x="351.63" y="273.43" width="16.08" height="1.79" fill="#bfbfff"/><rect x="367.51" y="273.43" width="16.08" height="1.79" fill="#7c7cff"/><rect x="383.38" y="273.43" width="16.08" height="1.79" fill="#dbdbff"/><rect x="399.26" y="273.43" width="16.08" height="1.79" fill="#ffd9d9"/><rect x="415.14" y="273.43" width="16.08" height="1.79" fill="#ffb3b3"/><rect x="431.02" y="273.43" width="16.08" height="1.79" fill="#ffbbbb"/><rect x="446.89" y="273.43" width="16.08" height="1.79" fill="#ff7d7d"/><rect x="462.77" y="273.43" width="16.08" height="1.79" fill="#9f9fff"/><rect x="478.65" y="273.43" width="16.08" height="1.79" fill="#ffa3a3"/><rect x="494.52" y="273.43" width="16.08" height="1.79" fill="#ff9595"/><rect x="304.00" y="274.92" width="16.08" height="1.79" fill="#5353ff"/><rect x="319.88" y="274.92" width="16.08" height="1.79" fill="#fdfdff"/><rect x="335.75" y="274.92" width="16.08" height="1.79" fill="#ceceff"/><rect x="351.63" y="274.92" width="16.08" height="1.79" fill="#fbfbff"/><rect x="367.51" y="274.92" width="16.08" height="1.79" fill="#8b8bff"/><rect x="383.38" y="274.92" width="16.08" height="1.79" fill="#ffd3d3"/><rect x="399.26" y="274.92" width="16.08" height="1.79" fill="#fffafa"/><rect x="415.14" y="274.92" width="16.08" height="1.79" fill="#ffb9b9"/><rect x="431.02" y="274.92" width="16.08" height="1.79" fill="#ffc1c1"/><rect x="446.89" y="274.92" width="16.08" height="1.79" fill="#ffbbbb"/><rect x="462.77" y="274.92" width="16.08" height="1.79" fill="#a7a7ff"/><rect x="478.65" y="274.92" width="16.08" height="1.79" fill="#ff9696"/><rect x="494.52" y="274.92" width="16.08" height="1.79" fill="#ffe0e0"/><rect x="304.00" y="276.42" width="16.08" height="1.79" fill="#6b6bff"/><rect x="319.88" y="276.42" width="16.08" height="1.79" fill="#c4c4ff"/><rect x="335.75" y="276.42" width="16.08" height="1.79" fill="#b7b7ff"/><rect x="351.63" y="276.42" width="16.08" height="1.79" fill="#9999ff"/><rect x="367.51" y="276.42" width="16.08" height="1.79" fill="#5b5bff"/><rect x="383.38" y="276.42" width="16.08" height="1.79" fill="#c8c8ff"/><rect x="399.26" y="276.42" width="16.08" height="1.79" fill="#f4f4ff"/><rect x="415.14" y="276.42" width="16.08" height="1.79" fill="#ff9595"/><rect x="431.02" y="276.42" width="16.08" height="1.79" fill="#ffd4d4"/><rect x="446.89" y="276.42" width="16.08" height="1.79" fill="#ffabab"/><rect x="462.77" y="276.42" width="16.08" height="1.79" fill="#7b7bff"/><rect x="478.65" y="276.42" width="16.08" height="1.79" fill="#ffc1c1"/><rect x="494.52" y="276.42" width="16.08" height="1.79" fill="#ffb6b6"/><rect x="304.00" y="277.91" width="16.08" height="1.79" fill="#7575ff"/><rect x="319.88" y="277.91" width="16.08" height="1.79" fill="#b6b6ff"/><rect x="335.75" y="277.91" width="16.08" height="1.79" fill="#dadaff"/><rect x="351.63" y="277.91" width="16.08" height="1.79" fill="#aaaaff"/><rect x="367.51" y="277.91" width="16.08" height="1.79" fill="#8585ff"/><rect x="383.38" y="277.91" width="16.08" height="1.79" fill="#b7b7ff"/><rect x="399.26" y="277.91" width="16.08" height="1.79" fill="#f5f5ff"/><rect x="415.14" y="277.91" width="16.08" height="1.79" fill="#ff9292"/><rect x="431.02" y="277.91" width="16.08" height="1.79" fill="#ffa0a0"/><rect x="446.89" y="277.91" width="16.08" height="1.79" fill="#ffa0a0"/><rect x="462.77" y="277.91" width="16.08" height="1.79" fill="#7676ff"/><rect x="478.65" y="277.91" width="16.08" height="1.79" fill="#ff6f6f"/><rect x="494.52" y="277.91" width="16.08" height="1.79" fill="#ff9292"/><rect x="304.00" y="279.41" width="16.08" height="1.79" fill="#9c9cff"/><rect x="319.88" y="279.41" width="16.08" height="1.79" fill="#d6d6ff"/><rect x="335.75" y="279.41" width="16.08" height="1.79" fill="#b4b4ff"/><rect x="351.63" y="279.41" width="16.08" height="1.79" fill="#c8c8ff"/><rect x="367.51" y="279.41" width="16.08" height="1.79" fill="#9898ff"/><rect x="383.38" y="279.41" width="16.08" height="1.79" fill="#e0e0ff"/><rect x="399.26" y="279.41" width="16.08" height="1.79" fill="#fff6f6"/><rect x="415.14" y="279.41" width="16.08" height="1.79" fill="#ff8484"/><rect x="431.02" y="279.41" width="16.08" height="1.79" fill="#ffb8b8"/><rect x="446.89" y="279.41" width="16.08" height="1.79" fill="#ffb2b2"/><rect x="462.77" y="279.41" width="16.08" height="1.79" fill="#8c8cff"/><rect x="478.65" y="279.41" width="16.08" height="1.79" fill="#ff9696"/><rect x="494.52" y="279.41" width="16.08" height="1.79" fill="#ffb5b5"/><rect x="304.00" y="280.90" width="16.08" height="1.79" fill="#9696ff"/><rect x="319.88" y="280.90" width="16.08" height="1.79" fill="#b9b9ff"/><rect x="335.75" y="280.90" width="16.08" height="1.79" fill="#cbcbff"/><rect x="351.63" y="280.90" width="16.08" height="1.79" fill="#d8d8ff"/><rect x="367.51" y="280.90" width="16.08" height="1.79" fill="#9191ff"/><rect x="383.38" y="280.90" width="16.08" height="1.79" fill="#d1d1ff"/><rect x="399.26" y="280.90" width="16.08" height="1.79" fill="#ffdada"/><rect x="415.14" y="280.90" width="16.08" height="1.79" fill="#ffadad"/><rect x="431.02" y="280.90" width="16.08" height="1.79" fill="#ffa2a2"/><rect x="446.89" y="280.90" width="16.08" height="1.79" fill="#ff9595"/><rect x="462.77" y="280.90" width="16.08" height="1.79" fill="#dedeff"/><rect x="478.65" y="280.90" width="16.08" height="1.79" fill="#ffaeae"/><rect x="494.52" y="280.90" width="16.08" height="1.79" fill="#ffbaba"/><rect x="304.00" y="282.40" width="16.08" height="1.79" fill="#a6a6ff"/><rect x="319.88" y="282.40" width="16.08" height="1.79" fill="#9999ff"/><rect x="335.75" y="282.40" width="16.08" height="1.79" fill="#e0e0ff"/><rect x="351.63" y="282.40" width="16.08" height="1.79" fill="#fcfcff"/><rect x="367.51" y="282.40" width="16.08" height="1.79" fill="#c4c4ff"/><rect x="383.38" y="282.40" width="16.08" height="1.79" fill="#d4d4ff"/><rect x="399.26" y="282.40" width="16.08" height="1.79" fill="#fff7f7"/><rect x="415.14" y="282.40" width="16.08" height="1.79" fill="#ffa5a5"/><rect x="431.02" y="282.40" width="16.08" height="1.79" fill="#ffb7b7"/><rect x="446.89" y="282.40" width="16.08" height="1.79" fill="#ffa2a2"/><rect x="462.77" y="282.40" width="16.08" height="1.79" fill="#c7c7ff"/><rect x="478.65" y="282.40" width="16.08" height="1.79" fill="#ffacac"/><rect x="494.52" y="282.40" width="16.08" height="1.79" fill="#ff9191"/><rect x="304.00" y="283.89" width="16.08" height="1.79" fill="#e2e2ff"/><rect x="319.88" y="283.89" width="16.08" height="1.79" fill="#fbfbff"/><rect x="335.75" y="283.89" width="16.08" height="1.79" fill="#d8d8ff"/><rect x="351.63" y="283.89" width="16.08" height="1.79" fill="#fffefe"/><rect x="367.51" y="283.89" width="16.08" height="1.79" fill="#c9c9ff"/><rect x="383.38" y="283.89" width="16.08" height="1.79" fill="#d2d2ff"/><rect x="399.26" y="283.89" width="16.08" height="1.79" fill="#ffeaea"/><rect x="415.14" y="283.89" width="16.08" height="1.79" fill="#ffc2c2"/><rect x="431.02" y="283.89" width="16.08" height="1.79" fill="#ffdddd"/><rect x="446.89" y="283.89" width="16.08" height="1.79" fill="#ffafaf"/><rect x="462.77" y="283.89" width="16.08" height="1.79" fill="#e5e5ff"/><rect x="478.65" y="283.89" width="16.08" height="1.79" fill="#ffc6c6"/><rect x="494.52" y="283.89" width="16.08" height="1.79" fill="#ffd1d1"/><rect x="304.00" y="285.38" width="16.08" height="1.79" fill="#5a5aff"/><rect x="319.88" y="285.38" width="16.08" height="1.79" fill="#f1f1ff"/><rect x="335.75" y="285.38" width="16.08" height="1.79" fill="#c3c3ff"/><rect x="351.63" y="285.38" width="16.08" height="1.79" fill="#eeeeff"/><rect x="367.51" y="285.38" width="16.08" height="1.79" fill="#9393ff"/><rect x="383.38" y="285.38" width="16.08" height="1.79" fill="#d8d8ff"/><rect x="399.26" y="285.38" width="16.08" height="1.79" fill="#ffadad"/><rect x="415.14" y="285.38" width="16.08" height="1.79" fill="#ffafaf"/><rect x="431.02" y="285.38" width="16.08" height="1.79" fill="#ffc4c4"/><rect x="446.89" y="285.38" width="16.08" height="1.79" fill="#ff9696"/><rect x="462.77" y="285.38" width="16.08" height="1.79" fill="#f8f8ff"/><rect x="478.65" y="285.38" width="16.08" height="1.79" fill="#ffb5b5"/><rect x="494.52" y="285.38" width="16.08" height="1.79" fill="#ffbfbf"/><rect x="304.00" y="286.88" width="16.08" height="1.79" fill="#5959ff"/><rect x="319.88" y="286.88" width="16.08" height="1.79" fill="#ceceff"/><rect x="335.75" y="286.88" width="16.08" height="1.79" fill="#c5c5ff"/><rect x="351.63" y="286.88" width="16.08" height="1.79" fill="#dfdfff"/><rect x="367.51" y="286.88" width="16.08" height="1.79" fill="#8888ff"/><rect x="383.38" y="286.88" width="16.08" height="1.79" fill="#afafff"/><rect x="399.26" y="286.88" width="16.08" height="1.79" fill="#ffb6b6"/><rect x="415.14" y="286.88" width="16.08" height="1.79" fill="#ff9797"/><rect x="431.02" y="286.88" width="16.08" height="1.79" fill="#ffd3d3"/><rect x="446.89" y="286.88" width="16.08" height="1.79" fill="#ff9f9f"/><rect x="462.77" y="286.88" width="16.08" height="1.79" fill="#dbdbff"/><rect x="478.65" y="286.88" width="16.08" height="1.79" fill="#ffb0b0"/><rect x="494.52" y="286.88" width="16.08" height="1.79" fill="#ffc2c2"/><rect x="304.00" y="288.37" width="16.08" height="1.79" fill="#5353ff"/><rect x="319.88" y="288.37" width="16.08" height="1.79" fill="#ededff"/><rect x="335.75" y="288.37" width="16.08" height="1.79" fill="#c8c8ff"/><rect x="351.63" y="288.37" width="16.08" height="1.79" fill="#fdfdff"/><rect x="367.51" y="288.37" width="16.08" height="1.79" fill="#5e5eff"/><rect x="383.38" y="288.37" width="16.08" height="1.79" fill="#c9c9ff"/><rect x="399.26" y="288.37" width="16.08" height="1.79" fill="#ffa6a6"/><rect x="415.14" y="288.37" width="16.08" height="1.79" fill="#ff9393"/><rect x="431.02" y="288.37" width="16.08" height="1.79" fill="#ffcccc"/><rect x="446.89" y="288.37" width="16.08" height="1.79" fill="#ff9b9b"/><rect x="462.77" y="288.37" width="16.08" height="1.79" fill="#ceceff"/><rect x="478.65" y="288.37" width="16.08" height="1.79" fill="#ffa4a4"/><rect x="494.52" y="288.37" width="16.08" height="1.79" fill="#ff9090"/><rect x="304.00" y="289.87" width="16.08" height="1.79" fill="#6767ff"/><rect x="319.88" y="289.87" width="16.08" height="1.79" fill="#d8d8ff"/><rect x="335.75" y="289.87" width="16.08" height="1.79" fill="#f2f2ff"/><rect x="351.63" y="289.87" width="16.08" height="1.79" fill="#fffbfb"/><rect x="367.51" y="289.87" width="16.08" height="1.79" fill="#8585ff"/><rect x="383.38" y="289.87" width="16.08" height="1.79" fill="#babaff"/><rect x="399.26" y="289.87" width="16.08" height="1.79" fill="#ffa3a3"/><rect x="415.14" y="289.87" width="16.08" height="1.79" fill="#ff9393"/><rect x="431.02" y="289.87" width="16.08" height="1.79" fill="#ffaeae"/><rect x="446.89" y="289.87" width="16.08" height="1.79" fill="#ff9a9a"/><rect x="462.77" y="289.87" width="16.08" height="1.79" fill="#b9b9ff"/><rect x="478.65" y="289.87" width="16.08" height="1.79" fill="#ffc5c5"/><rect x="494.52" y="289.87" width="16.08" height="1.79" fill="#ff9b9b"/><rect x="304.00" y="291.36" width="16.08" height="1.79" fill="#8d8dff"/><rect x="319.88" y="291.36" width="16.08" height="1.79" fill="#fffcfc"/><rect x="335.75" y="291.36" width="16.08" height="1.79" fill="#ebebff"/><rect x="351.63" y="291.36" width="16.08" height="1.79" fill="#ffffff"/><rect x="367.51" y="291.36" width="16.08" height="1.79" fill="#9595ff"/><rect x="383.38" y="291.36" width="16.08" height="1.79" fill="#b6b6ff"/><rect x="399.26" y="291.36" width="16.08" height="1.79" fill="#ffabab"/><rect x="415.14" y="291.36" width="16.08" height="1.79" fill="#ffc6c6"/><rect x="431.02" y="291.36" width="16.08" height="1.79" fill="#ffc3c3"/><rect x="446.89" y="291.36" width="16.08" height="1.79" fill="#ff8181"/><rect x="462.77" y="291.36" width="16.08" height="1.79" fill="#ffffff"/><rect x="478.65" y="291.36" width="16.08" height="1.79" fill="#ff9898"/><rect x="494.52" y="291.36" width="16.08" height="1.79" fill="#ffadad"/><rect x="304.00" y="292.86" width="16.08" height="1.79" fill="#8c8cff"/><rect x="319.88" y="292.86" width="16.08" height="1.79" fill="#d5d5ff"/><rect x="335.75" y="292.86" width="16.08" height="1.79" fill="#ceceff"/><rect x="351.63" y="292.86" width="16.08" height="1.79" fill="#d5d5ff"/><rect x="367.51" y="292.86" width="16.08" height="1.79" fill="#8080ff"/><rect x="383.38" y="292.86" width="16.08" height="1.79" fill="#dbdbff"/><rect x="399.26" y="292.86" width="16.08" height="1.79" fill="#ff9696"/><rect x="415.14" y="292.86" width="16.08" height="1.79" fill="#ffc9c9"/><rect x="431.02" y="292.86" width="16.08" height="1.79" fill="#ffbebe"/><rect x="446.89" y="292.86" width="16.08" height="1.79" fill="#ff8282"/><rect x="462.77" y="292.86" width="16.08" height="1.79" fill="#e9e9ff"/><rect x="478.65" y="292.86" width="16.08" height="1.79" fill="#ff7676"/><rect x="494.52" y="292.86" width="16.08" height="1.79" fill="#ffbebe"/><rect x="304.00" y="294.35" width="16.08" height="1.79" fill="#6363ff"/><rect x="319.88" y="294.35" width="16.08" height="1.79" fill="#aeaeff"/><rect x="335.75" y="294.35" width="16.08" height="1.79" fill="#c7c7ff"/><rect x="351.63" y="294.35" width="16.08" height="1.79" fill="#d1d1ff"/><rect x="367.51" y="294.35" width="16.08" height="1.79" fill="#9090ff"/><rect x="383.38" y="294.35" width="16.08" height="1.79" fill="#b0b0ff"/><rect x="399.26" y="294.35" width="16.08" height="1.79" fill="#ff8d8d"/><rect x="415.14" y="294.35" width="16.08" height="1.79" fill="#ffcece"/><rect x="431.02" y="294.35" width="16.08" height="1.79" fill="#ffc2c2"/><rect x="446.89" y="294.35" width="16.08" height="1.79" fill="#ff6969"/><rect x="462.77" y="294.35" width="16.08" height="1.79" fill="#fffdfd"/><rect x="478.65" y="294.35" width="16.08" height="1.79" fill="#ff8686"/><rect x="494.52" y="294.35" width="16.08" height="1.79" fill="#ffacac"/><rect x="304.00" y="295.85" width="16.08" height="1.79" fill="#7a7aff"/><rect x="319.88" y="295.85" width="16.08" height="1.79" fill="#9494ff"/><rect x="335.75" y="295.85" width="16.08" height="1.79" fill="#b2b2ff"/><rect x="351.63" y="295.85" width="16.08" height="1.79" fill="#b2b2ff"/><rect x="367.51" y="295.85" width="16.08" height="1.79" fill="#9090ff"/><rect x="383.38" y="295.85" width="16.08" height="1.79" fill="#7e7eff"/><rect x="399.26" y="295.85" width="16.08" height="1.79" fill="#ff4747"/><rect x="415.14" y="295.85" width="16.08" height="1.79" fill="#ffe1e1"/><rect x="431.02" y="295.85" width="16.08" height="1.79" fill="#dfdfff"/><rect x="446.89" y="295.85" width="16.08" height="1.79" fill="#ffa4a4"/><rect x="462.77" y="295.85" width="16.08" height="1.79" fill="#d1d1ff"/><rect x="478.65" y="295.85" width="16.08" height="1.79" fill="#ffcdcd"/><rect x="494.52" y="295.85" width="16.08" height="1.79" fill="#ffa8a8"/><rect x="304.00" y="297.34" width="16.08" height="1.79" fill="#7f7fff"/><rect x="319.88" y="297.34" width="16.08" height="1.79" fill="#b9b9ff"/><rect x="335.75" y="297.34" width="16.08" height="1.79" fill="#8585ff"/><rect x="351.63" y="297.34" width="16.08" height="1.79" fill="#c0c0ff"/><rect x="367.51" y="297.34" width="16.08" height="1.79" fill="#b1b1ff"/><rect x="383.38" y="297.34" width="16.08" height="1.79" fill="#d7d7ff"/><rect x="399.26" y="297.34" width="16.08" height="1.79" fill="#ff7676"/><rect x="415.14" y="297.34" width="16.08" height="1.79" fill="#ffe9e9"/><rect x="431.02" y="297.34" width="16.08" height="1.79" fill="#fff3f3"/><rect x="446.89" y="297.34" width="16.08" height="1.79" fill="#ffb6b6"/><rect x="462.77" y="297.34" width="16.08" height="1.79" fill="#b4b4ff"/><rect x="478.65" y="297.34" width="16.08" height="1.79" fill="#ffa4a4"/><rect x="494.52" y="297.34" width="16.08" height="1.79" fill="#ffc4c4"/><rect x="304.00" y="298.84" width="16.08" height="1.79" fill="#cacaff"/><rect x="319.88" y="298.84" width="16.08" height="1.79" fill="#cbcbff"/><rect x="335.75" y="298.84" width="16.08" height="1.79" fill="#c2c2ff"/><rect x="351.63" y="298.84" width="16.08" height="1.79" fill="#e3e3ff"/><rect x="367.51" y="298.84" width="16.08" height="1.79" fill="#babaff"/><rect x="383.38" y="298.84" width="16.08" height="1.79" fill="#dbdbff"/><rect x="399.26" y="298.84" width="16.08" height="1.79" fill="#ff8c8c"/><rect x="415.14" y="298.84" width="16.08" height="1.79" fill="#fff1f1"/><rect x="431.02" y="298.84" width="16.08" height="1.79" fill="#e5e5ff"/><rect x="446.89" y="298.84" width="16.08" height="1.79" fill="#ffbcbc"/><rect x="462.77" y="298.84" width="16.08" height="1.79" fill="#d6d6ff"/><rect x="478.65" y="298.84" width="16.08" height="1.79" fill="#ffbebe"/><rect x="494.52" y="298.84" width="16.08" height="1.79" fill="#ffe6e6"/><rect x="304.00" y="300.33" width="16.08" height="1.79" fill="#9b9bff"/><rect x="319.88" y="300.33" width="16.08" height="1.79" fill="#8a8aff"/><rect x="335.75" y="300.33" width="16.08" height="1.79" fill="#b8b8ff"/><rect x="351.63" y="300.33" width="16.08" height="1.79" fill="#9f9fff"/><rect x="367.51" y="300.33" width="16.08" height="1.79" fill="#9f9fff"/><rect x="383.38" y="300.33" width="16.08" height="1.79" fill="#a1a1ff"/><rect x="399.26" y="300.33" width="16.08" height="1.79" fill="#ffbaba"/><rect x="415.14" y="300.33" width="16.08" height="1.79" fill="#ffa7a7"/><rect x="431.02" y="300.33" width="16.08" height="1.79" fill="#ffbcbc"/><rect x="446.89" y="300.33" width="16.08" height="1.79" fill="#ffc1c1"/><rect x="462.77" y="300.33" width="16.08" height="1.79" fill="#ff4f4f"/><rect x="478.65" y="300.33" width="16.08" height="1.79" fill="#ff9696"/><rect x="494.52" y="300.33" width="16.08" height="1.79" fill="#ffa4a4"/><rect x="304.00" y="301.83" width="16.08" height="1.79" fill="#9090ff"/><rect x="319.88" y="301.83" width="16.08" height="1.79" fill="#a1a1ff"/><rect x="335.75" y="301.83" width="16.08" height="1.79" fill="#c7c7ff"/><rect x="351.63" y="301.83" width="16.08" height="1.79" fill="#8c8cff"/><rect x="367.51" y="301.83" width="16.08" height="1.79" fill="#9595ff"/><rect x="383.38" y="301.83" width="16.08" height="1.79" fill="#ababff"/><rect x="399.26" y="301.83" width="16.08" height="1.79" fill="#ff9c9c"/><rect x="415.14" y="301.83" width="16.08" height="1.79" fill="#ffa9a9"/><rect x="431.02" y="301.83" width="16.08" height="1.79" fill="#ff9090"/><rect x="446.89" y="301.83" width="16.08" height="1.79" fill="#ffa7a7"/><rect x="462.77" y="301.83" width="16.08" height="1.79" fill="#ff4848"/><rect x="478.65" y="301.83" width="16.08" height="1.79" fill="#ff8181"/><rect x="494.52" y="301.83" width="16.08" height="1.79" fill="#ff9696"/><rect x="304.00" y="303.32" width="16.08" height="1.79" fill="#8585ff"/><rect x="319.88" y="303.32" width="16.08" height="1.79" fill="#8e8eff"/><rect x="335.75" y="303.32" width="16.08" height="1.79" fill="#a9a9ff"/><rect x="351.63" y="303.32" width="16.08" height="1.79" fill="#a6a6ff"/><rect x="367.51" y="303.32" width="16.08" height="1.79" fill="#bbbbff"/><rect x="383.38" y="303.32" width="16.08" height="1.79" fill="#9090ff"/><rect x="399.26" y="303.32" width="16.08" height="1.79" fill="#ffa3a3"/><rect x="415.14" y="303.32" width="16.08" height="1.79" fill="#ffbbbb"/><rect x="431.02" y="303.32" width="16.08" height="1.79" fill="#ffb8b8"/><rect x="446.89" y="303.32" width="16.08" height="1.79" fill="#ffafaf"/><rect x="462.77" y="303.32" width="16.08" height="1.79" fill="#ff4f4f"/><rect x="478.65" y="303.32" width="16.08" height="1.79" fill="#ff9898"/><rect x="494.52" y="303.32" width="16.08" height="1.79" fill="#ff9191"/><rect x="304.00" y="304.82" width="16.08" height="1.79" fill="#c4c4ff"/><rect x="319.88" y="304.82" width="16.08" height="1.79" fill="#d2d2ff"/><rect x="335.75" y="304.82" width="16.08" height="1.79" fill="#cdcdff"/><rect x="351.63" y="304.82" width="16.08" height="1.79" fill="#bcbcff"/><rect x="367.51" y="304.82" width="16.08" height="1.79" fill="#a7a7ff"/><rect x="383.38" y="304.82" width="16.08" height="1.79" fill="#a9a9ff"/><rect x="399.26" y="304.82" width="16.08" height="1.79" fill="#ffc7c7"/><rect x="415.14" y="304.82" width="16.08" height="1.79" fill="#ffcccc"/><rect x="431.02" y="304.82" width="16.08" height="1.79" fill="#ff8484"/><rect x="446.89" y="304.82" width="16.08" height="1.79" fill="#ffc9c9"/><rect x="462.77" y="304.82" width="16.08" height="1.79" fill="#ff5151"/><rect x="478.65" y="304.82" width="16.08" height="1.79" fill="#ffaeae"/><rect x="494.52" y="304.82" width="16.08" height="1.79" fill="#ffb9b9"/><rect x="304.00" y="306.31" width="16.08" height="1.79" fill="#ccccff"/><rect x="319.88" y="306.31" width="16.08" height="1.79" fill="#9595ff"/><rect x="335.75" y="306.31" width="16.08" height="1.79" fill="#a4a4ff"/><rect x="351.63" y="306.31" width="16.08" height="1.79" fill="#7171ff"/><rect x="367.51" y="306.31" width="16.08" height="1.79" fill="#f5f5ff"/><rect x="383.38" y="306.31" width="16.08" height="1.79" fill="#a8a8ff"/><rect x="399.26" y="306.31" width="16.08" height="1.79" fill="#ffadad"/><rect x="415.14" y="306.31" width="16.08" height="1.79" fill="#ff8989"/><rect x="431.02" y="306.31" width="16.08" height="1.79" fill="#ffbebe"/><rect x="446.89" y="306.31" width="16.08" height="1.79" fill="#ffb8b8"/><rect x="462.77" y="306.31" width="16.08" height="1.79" fill="#ff4d4d"/><rect x="478.65" y="306.31" width="16.08" height="1.79" fill="#ffbbbb"/><rect x="494.52" y="306.31" width="16.08" height="1.79" fill="#ff9191"/><rect x="304.00" y="307.80" width="16.08" height="1.79" fill="#ddddff"/><rect x="319.88" y="307.80" width="16.08" height="1.79" fill="#a9a9ff"/><rect x="335.75" y="307.80" width="16.08" height="1.79" fill="#a2a2ff"/><rect x="351.63" y="307.80" width="16.08" height="1.79" fill="#a9a9ff"/><rect x="367.51" y="307.80" width="16.08" height="1.79" fill="#e3e3ff"/><rect x="383.38" y="307.80" width="16.08" height="1.79" fill="#babaff"/><rect x="399.26" y="307.80" width="16.08" height="1.79" fill="#ffe9e9"/><rect x="415.14" y="307.80" width="16.08" height="1.79" fill="#ffbebe"/><rect x="431.02" y="307.80" width="16.08" height="1.79" fill="#fff1f1"/><rect x="446.89" y="307.80" width="16.08" height="1.79" fill="#ffd5d5"/><rect x="462.77" y="307.80" width="16.08" height="1.79" fill="#ff7e7e"/><rect x="478.65" y="307.80" width="16.08" height="1.79" fill="#ffc4c4"/><rect x="494.52" y="307.80" width="16.08" height="1.79" fill="#ffc6c6"/><rect x="304.00" y="309.30" width="16.08" height="1.79" fill="#c9c9ff"/><rect x="319.88" y="309.30" width="16.08" height="1.79" fill="#5656ff"/><rect x="335.75" y="309.30" width="16.08" height="1.79" fill="#a5a5ff"/><rect x="351.63" y="309.30" width="16.08" height="1.79" fill="#8484ff"/><rect x="367.51" y="309.30" width="16.08" height="1.79" fill="#e7e7ff"/><rect x="383.38" y="309.30" width="16.08" height="1.79" fill="#adadff"/><rect x="399.26" y="309.30" width="16.08" height="1.79" fill="#ffe6e6"/><rect x="415.14" y="309.30" width="16.08" height="1.79" fill="#ffc0c0"/><rect x="431.02" y="309.30" width="16.08" height="1.79" fill="#ffcaca"/><rect x="446.89" y="309.30" width="16.08" height="1.79" fill="#ffe0e0"/><rect x="462.77" y="309.30" width="16.08" height="1.79" fill="#ff5e5e"/><rect x="478.65" y="309.30" width="16.08" height="1.79" fill="#ffb4b4"/><rect x="494.52" y="309.30" width="16.08" height="1.79" fill="#ffc2c2"/><rect x="304.00" y="310.79" width="16.08" height="1.79" fill="#dcdcff"/><rect x="319.88" y="310.79" width="16.08" height="1.79" fill="#9898ff"/><rect x="335.75" y="310.79" width="16.08" height="1.79" fill="#b1b1ff"/><rect x="351.63" y="310.79" width="16.08" height="1.79" fill="#a2a2ff"/><rect x="367.51" y="310.79" width="16.08" height="1.79" fill="#cbcbff"/><rect x="383.38" y="310.79" width="16.08" height="1.79" fill="#9c9cff"/><rect x="399.26" y="310.79" width="16.08" height="1.79" fill="#ffa5a5"/><rect x="415.14" y="310.79" width="16.08" height="1.79" fill="#ffd2d2"/><rect x="431.02" y="310.79" width="16.08" height="1.79" fill="#ffafaf"/><rect x="446.89" y="310.79" width="16.08" height="1.79" fill="#ffc8c8"/><rect x="462.77" y="310.79" width="16.08" height="1.79" fill="#ff7777"/><rect x="478.65" y="310.79" width="16.08" height="1.79" fill="#ffc7c7"/><rect x="494.52" y="310.79" width="16.08" height="1.79" fill="#ffd0d0"/><rect x="304.00" y="312.29" width="16.08" height="1.79" fill="#adadff"/><rect x="319.88" y="312.29" width="16.08" height="1.79" fill="#a5a5ff"/><rect x="335.75" y="312.29" width="16.08" height="1.79" fill="#6f6fff"/><rect x="351.63" y="312.29" width="16.08" height="1.79" fill="#9090ff"/><rect x="367.51" y="312.29" width="16.08" height="1.79" fill="#d8d8ff"/><rect x="383.38" y="312.29" width="16.08" height="1.79" fill="#7474ff"/><rect x="399.26" y="312.29" width="16.08" height="1.79" fill="#ff7b7b"/><rect x="415.14" y="312.29" width="16.08" height="1.79" fill="#ffbcbc"/><rect x="431.02" y="312.29" width="16.08" height="1.79" fill="#ffa8a8"/><rect x="446.89" y="312.29" width="16.08" height="1.79" fill="#ffd8d8"/><rect x="462.77" y="312.29" width="16.08" height="1.79" fill="#ff7f7f"/><rect x="478.65" y="312.29" width="16.08" height="1.79" fill="#ff8a8a"/><rect x="494.52" y="312.29" width="16.08" height="1.79" fill="#ffc6c6"/><rect x="304.00" y="313.78" width="16.08" height="1.79" fill="#dadaff"/><rect x="319.88" y="313.78" width="16.08" height="1.79" fill="#adadff"/><rect x="335.75" y="313.78" width="16.08" height="1.79" fill="#c3c3ff"/><rect x="351.63" y="313.78" width="16.08" height="1.79" fill="#b0b0ff"/><rect x="367.51" y="313.78" width="16.08" height="1.79" fill="#ffffff"/><rect x="383.38" y="313.78" width="16.08" height="1.79" fill="#c1c1ff"/><rect x="399.26" y="313.78" width="16.08" height="1.79" fill="#ffb0b0"/><rect x="415.14" y="313.78" width="16.08" height="1.79" fill="#e8e8ff"/><rect x="431.02" y="313.78" width="16.08" height="1.79" fill="#ffb7b7"/><rect x="446.89" y="313.78" width="16.08" height="1.79" fill="#fbfbff"/><rect x="462.77" y="313.78" width="16.08" height="1.79" fill="#ffc2c2"/><rect x="478.65" y="313.78" width="16.08" height="1.79" fill="#ffcfcf"/><rect x="494.52" y="313.78" width="16.08" height="1.79" fill="#ffe0e0"/><rect x="304.00" y="315.28" width="16.08" height="1.79" fill="#b6b6ff"/><rect x="319.88" y="315.28" width="16.08" height="1.79" fill="#9a9aff"/><rect x="335.75" y="315.28" width="16.08" height="1.79" fill="#a0a0ff"/><rect x="351.63" y="315.28" width="16.08" height="1.79" fill="#bdbdff"/><rect x="367.51" y="315.28" width="16.08" height="1.79" fill="#d4d4ff"/><rect x="383.38" y="315.28" width="16.08" height="1.79" fill="#9898ff"/><rect x="399.26" y="315.28" width="16.08" height="1.79" fill="#ff9c9c"/><rect x="415.14" y="315.28" width="16.08" height="1.79" fill="#ffd3d3"/><rect x="431.02" y="315.28" width="16.08" height="1.79" fill="#ffb4b4"/><rect x="446.89" y="315.28" width="16.08" height="1.79" fill="#e6e6ff"/><rect x="462.77" y="315.28" width="16.08" height="1.79" fill="#ff8787"/><rect x="478.65" y="315.28" width="16.08" height="1.79" fill="#ffdede"/><rect x="494.52" y="315.28" width="16.08" height="1.79" fill="#fff0f0"/><rect x="304.00" y="316.77" width="16.08" height="1.79" fill="#7c7cff"/><rect x="319.88" y="316.77" width="16.08" height="1.79" fill="#9191ff"/><rect x="335.75" y="316.77" width="16.08" height="1.79" fill="#8d8dff"/><rect x="351.63" y="316.77" width="16.08" height="1.79" fill="#9a9aff"/><rect x="367.51" y="316.77" width="16.08" height="1.79" fill="#a1a1ff"/><rect x="383.38" y="316.77" width="16.08" height="1.79" fill="#a9a9ff"/><rect x="399.26" y="316.77" width="16.08" height="1.79" fill="#ffb9b9"/><rect x="415.14" y="316.77" width="16.08" height="1.79" fill="#ffb1b1"/><rect x="431.02" y="316.77" width="16.08" height="1.79" fill="#ff9c9c"/><rect x="446.89" y="316.77" width="16.08" height="1.79" fill="#ffc5c5"/><rect x="462.77" y="316.77" width="16.08" height="1.79" fill="#ff4d4d"/><rect x="478.65" y="316.77" width="16.08" height="1.79" fill="#ffd9d9"/><rect x="494.52" y="316.77" width="16.08" height="1.79" fill="#ffdcdc"/><rect x="304.00" y="318.27" width="16.08" height="1.79" fill="#a2a2ff"/><rect x="319.88" y="318.27" width="16.08" height="1.79" fill="#9c9cff"/><rect x="335.75" y="318.27" width="16.08" height="1.79" fill="#8e8eff"/><rect x="351.63" y="318.27" width="16.08" height="1.79" fill="#6f6fff"/><rect x="367.51" y="318.27" width="16.08" height="1.79" fill="#fdfdff"/><rect x="383.38" y="318.27" width="16.08" height="1.79" fill="#9f9fff"/><rect x="399.26" y="318.27" width="16.08" height="1.79" fill="#ff9a9a"/><rect x="415.14" y="318.27" width="16.08" height="1.79" fill="#fff4f4"/><rect x="431.02" y="318.27" width="16.08" height="1.79" fill="#ff9090"/><rect x="446.89" y="318.27" width="16.08" height="1.79" fill="#ffeded"/><rect x="462.77" y="318.27" width="16.08" height="1.79" fill="#ff5252"/><rect x="478.65" y="318.27" width="16.08" height="1.79" fill="#ffc4c4"/><rect x="494.52" y="318.27" width="16.08" height="1.79" fill="#ffefef"/><rect x="304.00" y="319.76" width="16.08" height="1.79" fill="#7979ff"/><rect x="319.88" y="319.76" width="16.08" height="1.79" fill="#a3a3ff"/><rect x="335.75" y="319.76" width="16.08" height="1.79" fill="#9191ff"/><rect x="351.63" y="319.76" width="16.08" height="1.79" fill="#7676ff"/><rect x="367.51" y="319.76" width="16.08" height="1.79" fill="#c3c3ff"/><rect x="383.38" y="319.76" width="16.08" height="1.79" fill="#9a9aff"/><rect x="399.26" y="319.76" width="16.08" height="1.79" fill="#ff7272"/><rect x="415.14" y="319.76" width="16.08" height="1.79" fill="#eaeaff"/><rect x="431.02" y="319.76" width="16.08" height="1.79" fill="#ffaaaa"/><rect x="446.89" y="319.76" width="16.08" height="1.79" fill="#ffefef"/><rect x="462.77" y="319.76" width="16.08" height="1.79" fill="#ff7373"/><rect x="478.65" y="319.76" width="16.08" height="1.79" fill="#ffc7c7"/><rect x="494.52" y="319.76" width="16.08" height="1.79" fill="#ffe1e1"/><rect x="304.00" y="321.26" width="16.08" height="1.79" fill="#8282ff"/><rect x="319.88" y="321.26" width="16.08" height="1.79" fill="#afafff"/><rect x="335.75" y="321.26" width="16.08" height="1.79" fill="#b9b9ff"/><rect x="351.63" y="321.26" width="16.08" height="1.79" fill="#7373ff"/><rect x="367.51" y="321.26" width="16.08" height="1.79" fill="#a0a0ff"/><rect x="383.38" y="321.26" width="16.08" height="1.79" fill="#8989ff"/><rect x="399.26" y="321.26" width="16.08" height="1.79" fill="#ffb1b1"/><rect x="415.14" y="321.26" width="16.08" height="1.79" fill="#ffbcbc"/><rect x="431.02" y="321.26" width="16.08" height="1.79" fill="#ffa4a4"/><rect x="446.89" y="321.26" width="16.08" height="1.79" fill="#ffb0b0"/><rect x="462.77" y="321.26" width="16.08" height="1.79" fill="#ffc4c4"/><rect x="478.65" y="321.26" width="16.08" height="1.79" fill="#ffb6b6"/><rect x="494.52" y="321.26" width="16.08" height="1.79" fill="#ffd2d2"/><rect x="304.00" y="322.75" width="16.08" height="1.79" fill="#9595ff"/><rect x="319.88" y="322.75" width="16.08" height="1.79" fill="#c5c5ff"/><rect x="335.75" y="322.75" width="16.08" height="1.79" fill="#c7c7ff"/><rect x="351.63" y="322.75" width="16.08" height="1.79" fill="#8484ff"/><rect x="367.51" y="322.75" width="16.08" height="1.79" fill="#9898ff"/><rect x="383.38" y="322.75" width="16.08" height="1.79" fill="#8e8eff"/><rect x="399.26" y="322.75" width="16.08" height="1.79" fill="#ff8e8e"/><rect x="415.14" y="322.75" width="16.08" height="1.79" fill="#ff9292"/><rect x="431.02" y="322.75" width="16.08" height="1.79" fill="#ff9292"/><rect x="446.89" y="322.75" width="16.08" height="1.79" fill="#ffdada"/><rect x="462.77" y="322.75" width="16.08" height="1.79" fill="#ffc7c7"/><rect x="478.65" y="322.75" width="16.08" height="1.79" fill="#ffc8c8"/><rect x="494.52" y="322.75" width="16.08" height="1.79" fill="#ffb0b0"/><rect x="304.00" y="324.25" width="16.08" height="1.79" fill="#9292ff"/><rect x="319.88" y="324.25" width="16.08" height="1.79" fill="#cacaff"/><rect x="335.75" y="324.25" width="16.08" height="1.79" fill="#a2a2ff"/><rect x="351.63" y="324.25" width="16.08" height="1.79" fill="#8888ff"/><rect x="367.51" y="324.25" width="16.08" height="1.79" fill="#ceceff"/><rect x="383.38" y="324.25" width="16.08" height="1.79" fill="#adadff"/><rect x="399.26" y="324.25" width="16.08" height="1.79" fill="#ffa9a9"/><rect x="415.14" y="324.25" width="16.08" height="1.79" fill="#ffe9e9"/><rect x="431.02" y="324.25" width="16.08" height="1.79" fill="#ffc5c5"/><rect x="446.89" y="324.25" width="16.08" height="1.79" fill="#ffe4e4"/><rect x="462.77" y="324.25" width="16.08" height="1.79" fill="#ffb1b1"/><rect x="478.65" y="324.25" width="16.08" height="1.79" fill="#ffb2b2"/><rect x="494.52" y="324.25" width="16.08" height="1.79" fill="#ffabab"/><rect x="304.00" y="325.74" width="16.08" height="1.79" fill="#8d8dff"/><rect x="319.88" y="325.74" width="16.08" height="1.79" fill="#9898ff"/><rect x="335.75" y="325.74" width="16.08" height="1.79" fill="#ceceff"/><rect x="351.63" y="325.74" width="16.08" height="1.79" fill="#9090ff"/><rect x="367.51" y="325.74" width="16.08" height="1.79" fill="#b8b8ff"/><rect x="383.38" y="325.74" width="16.08" height="1.79" fill="#a8a8ff"/><rect x="399.26" y="325.74" width="16.08" height="1.79" fill="#ff9b9b"/><rect x="415.14" y="325.74" width="16.08" height="1.79" fill="#ffbdbd"/><rect x="431.02" y="325.74" width="16.08" height="1.79" fill="#ff9d9d"/><rect x="446.89" y="325.74" width="16.08" height="1.79" fill="#ff9797"/><rect x="462.77" y="325.74" width="16.08" height="1.79" fill="#ffd1d1"/><rect x="478.65" y="325.74" width="16.08" height="1.79" fill="#ffb1b1"/><rect x="494.52" y="325.74" width="16.08" height="1.79" fill="#ffb8b8"/><rect x="304.00" y="327.23" width="16.08" height="1.79" fill="#a1a1ff"/><rect x="319.88" y="327.23" width="16.08" height="1.79" fill="#acacff"/><rect x="335.75" y="327.23" width="16.08" height="1.79" fill="#b6b6ff"/><rect x="351.63" y="327.23" width="16.08" height="1.79" fill="#dadaff"/><rect x="367.51" y="327.23" width="16.08" height="1.79" fill="#d9d9ff"/><rect x="383.38" y="327.23" width="16.08" height="1.79" fill="#a9a9ff"/><rect x="399.26" y="327.23" width="16.08" height="1.79" fill="#ffa6a6"/><rect x="415.14" y="327.23" width="16.08" height="1.79" fill="#ffb9b9"/><rect x="431.02" y="327.23" width="16.08" height="1.79" fill="#ffa3a3"/><rect x="446.89" y="327.23" width="16.08" height="1.79" fill="#ffb2b2"/><rect x="462.77" y="327.23" width="16.08" height="1.79" fill="#ffd3d3"/><rect x="478.65" y="327.23" width="16.08" height="1.79" fill="#ffbcbc"/><rect x="494.52" y="327.23" width="16.08" height="1.79" fill="#ffcfcf"/><rect x="304.00" y="328.73" width="16.08" height="1.79" fill="#a8a8ff"/><rect x="319.88" y="328.73" width="16.08" height="1.79" fill="#a8a8ff"/><rect x="335.75" y="328.73" width="16.08" height="1.79" fill="#a4a4ff"/><rect x="351.63" y="328.73" width="16.08" height="1.79" fill="#adadff"/><rect x="367.51" y="328.73" width="16.08" height="1.79" fill="#9e9eff"/><rect x="383.38" y="328.73" width="16.08" height="1.79" fill="#7676ff"/><rect x="399.26" y="328.73" width="16.08" height="1.79" fill="#ff8d8d"/><rect x="415.14" y="328.73" width="16.08" height="1.79" fill="#ffa3a3"/><rect x="431.02" y="328.73" width="16.08" height="1.79" fill="#ffa6a6"/><rect x="446.89" y="328.73" width="16.08" height="1.79" fill="#ffaeae"/><rect x="462.77" y="328.73" width="16.08" height="1.79" fill="#ffa7a7"/><rect x="478.65" y="328.73" width="16.08" height="1.79" fill="#ffbfbf"/><rect x="494.52" y="328.73" width="16.08" height="1.79" fill="#ff8383"/><rect x="304.00" y="330.22" width="16.08" height="1.79" fill="#c1c1ff"/><rect x="319.88" y="330.22" width="16.08" height="1.79" fill="#8f8fff"/><rect x="335.75" y="330.22" width="16.08" height="1.79" fill="#9d9dff"/><rect x="351.63" y="330.22" width="16.08" height="1.79" fill="#a0a0ff"/><rect x="367.51" y="330.22" width="16.08" height="1.79" fill="#aeaeff"/><rect x="383.38" y="330.22" width="16.08" height="1.79" fill="#9999ff"/><rect x="399.26" y="330.22" width="16.08" height="1.79" fill="#ffadad"/><rect x="415.14" y="330.22" width="16.08" height="1.79" fill="#ff9494"/><rect x="431.02" y="330.22" width="16.08" height="1.79" fill="#ffaeae"/><rect x="446.89" y="330.22" width="16.08" height="1.79" fill="#ffa8a8"/><rect x="462.77" y="330.22" width="16.08" height="1.79" fill="#ffb9b9"/><rect x="478.65" y="330.22" width="16.08" height="1.79" fill="#ffa9a9"/><rect x="494.52" y="330.22" width="16.08" height="1.79" fill="#ffb3b3"/><rect x="304.00" y="331.72" width="16.08" height="1.79" fill="#8d8dff"/><rect x="319.88" y="331.72" width="16.08" height="1.79" fill="#9595ff"/><rect x="335.75" y="331.72" width="16.08" height="1.79" fill="#9292ff"/><rect x="351.63" y="331.72" width="16.08" height="1.79" fill="#9d9dff"/><rect x="367.51" y="331.72" width="16.08" height="1.79" fill="#d1d1ff"/><rect x="383.38" y="331.72" width="16.08" height="1.79" fill="#8b8bff"/><rect x="399.26" y="331.72" width="16.08" height="1.79" fill="#ff9a9a"/><rect x="415.14" y="331.72" width="16.08" height="1.79" fill="#ffb1b1"/><rect x="431.02" y="331.72" width="16.08" height="1.79" fill="#ffb5b5"/><rect x="446.89" y="331.72" width="16.08" height="1.79" fill="#ffa8a8"/><rect x="462.77" y="331.72" width="16.08" height="1.79" fill="#ffa8a8"/><rect x="478.65" y="331.72" width="16.08" height="1.79" fill="#ff9c9c"/><rect x="494.52" y="331.72" width="16.08" height="1.79" fill="#ff8a8a"/><rect x="304.00" y="333.21" width="16.08" height="1.79" fill="#bcbcff"/><rect x="319.88" y="333.21" width="16.08" height="1.79" fill="#cfcfff"/><rect x="335.75" y="333.21" width="16.08" height="1.79" fill="#b2b2ff"/><rect x="351.63" y="333.21" width="16.08" height="1.79" fill="#9e9eff"/><rect x="367.51" y="333.21" width="16.08" height="1.79" fill="#cdcdff"/><rect x="383.38" y="333.21" width="16.08" height="1.79" fill="#acacff"/><rect x="399.26" y="333.21" width="16.08" height="1.79" fill="#ffb3b3"/><rect x="415.14" y="333.21" width="16.08" height="1.79" fill="#ffb3b3"/><rect x="431.02" y="333.21" width="16.08" height="1.79" fill="#ffadad"/><rect x="446.89" y="333.21" width="16.08" height="1.79" fill="#ff9797"/><rect x="462.77" y="333.21" width="16.08" height="1.79" fill="#ffa4a4"/><rect x="478.65" y="333.21" width="16.08" height="1.79" fill="#ffbfbf"/><rect x="494.52" y="333.21" width="16.08" height="1.79" fill="#ffa6a6"/><rect x="304.00" y="334.71" width="16.08" height="1.79" fill="#7373ff"/><rect x="319.88" y="334.71" width="16.08" height="1.79" fill="#bebeff"/><rect x="335.75" y="334.71" width="16.08" height="1.79" fill="#6b6bff"/><rect x="351.63" y="334.71" width="16.08" height="1.79" fill="#9e9eff"/><rect x="367.51" y="334.71" width="16.08" height="1.79" fill="#acacff"/><rect x="383.38" y="334.71" width="16.08" height="1.79" fill="#b1b1ff"/><rect x="399.26" y="334.71" width="16.08" height="1.79" fill="#ff9a9a"/><rect x="415.14" y="334.71" width="16.08" height="1.79" fill="#ff9d9d"/><rect x="431.02" y="334.71" width="16.08" height="1.79" fill="#ffb0b0"/><rect x="446.89" y="334.71" width="16.08" height="1.79" fill="#ffadad"/><rect x="462.77" y="334.71" width="16.08" height="1.79" fill="#ff9090"/><rect x="478.65" y="334.71" width="16.08" height="1.79" fill="#ffa5a5"/><rect x="494.52" y="334.71" width="16.08" height="1.79" fill="#ffafaf"/><rect x="304.00" y="336.20" width="16.08" height="1.79" fill="#7676ff"/><rect x="319.88" y="336.20" width="16.08" height="1.79" fill="#9696ff"/><rect x="335.75" y="336.20" width="16.08" height="1.79" fill="#9696ff"/><rect x="351.63" y="336.20" width="16.08" height="1.79" fill="#cdcdff"/><rect x="367.51" y="336.20" width="16.08" height="1.79" fill="#bdbdff"/><rect x="383.38" y="336.20" width="16.08" height="1.79" fill="#9c9cff"/><rect x="399.26" y="336.20" width="16.08" height="1.79" fill="#ffcccc"/><rect x="415.14" y="336.20" width="16.08" height="1.79" fill="#ffa6a6"/><rect x="431.02" y="336.20" width="16.08" height="1.79" fill="#ffb7b7"/><rect x="446.89" y="336.20" width="16.08" height="1.79" fill="#ffa5a5"/><rect x="462.77" y="336.20" width="16.08" height="1.79" fill="#ffa0a0"/><rect x="478.65" y="336.20" width="16.08" height="1.79" fill="#ffa6a6"/><rect x="494.52" y="336.20" width="16.08" height="1.79" fill="#ff9999"/><rect x="304.00" y="337.70" width="16.08" height="1.79" fill="#8686ff"/><rect x="319.88" y="337.70" width="16.08" height="1.79" fill="#9393ff"/><rect x="335.75" y="337.70" width="16.08" height="1.79" fill="#9191ff"/><rect x="351.63" y="337.70" width="16.08" height="1.79" fill="#b6b6ff"/><rect x="367.51" y="337.70" width="16.08" height="1.79" fill="#8585ff"/><rect x="383.38" y="337.70" width="16.08" height="1.79" fill="#9898ff"/><rect x="399.26" y="337.70" width="16.08" height="1.79" fill="#ffb7b7"/><rect x="415.14" y="337.70" width="16.08" height="1.79" fill="#ffc4c4"/><rect x="431.02" y="337.70" width="16.08" height="1.79" fill="#ffa8a8"/><rect x="446.89" y="337.70" width="16.08" height="1.79" fill="#ffa8a8"/><rect x="462.77" y="337.70" width="16.08" height="1.79" fill="#ffa7a7"/><rect x="478.65" y="337.70" width="16.08" height="1.79" fill="#ff8989"/><rect x="494.52" y="337.70" width="16.08" height="1.79" fill="#ffc6c6"/><rect x="304.00" y="339.19" width="16.08" height="1.79" fill="#9393ff"/><rect x="319.88" y="339.19" width="16.08" height="1.79" fill="#b8b8ff"/><rect x="335.75" y="339.19" width="16.08" height="1.79" fill="#9090ff"/><rect x="351.63" y="339.19" width="16.08" height="1.79" fill="#c2c2ff"/><rect x="367.51" y="339.19" width="16.08" height="1.79" fill="#ababff"/><rect x="383.38" y="339.19" width="16.08" height="1.79" fill="#c2c2ff"/><rect x="399.26" y="339.19" width="16.08" height="1.79" fill="#ff9c9c"/><rect x="415.14" y="339.19" width="16.08" height="1.79" fill="#ffa8a8"/><rect x="431.02" y="339.19" width="16.08" height="1.79" fill="#ff9494"/><rect x="446.89" y="339.19" width="16.08" height="1.79" fill="#ffb3b3"/><rect x="462.77" y="339.19" width="16.08" height="1.79" fill="#ffbcbc"/><rect x="478.65" y="339.19" width="16.08" height="1.79" fill="#ffaeae"/><rect x="494.52" y="339.19" width="16.08" height="1.79" fill="#ffc7c7"/><rect x="304.00" y="340.69" width="16.08" height="1.79" fill="#8080ff"/><rect x="319.88" y="340.69" width="16.08" height="1.79" fill="#b1b1ff"/><rect x="335.75" y="340.69" width="16.08" height="1.79" fill="#a2a2ff"/><rect x="351.63" y="340.69" width="16.08" height="1.79" fill="#ededff"/><rect x="367.51" y="340.69" width="16.08" height="1.79" fill="#b9b9ff"/><rect x="383.38" y="340.69" width="16.08" height="1.79" fill="#f5f5ff"/><rect x="399.26" y="340.69" width="16.08" height="1.79" fill="#ff9a9a"/><rect x="415.14" y="340.69" width="16.08" height="1.79" fill="#ffb6b6"/><rect x="431.02" y="340.69" width="16.08" height="1.79" fill="#c0c0ff"/><rect x="446.89" y="340.69" width="16.08" height="1.79" fill="#ffe9e9"/><rect x="462.77" y="340.69" width="16.08" height="1.79" fill="#efefff"/><rect x="478.65" y="340.69" width="16.08" height="1.79" fill="#ff8888"/><rect x="494.52" y="340.69" width="16.08" height="1.79" fill="#ffa8a8"/><rect x="304.00" y="342.18" width="16.08" height="1.79" fill="#bebeff"/><rect x="319.88" y="342.18" width="16.08" height="1.79" fill="#cacaff"/><rect x="335.75" y="342.18" width="16.08" height="1.79" fill="#a2a2ff"/><rect x="351.63" y="342.18" width="16.08" height="1.79" fill="#e7e7ff"/><rect x="367.51" y="342.18" width="16.08" height="1.79" fill="#c7c7ff"/><rect x="383.38" y="342.18" width="16.08" height="1.79" fill="#dcdcff"/><rect x="399.26" y="342.18" width="16.08" height="1.79" fill="#ffbdbd"/><rect x="415.14" y="342.18" width="16.08" height="1.79" fill="#ffc2c2"/><rect x="431.02" y="342.18" width="16.08" height="1.79" fill="#fff1f1"/><rect x="446.89" y="342.18" width="16.08" height="1.79" fill="#ffcaca"/><rect x="462.77" y="342.18" width="16.08" height="1.79" fill="#fff7f7"/><rect x="478.65" y="342.18" width="16.08" height="1.79" fill="#ffc2c2"/><rect x="494.52" y="342.18" width="16.08" height="1.79" fill="#ffc4c4"/><rect x="304.00" y="343.68" width="16.08" height="1.79" fill="#a2a2ff"/><rect x="319.88" y="343.68" width="16.08" height="1.79" fill="#9c9cff"/><rect x="335.75" y="343.68" width="16.08" height="1.79" fill="#9595ff"/><rect x="351.63" y="343.68" width="16.08" height="1.79" fill="#c9c9ff"/><rect x="367.51" y="343.68" width="16.08" height="1.79" fill="#bebeff"/><rect x="383.38" y="343.68" width="16.08" height="1.79" fill="#c5c5ff"/><rect x="399.26" y="343.68" width="16.08" height="1.79" fill="#ff9e9e"/><rect x="415.14" y="343.68" width="16.08" height="1.79" fill="#ffa6a6"/><rect x="431.02" y="343.68" width="16.08" height="1.79" fill="#e9e9ff"/><rect x="446.89" y="343.68" width="16.08" height="1.79" fill="#ffe4e4"/><rect x="462.77" y="343.68" width="16.08" height="1.79" fill="#f2f2ff"/><rect x="478.65" y="343.68" width="16.08" height="1.79" fill="#ff8989"/><rect x="494.52" y="343.68" width="16.08" height="1.79" fill="#ffafaf"/><rect x="304.00" y="345.17" width="16.08" height="1.79" fill="#d6d6ff"/><rect x="319.88" y="345.17" width="16.08" height="1.79" fill="#cbcbff"/><rect x="335.75" y="345.17" width="16.08" height="1.79" fill="#b6b6ff"/><rect x="351.63" y="345.17" width="16.08" height="1.79" fill="#ceceff"/><rect x="367.51" y="345.17" width="16.08" height="1.79" fill="#e8e8ff"/><rect x="383.38" y="345.17" width="16.08" height="1.79" fill="#c0c0ff"/><rect x="399.26" y="345.17" width="16.08" height="1.79" fill="#ff9f9f"/><rect x="415.14" y="345.17" width="16.08" height="1.79" fill="#ffacac"/><rect x="431.02" y="345.17" width="16.08" height="1.79" fill="#fff6f6"/><rect x="446.89" y="345.17" width="16.08" height="1.79" fill="#fff3f3"/><rect x="462.77" y="345.17" width="16.08" height="1.79" fill="#fafaff"/><rect x="478.65" y="345.17" width="16.08" height="1.79" fill="#ffaaaa"/><rect x="494.52" y="345.17" width="16.08" height="1.79" fill="#ffe1e1"/><rect x="304.00" y="346.66" width="16.08" height="1.79" fill="#c2c2ff"/><rect x="319.88" y="346.66" width="16.08" height="1.79" fill="#6f6fff"/><rect x="335.75" y="346.66" width="16.08" height="1.79" fill="#a8a8ff"/><rect x="351.63" y="346.66" width="16.08" height="1.79" fill="#adadff"/><rect x="367.51" y="346.66" width="16.08" height="1.79" fill="#e4e4ff"/><rect x="383.38" y="346.66" width="16.08" height="1.79" fill="#a8a8ff"/><rect x="399.26" y="346.66" width="16.08" height="1.79" fill="#ff8d8d"/><rect x="415.14" y="346.66" width="16.08" height="1.79" fill="#ffc1c1"/><rect x="431.02" y="346.66" width="16.08" height="1.79" fill="#ffa7a7"/><rect x="446.89" y="346.66" width="16.08" height="1.79" fill="#ffb5b5"/><rect x="462.77" y="346.66" width="16.08" height="1.79" fill="#ff8989"/><rect x="478.65" y="346.66" width="16.08" height="1.79" fill="#ffb3b3"/><rect x="494.52" y="346.66" width="16.08" height="1.79" fill="#ffaeae"/><rect x="304.00" y="348.16" width="16.08" height="1.79" fill="#bfbfff"/><rect x="319.88" y="348.16" width="16.08" height="1.79" fill="#a0a0ff"/><rect x="335.75" y="348.16" width="16.08" height="1.79" fill="#a2a2ff"/><rect x="351.63" y="348.16" width="16.08" height="1.79" fill="#c0c0ff"/><rect x="367.51" y="348.16" width="16.08" height="1.79" fill="#f4f4ff"/><rect x="383.38" y="348.16" width="16.08" height="1.79" fill="#bebeff"/><rect x="399.26" y="348.16" width="16.08" height="1.79" fill="#ffb4b4"/><rect x="415.14" y="348.16" width="16.08" height="1.79" fill="#ffabab"/><rect x="431.02" y="348.16" width="16.08" height="1.79" fill="#ffa2a2"/><rect x="446.89" y="348.16" width="16.08" height="1.79" fill="#ffbdbd"/><rect x="462.77" y="348.16" width="16.08" height="1.79" fill="#ff9f9f"/><rect x="478.65" y="348.16" width="16.08" height="1.79" fill="#ffb3b3"/><rect x="494.52" y="348.16" width="16.08" height="1.79" fill="#ffbebe"/><rect x="304.00" y="349.65" width="16.08" height="1.79" fill="#a1a1ff"/><rect x="319.88" y="349.65" width="16.08" height="1.79" fill="#4e4eff"/><rect x="335.75" y="349.65" width="16.08" height="1.79" fill="#7373ff"/><rect x="351.63" y="349.65" width="16.08" height="1.79" fill="#8d8dff"/><rect x="367.51" y="349.65" width="16.08" height="1.79" fill="#c9c9ff"/><rect x="383.38" y="349.65" width="16.08" height="1.79" fill="#9696ff"/><rect x="399.26" y="349.65" width="16.08" height="1.79" fill="#ff9797"/><rect x="415.14" y="349.65" width="16.08" height="1.79" fill="#ff8d8d"/><rect x="431.02" y="349.65" width="16.08" height="1.79" fill="#ff9c9c"/><rect x="446.89" y="349.65" width="16.08" height="1.79" fill="#ff9999"/><rect x="462.77" y="349.65" width="16.08" height="1.79" fill="#ffa4a4"/><rect x="478.65" y="349.65" width="16.08" height="1.79" fill="#ff9797"/><rect x="494.52" y="349.65" width="16.08" height="1.79" fill="#ff9494"/><rect x="304.00" y="351.15" width="16.08" height="1.79" fill="#5555ff"/><rect x="319.88" y="351.15" width="16.08" height="1.79" fill="#9a9aff"/><rect x="335.75" y="351.15" width="16.08" height="1.79" fill="#9b9bff"/><rect x="351.63" y="351.15" width="16.08" height="1.79" fill="#a6a6ff"/><rect x="367.51" y="351.15" width="16.08" height="1.79" fill="#8585ff"/><rect x="383.38" y="351.15" width="16.08" height="1.79" fill="#8f8fff"/><rect x="399.26" y="351.15" width="16.08" height="1.79" fill="#ffc9c9"/><rect x="415.14" y="351.15" width="16.08" height="1.79" fill="#ff9a9a"/><rect x="431.02" y="351.15" width="16.08" height="1.79" fill="#ffb2b2"/><rect x="446.89" y="351.15" width="16.08" height="1.79" fill="#ffb4b4"/><rect x="462.77" y="351.15" width="16.08" height="1.79" fill="#ff7676"/><rect x="478.65" y="351.15" width="16.08" height="1.79" fill="#ffbcbc"/><rect x="494.52" y="351.15" width="16.08" height="1.79" fill="#ff8686"/><rect x="304.00" y="352.64" width="16.08" height="1.79" fill="#9292ff"/><rect x="319.88" y="352.64" width="16.08" height="1.79" fill="#7f7fff"/><rect x="335.75" y="352.64" width="16.08" height="1.79" fill="#8080ff"/><rect x="351.63" y="352.64" width="16.08" height="1.79" fill="#b3b3ff"/><rect x="367.51" y="352.64" width="16.08" height="1.79" fill="#9595ff"/><rect x="383.38" y="352.64" width="16.08" height="1.79" fill="#ceceff"/><rect x="399.26" y="352.64" width="16.08" height="1.79" fill="#fdfdff"/><rect x="415.14" y="352.64" width="16.08" height="1.79" fill="#ffcaca"/><rect x="431.02" y="352.64" width="16.08" height="1.79" fill="#ffb1b1"/><rect x="446.89" y="352.64" width="16.08" height="1.79" fill="#ffa9a9"/><rect x="462.77" y="352.64" width="16.08" height="1.79" fill="#ff8a8a"/><rect x="478.65" y="352.64" width="16.08" height="1.79" fill="#ffbaba"/><rect x="494.52" y="352.64" width="16.08" height="1.79" fill="#ffb6b6"/><rect x="304.00" y="354.14" width="16.08" height="1.79" fill="#8484ff"/><rect x="319.88" y="354.14" width="16.08" height="1.79" fill="#6969ff"/><rect x="335.75" y="354.14" width="16.08" height="1.79" fill="#a2a2ff"/><rect x="351.63" y="354.14" width="16.08" height="1.79" fill="#aeaeff"/><rect x="367.51" y="354.14" width="16.08" height="1.79" fill="#b9b9ff"/><rect x="383.38" y="354.14" width="16.08" height="1.79" fill="#9c9cff"/><rect x="399.26" y="354.14" width="16.08" height="1.79" fill="#ffe3e3"/><rect x="415.14" y="354.14" width="16.08" height="1.79" fill="#ffb6b6"/><rect x="431.02" y="354.14" width="16.08" height="1.79" fill="#ffb7b7"/><rect x="446.89" y="354.14" width="16.08" height="1.79" fill="#ffa0a0"/><rect x="462.77" y="354.14" width="16.08" height="1.79" fill="#ffbebe"/><rect x="478.65" y="354.14" width="16.08" height="1.79" fill="#ffb0b0"/><rect x="494.52" y="354.14" width="16.08" height="1.79" fill="#ffcaca"/><rect x="304.00" y="355.63" width="16.08" height="1.79" fill="#fff7f7"/><rect x="319.88" y="355.63" width="16.08" height="1.79" fill="#9494ff"/><rect x="335.75" y="355.63" width="16.08" height="1.79" fill="#a8a8ff"/><rect x="351.63" y="355.63" width="16.08" height="1.79" fill="#9191ff"/><rect x="367.51" y="355.63" width="16.08" height="1.79" fill="#fcfcff"/><rect x="383.38" y="355.63" width="16.08" height="1.79" fill="#8a8aff"/><rect x="399.26" y="355.63" width="16.08" height="1.79" fill="#ffd7d7"/><rect x="415.14" y="355.63" width="16.08" height="1.79" fill="#ffb9b9"/><rect x="431.02" y="355.63" width="16.08" height="1.79" fill="#ffbdbd"/><rect x="446.89" y="355.63" width="16.08" height="1.79" fill="#ffbdbd"/><rect x="462.77" y="355.63" width="16.08" height="1.79" fill="#ff6e6e"/><rect x="478.65" y="355.63" width="16.08" height="1.79" fill="#fffbfb"/><rect x="494.52" y="355.63" width="16.08" height="1.79" fill="#ffcaca"/><rect x="304.00" y="357.13" width="16.08" height="1.79" fill="#ececff"/><rect x="319.88" y="357.13" width="16.08" height="1.79" fill="#9a9aff"/><rect x="335.75" y="357.13" width="16.08" height="1.79" fill="#b8b8ff"/><rect x="351.63" y="357.13" width="16.08" height="1.79" fill="#c3c3ff"/><rect x="367.51" y="357.13" width="16.08" height="1.79" fill="#dcdcff"/><rect x="383.38" y="357.13" width="16.08" height="1.79" fill="#bcbcff"/><rect x="399.26" y="357.13" width="16.08" height="1.79" fill="#ffdada"/><rect x="415.14" y="357.13" width="16.08" height="1.79" fill="#ffa2a2"/><rect x="431.02" y="357.13" width="16.08" height="1.79" fill="#ffb7b7"/><rect x="446.89" y="357.13" width="16.08" height="1.79" fill="#ffaeae"/><rect x="462.77" y="357.13" width="16.08" height="1.79" fill="#ff8484"/><rect x="478.65" y="357.13" width="16.08" height="1.79" fill="#fff0f0"/><rect x="494.52" y="357.13" width="16.08" height="1.79" fill="#ffd6d6"/><rect x="304.00" y="358.62" width="16.08" height="1.79" fill="#fffafa"/><rect x="319.88" y="358.62" width="16.08" height="1.79" fill="#c1c1ff"/><rect x="335.75" y="358.62" width="16.08" height="1.79" fill="#a4a4ff"/><rect x="351.63" y="358.62" width="16.08" height="1.79" fill="#9393ff"/><rect x="367.51" y="358.62" width="16.08" height="1.79" fill="#ddddff"/><rect x="383.38" y="358.62" width="16.08" height="1.79" fill="#8686ff"/><rect x="399.26" y="358.62" width="16.08" height="1.79" fill="#ff9494"/><rect x="415.14" y="358.62" width="16.08" height="1.79" fill="#ffb7b7"/><rect x="431.02" y="358.62" width="16.08" height="1.79" fill="#ffb5b5"/><rect x="446.89" y="358.62" width="16.08" height="1.79" fill="#ffc1c1"/><rect x="462.77" y="358.62" width="16.08" height="1.79" fill="#ff9898"/><rect x="478.65" y="358.62" width="16.08" height="1.79" fill="#ffd1d1"/><rect x="494.52" y="358.62" width="16.08" height="1.79" fill="#ffb5b5"/><rect x="304.00" y="360.12" width="16.08" height="1.79" fill="#fff9f9"/><rect x="319.88" y="360.12" width="16.08" height="1.79" fill="#9c9cff"/><rect x="335.75" y="360.12" width="16.08" height="1.79" fill="#bebeff"/><rect x="351.63" y="360.12" width="16.08" height="1.79" fill="#9292ff"/><rect x="367.51" y="360.12" width="16.08" height="1.79" fill="#e9e9ff"/><rect x="383.38" y="360.12" width="16.08" height="1.79" fill="#aeaeff"/><rect x="399.26" y="360.12" width="16.08" height="1.79" fill="#ffb6b6"/><rect x="415.14" y="360.12" width="16.08" height="1.79" fill="#ffb7b7"/><rect x="431.02" y="360.12" width="16.08" height="1.79" fill="#ffcfcf"/><rect x="446.89" y="360.12" width="16.08" height="1.79" fill="#ff9f9f"/><rect x="462.77" y="360.12" width="16.08" height="1.79" fill="#ff7171"/><rect x="478.65" y="360.12" width="16.08" height="1.79" fill="#fff1f1"/><rect x="494.52" y="360.12" width="16.08" height="1.79" fill="#ffc2c2"/><rect x="304.00" y="361.61" width="16.08" height="1.79" fill="#acacff"/><rect x="319.88" y="361.61" width="16.08" height="1.79" fill="#9595ff"/><rect x="335.75" y="361.61" width="16.08" height="1.79" fill="#a4a4ff"/><rect x="351.63" y="361.61" width="16.08" height="1.79" fill="#b3b3ff"/><rect x="367.51" y="361.61" width="16.08" height="1.79" fill="#d6d6ff"/><rect x="383.38" y="361.61" width="16.08" height="1.79" fill="#c2c2ff"/><rect x="399.26" y="361.61" width="16.08" height="1.79" fill="#ffacac"/><rect x="415.14" y="361.61" width="16.08" height="1.79" fill="#ffc3c3"/><rect x="431.02" y="361.61" width="16.08" height="1.79" fill="#ffb4b4"/><rect x="446.89" y="361.61" width="16.08" height="1.79" fill="#ffcfcf"/><rect x="462.77" y="361.61" width="16.08" height="1.79" fill="#ff9191"/><rect x="478.65" y="361.61" width="16.08" height="1.79" fill="#ffe2e2"/><rect x="494.52" y="361.61" width="16.08" height="1.79" fill="#ffbaba"/><rect x="304.00" y="363.11" width="16.08" height="1.79" fill="#afafff"/><rect x="319.88" y="363.11" width="16.08" height="1.79" fill="#b9b9ff"/><rect x="335.75" y="363.11" width="16.08" height="1.79" fill="#a2a2ff"/><rect x="351.63" y="363.11" width="16.08" height="1.79" fill="#d9d9ff"/><rect x="367.51" y="363.11" width="16.08" height="1.79" fill="#c4c4ff"/><rect x="383.38" y="363.11" width="16.08" height="1.79" fill="#d8d8ff"/><rect x="399.26" y="363.11" width="16.08" height="1.79" fill="#ffafaf"/><rect x="415.14" y="363.11" width="16.08" height="1.79" fill="#ffcfcf"/><rect x="431.02" y="363.11" width="16.08" height="1.79" fill="#ffb1b1"/><rect x="446.89" y="363.11" width="16.08" height="1.79" fill="#ffb9b9"/><rect x="462.77" y="363.11" width="16.08" height="1.79" fill="#ffa6a6"/><rect x="478.65" y="363.11" width="16.08" height="1.79" fill="#ffc4c4"/><rect x="494.52" y="363.11" width="16.08" height="1.79" fill="#ffdddd"/></g>
<text x="33.5" y="199.3" font-size="9.8" text-anchor="start" font-weight="normal" fill="#231f20" textLength="53.2" lengthAdjust="spacingAndGlyphs" stroke="#231f20" stroke-width="0.25" >Homeostatic</text>
<text x="41" y="210.1" font-size="9.8" text-anchor="start" font-weight="normal" fill="#231f20" textLength="38" lengthAdjust="spacingAndGlyphs" stroke="#231f20" stroke-width="0.25" >microglia</text>
<text x="45.3" y="295" font-size="9.8" text-anchor="start" font-weight="normal" fill="#231f20" textLength="29.7" lengthAdjust="spacingAndGlyphs" stroke="#231f20" stroke-width="0.25" >BMDM</text>
<text x="34.9" y="339.2" font-size="9.8" text-anchor="start" font-weight="normal" fill="#231f20" textLength="49.7" lengthAdjust="spacingAndGlyphs" stroke="#231f20" stroke-width="0.25" >Perivascular</text>
<text x="32.1" y="350.3" font-size="9.8" text-anchor="start" font-weight="normal" fill="#231f20" textLength="56.7" lengthAdjust="spacingAndGlyphs" stroke="#231f20" stroke-width="0.25" >macrophages</text>
<line x1="30.8" y1="257.6" x2="214.2" y2="257.6" stroke="#000" stroke-width="1.1"/>
<line x1="30.8" y1="320.5" x2="214.2" y2="320.5" stroke="#000" stroke-width="1.1"/>
<text x="216.3" y="162.10" font-size="6.5" text-anchor="start" font-weight="normal" fill="#231f20" stroke="#231f20" stroke-width="0.25" >P2ry12</text>
<text x="216.3" y="169.94" font-size="6.5" text-anchor="start" font-weight="normal" fill="#231f20" stroke="#231f20" stroke-width="0.25" >Sall1</text>
<text x="216.3" y="177.78" font-size="6.5" text-anchor="start" font-weight="normal" fill="#231f20" stroke="#231f20" stroke-width="0.25" >Tmem119</text>
<text x="216.3" y="185.62" font-size="6.5" text-anchor="start" font-weight="normal" fill="#231f20" stroke="#231f20" stroke-width="0.25" >Siglech</text>
<text x="216.3" y="193.46" font-size="6.5" text-anchor="start" font-weight="normal" fill="#231f20" stroke="#231f20" stroke-width="0.25" >Cx3cr1</text>
<text x="216.3" y="201.30" font-size="6.5" text-anchor="start" font-weight="normal" fill="#231f20" stroke="#231f20" stroke-width="0.25" >Hexb</text>
<text x="216.3" y="209.14" font-size="6.5" text-anchor="start" font-weight="normal" fill="#231f20" stroke="#231f20" stroke-width="0.25" >Trem2</text>
<text x="216.3" y="216.98" font-size="6.5" text-anchor="start" font-weight="normal" fill="#231f20" stroke="#231f20" stroke-width="0.25" >Mertk</text>
<text x="216.3" y="224.82" font-size="6.5" text-anchor="start" font-weight="normal" fill="#231f20" stroke="#231f20" stroke-width="0.25" >Pros1</text>
<text x="216.3" y="232.66" font-size="6.5" text-anchor="start" font-weight="normal" fill="#231f20" stroke="#231f20" stroke-width="0.25" >Slc2a5</text>
<text x="216.3" y="240.50" font-size="6.5" text-anchor="start" font-weight="normal" fill="#231f20" stroke="#231f20" stroke-width="0.25" >Cd34</text>
<text x="216.3" y="248.34" font-size="6.5" text-anchor="start" font-weight="normal" fill="#231f20" stroke="#231f20" stroke-width="0.25" >Sall3</text>
<text x="216.3" y="256.18" font-size="6.5" text-anchor="start" font-weight="normal" fill="#231f20" stroke="#231f20" stroke-width="0.25" >Adamts1</text>
<text x="216.3" y="264.02" font-size="6.5" text-anchor="start" font-weight="normal" fill="#231f20" stroke="#231f20" stroke-width="0.25" >Apoe</text>
<text x="216.3" y="271.86" font-size="6.5" text-anchor="start" font-weight="normal" fill="#231f20" stroke="#231f20" stroke-width="0.25" >Ccr2</text>
<text x="216.3" y="279.70" font-size="6.5" text-anchor="start" font-weight="normal" fill="#231f20" stroke="#231f20" stroke-width="0.25" >Lyz2</text>
<text x="216.3" y="287.54" font-size="6.5" text-anchor="start" font-weight="normal" fill="#231f20" stroke="#231f20" stroke-width="0.25" >Clec12a</text>
<text x="216.3" y="295.38" font-size="6.5" text-anchor="start" font-weight="normal" fill="#231f20" stroke="#231f20" stroke-width="0.25" >Cd38</text>
<text x="216.3" y="303.22" font-size="6.5" text-anchor="start" font-weight="normal" fill="#231f20" stroke="#231f20" stroke-width="0.25" >Ifnar1</text>
<text x="216.3" y="311.06" font-size="6.5" text-anchor="start" font-weight="normal" fill="#231f20" stroke="#231f20" stroke-width="0.25" >Ms4a7</text>
<text x="216.3" y="318.90" font-size="6.5" text-anchor="start" font-weight="normal" fill="#231f20" stroke="#231f20" stroke-width="0.25" >Ly6c2</text>
<text x="216.3" y="326.74" font-size="6.5" text-anchor="start" font-weight="normal" fill="#231f20" stroke="#231f20" stroke-width="0.25" >Cd163</text>
<text x="216.3" y="334.58" font-size="6.5" text-anchor="start" font-weight="normal" fill="#231f20" stroke="#231f20" stroke-width="0.25" >Emr1</text>
<text x="216.3" y="342.42" font-size="6.5" text-anchor="start" font-weight="normal" fill="#231f20" stroke="#231f20" stroke-width="0.25" >Cd36</text>
<text x="216.3" y="350.26" font-size="6.5" text-anchor="start" font-weight="normal" fill="#231f20" stroke="#231f20" stroke-width="0.25" >Mrc1</text>
<text x="216.3" y="358.10" font-size="6.5" text-anchor="start" font-weight="normal" fill="#231f20" stroke="#231f20" stroke-width="0.25" >Lyve1</text>
<polygon points="44,474 45.4,473.5 49.2,472.7 53.1,470.8 56.2,468.8 58.5,468.1 60.4,468.5 63.1,470 66.2,470.8 69.2,471.2 70.4,469.2 71.5,468.1 73.5,467.7 76.2,465.8 78.5,463.8 80,462.3 81.1,457.2 82.6,449.1 84.1,441.1 86.1,437.6 87.6,434.1 88.1,429 88.6,425 89.2,422.3 89.6,411.6 91,402.7 91.9,399.6 93.2,400 94.1,399.2 95,397.4 96.1,397.9 96.3,402.7 96.7,407.2 97.6,409.8 98.5,418 99.2,425 101.2,433 103.2,443.1 105.2,454.2 107.7,463.2 110.2,469.3 112.3,472.8 114,474" fill="#e07f8e" stroke="none"/><polygon points="72,474 73.1,473.5 76.2,472.3 78.5,470.8 83.1,466.2 86.1,461.2 88.1,454.2 90.6,445.1 92.6,438.1 94.1,433 95.2,428 95.9,422.3 96.7,416 98,407.2 98.5,399.6 99.8,398.8 100.7,393.9 101.6,392.1 103.4,391.7 104.7,392.5 105.6,393.9 105.6,402.7 106.5,411.6 107.4,418.7 108.3,424.9 108.7,435.1 109.7,450.2 111.2,463.2 112.8,469.3 114.8,473.1 116,474" fill="#9ddca4" stroke="none" style="mix-blend-mode:multiply"/><polyline points="44,474 45.4,473.5 49.2,472.7 53.1,470.8 56.2,468.8 58.5,468.1 60.4,468.5 63.1,470 66.2,470.8 69.2,471.2 70.4,469.2 71.5,468.1 73.5,467.7 76.2,465.8 78.5,463.8 80,462.3 81.1,457.2 82.6,449.1 84.1,441.1 86.1,437.6 87.6,434.1 88.1,429 88.6,425 89.2,422.3 89.6,411.6 91,402.7 91.9,399.6 93.2,400 94.1,399.2 95,397.4 96.1,397.9 96.3,402.7 96.7,407.2 97.6,409.8 98.5,418 99.2,425 101.2,433 103.2,443.1 105.2,454.2 107.7,463.2 110.2,469.3 112.3,472.8 114,474" fill="none" stroke="#c8102e" stroke-width="1.1" stroke-linejoin="round" style="mix-blend-mode:multiply"/><polyline points="72,474 73.1,473.5 76.2,472.3 78.5,470.8 83.1,466.2 86.1,461.2 88.1,454.2 90.6,445.1 92.6,438.1 94.1,433 95.2,428 95.9,422.3 96.7,416 98,407.2 98.5,399.6 99.8,398.8 100.7,393.9 101.6,392.1 103.4,391.7 104.7,392.5 105.6,393.9 105.6,402.7 106.5,411.6 107.4,418.7 108.3,424.9 108.7,435.1 109.7,450.2 111.2,463.2 112.8,469.3 114.8,473.1 116,474" fill="none" stroke="#2fb53c" stroke-width="1.1" stroke-linejoin="round" style="mix-blend-mode:multiply"/><polygon points="326,474 327.2,473.3 330.8,469.4 332.6,464 334.4,453.2 336.2,442.5 338,429.9 338.9,420.9 339.7,419.1 340.6,420.9 341.5,411.9 343.3,403 344.8,396.7 345.7,397.6 346.6,408.3 347.3,411 348.4,409.2 349.3,413.7 350.5,429.9 352.3,433.5 354.1,440.7 355.9,447.8 357.7,455 359.5,460.4 362.2,465.8 365.8,470.3 370.3,472.6 373.9,473.3 375,474" fill="#e07f8e" stroke="none"/><polygon points="345,474 346.9,473.3 352.3,471.2 357.7,467.9 361.3,464 364,458.6 366.3,451.4 368.1,438.9 369.4,426.3 371.2,413.7 372.4,403 373.9,395.8 375.3,391.3 377.1,392.2 378.3,395.8 379.6,404.7 381,415.5 382.5,428.1 383.7,438.9 385,451.4 386.8,460.4 389.1,467.6 391.8,471.2 394.5,473.3 396,474" fill="#9ddca4" stroke="none" style="mix-blend-mode:multiply"/><polyline points="326,474 327.2,473.3 330.8,469.4 332.6,464 334.4,453.2 336.2,442.5 338,429.9 338.9,420.9 339.7,419.1 340.6,420.9 341.5,411.9 343.3,403 344.8,396.7 345.7,397.6 346.6,408.3 347.3,411 348.4,409.2 349.3,413.7 350.5,429.9 352.3,433.5 354.1,440.7 355.9,447.8 357.7,455 359.5,460.4 362.2,465.8 365.8,470.3 370.3,472.6 373.9,473.3 375,474" fill="none" stroke="#c8102e" stroke-width="1.1" stroke-linejoin="round" style="mix-blend-mode:multiply"/><polyline points="345,474 346.9,473.3 352.3,471.2 357.7,467.9 361.3,464 364,458.6 366.3,451.4 368.1,438.9 369.4,426.3 371.2,413.7 372.4,403 373.9,395.8 375.3,391.3 377.1,392.2 378.3,395.8 379.6,404.7 381,415.5 382.5,428.1 383.7,438.9 385,451.4 386.8,460.4 389.1,467.6 391.8,471.2 394.5,473.3 396,474" fill="none" stroke="#2fb53c" stroke-width="1.1" stroke-linejoin="round" style="mix-blend-mode:multiply"/>
<path d="M41.6,474 L41.6,380.7 L135,380.7 L135,474 Z" fill="none" stroke="#000" stroke-width="1"/>
<line x1="38.1" y1="474.00" x2="41.6" y2="474.00" stroke="#000" stroke-width="0.9"/>
<text x="34.2" y="477.00" font-size="8.4" text-anchor="end" font-weight="normal" fill="#231f20" textLength="3.77" lengthAdjust="spacingAndGlyphs" stroke="#231f20" stroke-width="0.25" >0</text>
<line x1="39.4" y1="469.52" x2="41.6" y2="469.52" stroke="#000" stroke-width="0.7"/>
<line x1="39.4" y1="465.05" x2="41.6" y2="465.05" stroke="#000" stroke-width="0.7"/>
<line x1="39.4" y1="460.57" x2="41.6" y2="460.57" stroke="#000" stroke-width="0.7"/>
<line x1="38.1" y1="456.10" x2="41.6" y2="456.10" stroke="#000" stroke-width="0.9"/>
<text x="34.2" y="459.10" font-size="8.4" text-anchor="end" font-weight="normal" fill="#231f20" textLength="7.54" lengthAdjust="spacingAndGlyphs" stroke="#231f20" stroke-width="0.25" >20</text>
<line x1="39.4" y1="451.62" x2="41.6" y2="451.62" stroke="#000" stroke-width="0.7"/>
<line x1="39.4" y1="447.15" x2="41.6" y2="447.15" stroke="#000" stroke-width="0.7"/>
<line x1="39.4" y1="442.68" x2="41.6" y2="442.68" stroke="#000" stroke-width="0.7"/>
<line x1="38.1" y1="438.20" x2="41.6" y2="438.20" stroke="#000" stroke-width="0.9"/>
<text x="34.2" y="441.20" font-size="8.4" text-anchor="end" font-weight="normal" fill="#231f20" textLength="7.54" lengthAdjust="spacingAndGlyphs" stroke="#231f20" stroke-width="0.25" >40</text>
<line x1="39.4" y1="433.72" x2="41.6" y2="433.72" stroke="#000" stroke-width="0.7"/>
<line x1="39.4" y1="429.25" x2="41.6" y2="429.25" stroke="#000" stroke-width="0.7"/>
<line x1="39.4" y1="424.77" x2="41.6" y2="424.77" stroke="#000" stroke-width="0.7"/>
<line x1="38.1" y1="420.30" x2="41.6" y2="420.30" stroke="#000" stroke-width="0.9"/>
<text x="34.2" y="423.30" font-size="8.4" text-anchor="end" font-weight="normal" fill="#231f20" textLength="7.54" lengthAdjust="spacingAndGlyphs" stroke="#231f20" stroke-width="0.25" >60</text>
<line x1="39.4" y1="415.82" x2="41.6" y2="415.82" stroke="#000" stroke-width="0.7"/>
<line x1="39.4" y1="411.35" x2="41.6" y2="411.35" stroke="#000" stroke-width="0.7"/>
<line x1="39.4" y1="406.88" x2="41.6" y2="406.88" stroke="#000" stroke-width="0.7"/>
<line x1="38.1" y1="402.40" x2="41.6" y2="402.40" stroke="#000" stroke-width="0.9"/>
<text x="34.2" y="405.40" font-size="8.4" text-anchor="end" font-weight="normal" fill="#231f20" textLength="7.54" lengthAdjust="spacingAndGlyphs" stroke="#231f20" stroke-width="0.25" >80</text>
<line x1="39.4" y1="397.92" x2="41.6" y2="397.92" stroke="#000" stroke-width="0.7"/>
<line x1="39.4" y1="393.45" x2="41.6" y2="393.45" stroke="#000" stroke-width="0.7"/>
<line x1="39.4" y1="388.97" x2="41.6" y2="388.97" stroke="#000" stroke-width="0.7"/>
<line x1="38.1" y1="384.50" x2="41.6" y2="384.50" stroke="#000" stroke-width="0.9"/>
<text x="34.2" y="387.50" font-size="8.4" text-anchor="end" font-weight="normal" fill="#231f20" textLength="11.31" lengthAdjust="spacingAndGlyphs" stroke="#231f20" stroke-width="0.25" >100</text>
<path d="M305.9,474 L305.9,378.8 L401.5,378.8 L401.5,474 Z" fill="none" stroke="#000" stroke-width="1"/>
<line x1="302.4" y1="474.00" x2="305.9" y2="474.00" stroke="#000" stroke-width="0.9"/>
<text x="298.5" y="477.00" font-size="8.4" text-anchor="end" font-weight="normal" fill="#231f20" textLength="3.77" lengthAdjust="spacingAndGlyphs" stroke="#231f20" stroke-width="0.25" >0</text>
<line x1="303.7" y1="469.43" x2="305.9" y2="469.43" stroke="#000" stroke-width="0.7"/>
<line x1="303.7" y1="464.86" x2="305.9" y2="464.86" stroke="#000" stroke-width="0.7"/>
<line x1="303.7" y1="460.29" x2="305.9" y2="460.29" stroke="#000" stroke-width="0.7"/>
<line x1="302.4" y1="455.72" x2="305.9" y2="455.72" stroke="#000" stroke-width="0.9"/>
<text x="298.5" y="458.72" font-size="8.4" text-anchor="end" font-weight="normal" fill="#231f20" textLength="7.54" lengthAdjust="spacingAndGlyphs" stroke="#231f20" stroke-width="0.25" >20</text>
<line x1="303.7" y1="451.15" x2="305.9" y2="451.15" stroke="#000" stroke-width="0.7"/>
<line x1="303.7" y1="446.58" x2="305.9" y2="446.58" stroke="#000" stroke-width="0.7"/>
<line x1="303.7" y1="442.01" x2="305.9" y2="442.01" stroke="#000" stroke-width="0.7"/>
<line x1="302.4" y1="437.44" x2="305.9" y2="437.44" stroke="#000" stroke-width="0.9"/>
<text x="298.5" y="440.44" font-size="8.4" text-anchor="end" font-weight="normal" fill="#231f20" textLength="7.54" lengthAdjust="spacingAndGlyphs" stroke="#231f20" stroke-width="0.25" >40</text>
<line x1="303.7" y1="432.87" x2="305.9" y2="432.87" stroke="#000" stroke-width="0.7"/>
<line x1="303.7" y1="428.30" x2="305.9" y2="428.30" stroke="#000" stroke-width="0.7"/>
<line x1="303.7" y1="423.73" x2="305.9" y2="423.73" stroke="#000" stroke-width="0.7"/>
<line x1="302.4" y1="419.16" x2="305.9" y2="419.16" stroke="#000" stroke-width="0.9"/>
<text x="298.5" y="422.16" font-size="8.4" text-anchor="end" font-weight="normal" fill="#231f20" textLength="7.54" lengthAdjust="spacingAndGlyphs" stroke="#231f20" stroke-width="0.25" >60</text>
<line x1="303.7" y1="414.59" x2="305.9" y2="414.59" stroke="#000" stroke-width="0.7"/>
<line x1="303.7" y1="410.02" x2="305.9" y2="410.02" stroke="#000" stroke-width="0.7"/>
<line x1="303.7" y1="405.45" x2="305.9" y2="405.45" stroke="#000" stroke-width="0.7"/>
<line x1="302.4" y1="400.88" x2="305.9" y2="400.88" stroke="#000" stroke-width="0.9"/>
<text x="298.5" y="403.88" font-size="8.4" text-anchor="end" font-weight="normal" fill="#231f20" textLength="7.54" lengthAdjust="spacingAndGlyphs" stroke="#231f20" stroke-width="0.25" >80</text>
<line x1="303.7" y1="396.31" x2="305.9" y2="396.31" stroke="#000" stroke-width="0.7"/>
<line x1="303.7" y1="391.74" x2="305.9" y2="391.74" stroke="#000" stroke-width="0.7"/>
<line x1="303.7" y1="387.17" x2="305.9" y2="387.17" stroke="#000" stroke-width="0.7"/>
<line x1="302.4" y1="382.60" x2="305.9" y2="382.60" stroke="#000" stroke-width="0.9"/>
<text x="298.5" y="385.60" font-size="8.4" text-anchor="end" font-weight="normal" fill="#231f20" textLength="11.31" lengthAdjust="spacingAndGlyphs" stroke="#231f20" stroke-width="0.25" >100</text>
<path d="M45.50,474 L45.50,477.2 M62.30,474 L62.30,477.2 M78.20,474 L78.20,477.2 M104.20,474 L104.20,477.2 M125.20,474 L125.20,477.2 M45.50,474 L45.50,476.3 M47.35,474 L47.35,476.3 M49.20,474 L49.20,476.3 M51.05,474 L51.05,476.3 M52.90,474 L52.90,476.3 M54.75,474 L54.75,476.3 M56.60,474 L56.60,476.3 M58.45,474 L58.45,476.3 M60.30,474 L60.30,476.3 M62.15,474 L62.15,476.3 M64.00,474 L64.00,476.3 M65.85,474 L65.85,476.3 M67.70,474 L67.70,476.3 M69.55,474 L69.55,476.3 M71.40,474 L71.40,476.3 M73.25,474 L73.25,476.3 M75.10,474 L75.10,476.3 M76.95,474 L76.95,476.3 M78.80,474 L78.80,476.3 M86.03,474 L86.03,476.3 M90.61,474 L90.61,476.3 M93.85,474 L93.85,476.3 M96.37,474 L96.37,476.3 M98.43,474 L98.43,476.3 M100.17,474 L100.17,476.3 M101.68,474 L101.68,476.3 M103.01,474 L103.01,476.3 M110.52,474 L110.52,476.3 M114.22,474 L114.22,476.3 M116.84,474 L116.84,476.3 M118.88,474 L118.88,476.3 M120.54,474 L120.54,476.3 M121.95,474 L121.95,476.3 M123.16,474 L123.16,476.3 M124.24,474 L124.24,476.3 " stroke="#000" stroke-width="0.6" fill="none"/>
<path d="M331.00,474 L331.00,477.2 M367.00,474 L367.00,477.2 M307.00,474 L307.00,476.3 M310.00,474 L310.00,476.3 M313.00,474 L313.00,476.3 M316.00,474 L316.00,476.3 M319.00,474 L319.00,476.3 M322.00,474 L322.00,476.3 M325.00,474 L325.00,476.3 M328.00,474 L328.00,476.3 M341.84,474 L341.84,476.3 M348.18,474 L348.18,476.3 M352.67,474 L352.67,476.3 M356.16,474 L356.16,476.3 M359.01,474 L359.01,476.3 M361.42,474 L361.42,476.3 M363.51,474 L363.51,476.3 M365.35,474 L365.35,476.3 M377.84,474 L377.84,476.3 M384.18,474 L384.18,476.3 M388.67,474 L388.67,476.3 M392.16,474 L392.16,476.3 M395.01,474 L395.01,476.3 M397.42,474 L397.42,476.3 M399.51,474 L399.51,476.3 " stroke="#000" stroke-width="0.6" fill="none"/>
<text transform="translate(17.6,428.9) rotate(-90)" font-size="9.6" text-anchor="middle" fill="#231f20" textLength="68" lengthAdjust="spacingAndGlyphs" stroke="#231f20" stroke-width="0.25">Normalized to mode</text>
<text transform="translate(282.8,428.3) rotate(-90)" font-size="9.6" text-anchor="middle" fill="#231f20" textLength="67" lengthAdjust="spacingAndGlyphs" stroke="#231f20" stroke-width="0.25">Normalized to mode</text>
<text x="38.4" y="486.2" font-size="8.2" fill="#231f20" textLength="16.10" lengthAdjust="spacingAndGlyphs" stroke="#231f20" stroke-width="0.25">−10<tspan font-size="6.6" dy="-3.2">3</tspan></text>
<text x="62.3" y="486.2" font-size="8.2" text-anchor="middle" font-weight="normal" fill="#231f20" stroke="#231f20" stroke-width="0.25" >0</text>
<text x="74" y="486.2" font-size="8.2" fill="#231f20" textLength="11.30" lengthAdjust="spacingAndGlyphs" stroke="#231f20" stroke-width="0.25">10<tspan font-size="6.6" dy="-3.2">3</tspan></text>
<text x="100" y="486.2" font-size="8.2" fill="#231f20" textLength="10.80" lengthAdjust="spacingAndGlyphs" stroke="#231f20" stroke-width="0.25">10<tspan font-size="6.6" dy="-3.2">4</tspan></text>
<text x="119.8" y="486.2" font-size="8.2" fill="#231f20" textLength="11.80" lengthAdjust="spacingAndGlyphs" stroke="#231f20" stroke-width="0.25">10<tspan font-size="6.6" dy="-3.2">5</tspan></text>
<text x="73.8" y="500" font-size="9.2" text-anchor="start" font-weight="normal" fill="#231f20" textLength="24" lengthAdjust="spacingAndGlyphs" stroke="#231f20" stroke-width="0.25" >CX3CR1</text>
<text x="331.3" y="486.2" font-size="8.2" text-anchor="middle" font-weight="normal" fill="#231f20" stroke="#231f20" stroke-width="0.25" >0</text>
<text x="361.6" y="486.2" font-size="8.2" fill="#231f20" textLength="11.90" lengthAdjust="spacingAndGlyphs" stroke="#231f20" stroke-width="0.25">10<tspan font-size="6.6" dy="-3.2">3</tspan></text>
<text x="340" y="500" font-size="9.2" text-anchor="start" font-weight="normal" fill="#231f20" textLength="24" lengthAdjust="spacingAndGlyphs" stroke="#231f20" stroke-width="0.25" >P2RY12</text>
<line x1="185.8" y1="393.8" x2="185.8" y2="474.2" stroke="#000" stroke-width="1.1"/>
<line x1="182.4" y1="473.7" x2="247.5" y2="473.7" stroke="#222" stroke-width="1.3"/>
<line x1="182.5" y1="473.70" x2="185.8" y2="473.70" stroke="#000" stroke-width="0.9"/>
<text x="179.0" y="476.60" font-size="8.2" text-anchor="end" font-weight="normal" fill="#231f20" textLength="4.20" lengthAdjust="spacingAndGlyphs" stroke="#231f20" stroke-width="0.25" >0</text>
<line x1="182.5" y1="453.85" x2="185.8" y2="453.85" stroke="#000" stroke-width="0.9"/>
<text x="179.0" y="456.75" font-size="8.2" text-anchor="end" font-weight="normal" fill="#231f20" textLength="16.80" lengthAdjust="spacingAndGlyphs" stroke="#231f20" stroke-width="0.25" >2000</text>
<line x1="182.5" y1="434.00" x2="185.8" y2="434.00" stroke="#000" stroke-width="0.9"/>
<text x="179.0" y="436.90" font-size="8.2" text-anchor="end" font-weight="normal" fill="#231f20" textLength="16.80" lengthAdjust="spacingAndGlyphs" stroke="#231f20" stroke-width="0.25" >4000</text>
<line x1="182.5" y1="414.15" x2="185.8" y2="414.15" stroke="#000" stroke-width="0.9"/>
<text x="179.0" y="417.05" font-size="8.2" text-anchor="end" font-weight="normal" fill="#231f20" textLength="16.80" lengthAdjust="spacingAndGlyphs" stroke="#231f20" stroke-width="0.25" >6000</text>
<line x1="182.5" y1="394.30" x2="185.8" y2="394.30" stroke="#000" stroke-width="0.9"/>
<text x="179.0" y="397.20" font-size="8.2" text-anchor="end" font-weight="normal" fill="#231f20" textLength="16.80" lengthAdjust="spacingAndGlyphs" stroke="#231f20" stroke-width="0.25" >8000</text>
<text x="196.90" y="385.1" font-size="9.1" font-weight="bold" fill="#000" stroke="#000" stroke-width="0.1" textLength="35.4" lengthAdjust="spacingAndGlyphs">CX3CR1</text>
<rect x="194.2" y="445.80" width="17.10" height="27.90" fill="#e27d8e"/>
<path d="M202.75,443.20 L202.75,448.40 M199.55,443.20 L205.95,443.20 M199.55,448.40 L205.95,448.40 M199.55,445.80 L205.95,445.80" stroke="#c8102e" stroke-width="0.9" fill="none"/>
<circle cx="195.40" cy="444.20" r="1.65" fill="#c8102e"/>
<circle cx="202.80" cy="442.50" r="1.65" fill="#c8102e"/>
<circle cx="210.60" cy="439.60" r="1.65" fill="#c8102e"/>
<circle cx="210.60" cy="445.00" r="1.65" fill="#c8102e"/>
<circle cx="202.80" cy="448.80" r="1.65" fill="#c8102e"/>
<circle cx="202.80" cy="454.80" r="1.65" fill="#c8102e"/>
<rect x="221.3" y="419.90" width="17.00" height="53.80" fill="#97dc9f"/>
<path d="M229.80,417.10 L229.80,422.90 M226.60,417.10 L233.00,417.10 M226.60,422.90 L233.00,422.90 M226.60,419.90 L233.00,419.90" stroke="#2db83d" stroke-width="0.9" fill="none"/>
<rect x="228.15" y="408.15" width="3.3" height="3.3" fill="#2db83d"/>
<rect x="224.85" y="414.65" width="3.3" height="3.3" fill="#2db83d"/>
<rect x="231.45" y="414.65" width="3.3" height="3.3" fill="#2db83d"/>
<rect x="224.85" y="420.35" width="3.3" height="3.3" fill="#2db83d"/>
<rect x="231.45" y="423.65" width="3.3" height="3.3" fill="#2db83d"/>
<rect x="224.85" y="425.85" width="3.3" height="3.3" fill="#2db83d"/>
<line x1="202.4" y1="402.9" x2="229" y2="402.9" stroke="#707070" stroke-width="1.7"/>
<text x="215.70" y="403.00" font-size="9" font-weight="bold" text-anchor="middle" fill="#222">****</text>
<text x="202.75" y="485.7" font-size="7.9" text-anchor="middle" font-weight="normal" fill="#231f20" stroke="#231f20" stroke-width="0.25" >Donor</text>
<text x="229.8" y="485.7" font-size="7.9" text-anchor="middle" font-weight="normal" fill="#231f20" stroke="#231f20" stroke-width="0.25" >Host</text>
<path d="M202.6,473.7 L202.6,476.3 M229.7,473.7 L229.7,476.3" stroke="#000" stroke-width="0.8"/>
<text transform="translate(155.9,433.9) rotate(-90)" font-size="9" text-anchor="middle" fill="#231f20" textLength="11.8" lengthAdjust="spacingAndGlyphs" stroke="#231f20" stroke-width="0.25">MFI</text>
<line x1="451" y1="396.0" x2="451" y2="474.1" stroke="#000" stroke-width="1.1"/>
<line x1="447.6" y1="473.6" x2="510.8" y2="473.6" stroke="#222" stroke-width="1.3"/>
<line x1="447.7" y1="473.60" x2="451" y2="473.60" stroke="#000" stroke-width="0.9"/>
<text x="444.2" y="476.50" font-size="8.2" text-anchor="end" font-weight="normal" fill="#231f20" textLength="4.30" lengthAdjust="spacingAndGlyphs" stroke="#231f20" stroke-width="0.25" >0</text>
<line x1="447.7" y1="458.18" x2="451" y2="458.18" stroke="#000" stroke-width="0.9"/>
<text x="444.2" y="461.08" font-size="8.2" text-anchor="end" font-weight="normal" fill="#231f20" textLength="12.90" lengthAdjust="spacingAndGlyphs" stroke="#231f20" stroke-width="0.25" >500</text>
<line x1="447.7" y1="442.76" x2="451" y2="442.76" stroke="#000" stroke-width="0.9"/>
<text x="444.2" y="445.66" font-size="8.2" text-anchor="end" font-weight="normal" fill="#231f20" textLength="17.20" lengthAdjust="spacingAndGlyphs" stroke="#231f20" stroke-width="0.25" >1000</text>
<line x1="447.7" y1="427.34" x2="451" y2="427.34" stroke="#000" stroke-width="0.9"/>
<text x="444.2" y="430.24" font-size="8.2" text-anchor="end" font-weight="normal" fill="#231f20" textLength="17.20" lengthAdjust="spacingAndGlyphs" stroke="#231f20" stroke-width="0.25" >1500</text>
<line x1="447.7" y1="411.92" x2="451" y2="411.92" stroke="#000" stroke-width="0.9"/>
<text x="444.2" y="414.82" font-size="8.2" text-anchor="end" font-weight="normal" fill="#231f20" textLength="17.20" lengthAdjust="spacingAndGlyphs" stroke="#231f20" stroke-width="0.25" >2000</text>
<line x1="447.7" y1="396.50" x2="451" y2="396.50" stroke="#000" stroke-width="0.9"/>
<text x="444.2" y="399.40" font-size="8.2" text-anchor="end" font-weight="normal" fill="#231f20" textLength="17.20" lengthAdjust="spacingAndGlyphs" stroke="#231f20" stroke-width="0.25" >2500</text>
<text x="463.80" y="385.1" font-size="9.1" font-weight="bold" fill="#000" stroke="#000" stroke-width="0.1" textLength="33.5" lengthAdjust="spacingAndGlyphs">P2RY12</text>
<rect x="459.4" y="464.90" width="16.80" height="8.70" fill="#e27d8e"/>
<path d="M467.80,462.80 L467.80,466.80 M464.60,462.80 L471.00,462.80 M464.60,466.80 L471.00,466.80 M464.60,464.90 L471.00,464.90" stroke="#c8102e" stroke-width="0.9" fill="none"/>
<circle cx="460.50" cy="464.90" r="1.65" fill="#c8102e"/>
<circle cx="464.30" cy="463.30" r="1.65" fill="#c8102e"/>
<circle cx="467.80" cy="464.10" r="1.65" fill="#c8102e"/>
<circle cx="471.60" cy="464.00" r="1.65" fill="#c8102e"/>
<circle cx="475.40" cy="461.70" r="1.65" fill="#c8102e"/>
<circle cx="475.40" cy="465.30" r="1.65" fill="#c8102e"/>
<rect x="486" y="422.80" width="16.70" height="50.80" fill="#97dc9f"/>
<path d="M494.35,419.20 L494.35,426.00 M491.15,419.20 L497.55,419.20 M491.15,426.00 L497.55,426.00 M491.15,422.80 L497.55,422.80" stroke="#2db83d" stroke-width="0.9" fill="none"/>
<rect x="492.55" y="410.15" width="3.3" height="3.3" fill="#2db83d"/>
<rect x="484.65" y="420.35" width="3.3" height="3.3" fill="#2db83d"/>
<rect x="492.55" y="417.85" width="3.3" height="3.3" fill="#2db83d"/>
<rect x="499.35" y="421.45" width="3.3" height="3.3" fill="#2db83d"/>
<rect x="492.55" y="423.05" width="3.3" height="3.3" fill="#2db83d"/>
<rect x="492.55" y="427.95" width="3.3" height="3.3" fill="#2db83d"/>
<line x1="468" y1="402.9" x2="492.8" y2="402.9" stroke="#707070" stroke-width="1.7"/>
<text x="480.40" y="403.00" font-size="9" font-weight="bold" text-anchor="middle" fill="#222">****</text>
<text x="467.79999999999995" y="485.7" font-size="7.9" text-anchor="middle" font-weight="normal" fill="#231f20" stroke="#231f20" stroke-width="0.25" >Donor</text>
<text x="494.35" y="485.7" font-size="7.9" text-anchor="middle" font-weight="normal" fill="#231f20" stroke="#231f20" stroke-width="0.25" >Host</text>
<path d="M467.8,473.6 L467.8,476.20000000000005 M494.3,473.6 L494.3,476.20000000000005" stroke="#000" stroke-width="0.8"/>
<text transform="translate(421.4,433.5) rotate(-90)" font-size="9" text-anchor="middle" fill="#231f20" textLength="11.8" lengthAdjust="spacingAndGlyphs" stroke="#231f20" stroke-width="0.25">MFI</text>
</svg></body></html>
